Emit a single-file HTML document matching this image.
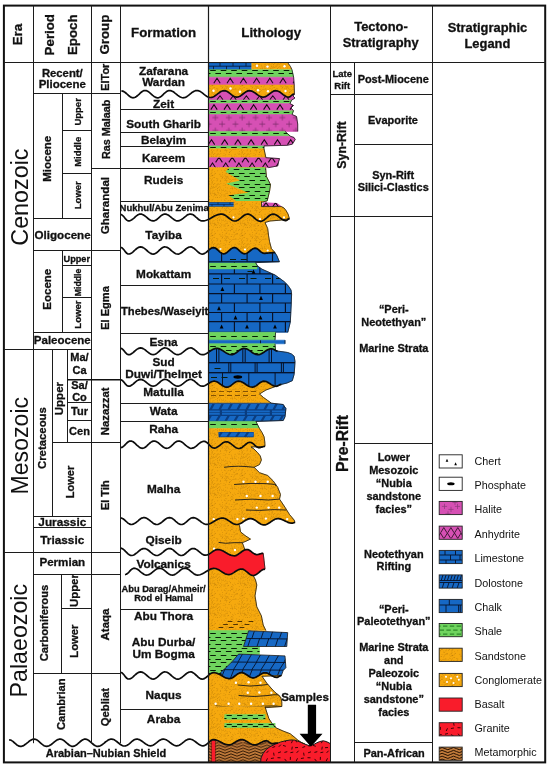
<!DOCTYPE html>
<html><head><meta charset="utf-8"><title>Stratigraphic column</title>
<style>html,body{margin:0;padding:0;background:#fff}svg{display:block;will-change:transform}text{font-family:"Liberation Sans",sans-serif;fill:#111}</style>
</head><body>
<svg width="550" height="769" viewBox="0 0 550 769">
<defs><pattern id="sand" width="30" height="30" patternUnits="userSpaceOnUse"><rect width="30" height="30" fill="#F6A90E"/><circle cx="9.7" cy="4.5" r="0.36" fill="#7a4600" fill-opacity="0.55"/><circle cx="19.5" cy="2.2" r="0.36" fill="#7a4600" fill-opacity="0.55"/><circle cx="16.1" cy="11.0" r="0.36" fill="#7a4600" fill-opacity="0.55"/><circle cx="1.7" cy="15.2" r="0.36" fill="#7a4600" fill-opacity="0.55"/><circle cx="1.1" cy="13.0" r="0.36" fill="#7a4600" fill-opacity="0.55"/><circle cx="2.1" cy="2.7" r="0.36" fill="#7a4600" fill-opacity="0.55"/><circle cx="12.7" cy="24.8" r="0.36" fill="#7a4600" fill-opacity="0.55"/><circle cx="3.7" cy="6.7" r="0.36" fill="#7a4600" fill-opacity="0.55"/><circle cx="18.8" cy="28.4" r="0.36" fill="#7a4600" fill-opacity="0.55"/><circle cx="17.3" cy="11.9" r="0.36" fill="#7a4600" fill-opacity="0.55"/><circle cx="29.3" cy="1.4" r="0.36" fill="#7a4600" fill-opacity="0.55"/><circle cx="25.8" cy="8.7" r="0.36" fill="#7a4600" fill-opacity="0.55"/><circle cx="4.3" cy="3.5" r="0.36" fill="#7a4600" fill-opacity="0.55"/><circle cx="9.3" cy="24.5" r="0.36" fill="#7a4600" fill-opacity="0.55"/><circle cx="5.4" cy="17.4" r="0.36" fill="#7a4600" fill-opacity="0.55"/><circle cx="19.2" cy="11.2" r="0.36" fill="#7a4600" fill-opacity="0.55"/><circle cx="16.4" cy="1.9" r="0.36" fill="#7a4600" fill-opacity="0.55"/><circle cx="1.8" cy="6.2" r="0.36" fill="#7a4600" fill-opacity="0.55"/><circle cx="20.4" cy="12.8" r="0.36" fill="#7a4600" fill-opacity="0.55"/><circle cx="9.4" cy="17.6" r="0.36" fill="#7a4600" fill-opacity="0.55"/><circle cx="13.6" cy="9.0" r="0.36" fill="#7a4600" fill-opacity="0.55"/><circle cx="23.8" cy="21.0" r="0.36" fill="#7a4600" fill-opacity="0.55"/><circle cx="7.3" cy="17.2" r="0.36" fill="#7a4600" fill-opacity="0.55"/><circle cx="15.8" cy="26.3" r="0.36" fill="#7a4600" fill-opacity="0.55"/><circle cx="21.9" cy="8.6" r="0.36" fill="#7a4600" fill-opacity="0.55"/><circle cx="29.4" cy="3.5" r="0.36" fill="#7a4600" fill-opacity="0.55"/><circle cx="12.5" cy="22.7" r="0.36" fill="#7a4600" fill-opacity="0.55"/><circle cx="4.6" cy="14.7" r="0.36" fill="#7a4600" fill-opacity="0.55"/><circle cx="1.2" cy="20.0" r="0.36" fill="#7a4600" fill-opacity="0.55"/><circle cx="22.9" cy="17.2" r="0.36" fill="#7a4600" fill-opacity="0.55"/><circle cx="26.3" cy="9.4" r="0.36" fill="#7a4600" fill-opacity="0.55"/><circle cx="20.9" cy="17.8" r="0.36" fill="#7a4600" fill-opacity="0.55"/><circle cx="17.4" cy="13.7" r="0.36" fill="#7a4600" fill-opacity="0.55"/><circle cx="25.2" cy="28.3" r="0.36" fill="#7a4600" fill-opacity="0.55"/><circle cx="14.2" cy="19.9" r="0.36" fill="#7a4600" fill-opacity="0.55"/><circle cx="1.8" cy="21.0" r="0.36" fill="#7a4600" fill-opacity="0.55"/><circle cx="19.4" cy="29.8" r="0.36" fill="#7a4600" fill-opacity="0.55"/><circle cx="24.7" cy="8.5" r="0.36" fill="#7a4600" fill-opacity="0.55"/><circle cx="11.6" cy="20.1" r="0.36" fill="#7a4600" fill-opacity="0.55"/><circle cx="0.7" cy="13.9" r="0.36" fill="#7a4600" fill-opacity="0.55"/><circle cx="5.0" cy="3.5" r="0.36" fill="#7a4600" fill-opacity="0.55"/><circle cx="1.8" cy="23.0" r="0.36" fill="#7a4600" fill-opacity="0.55"/><circle cx="3.9" cy="7.4" r="0.36" fill="#7a4600" fill-opacity="0.55"/><circle cx="11.7" cy="26.1" r="0.36" fill="#7a4600" fill-opacity="0.55"/><circle cx="2.4" cy="13.5" r="0.36" fill="#7a4600" fill-opacity="0.55"/><circle cx="16.5" cy="26.5" r="0.36" fill="#7a4600" fill-opacity="0.55"/><circle cx="24.6" cy="25.9" r="0.36" fill="#7a4600" fill-opacity="0.55"/><circle cx="8.4" cy="12.5" r="0.36" fill="#7a4600" fill-opacity="0.55"/><circle cx="10.8" cy="26.5" r="0.36" fill="#7a4600" fill-opacity="0.55"/><circle cx="28.7" cy="4.5" r="0.36" fill="#7a4600" fill-opacity="0.55"/><circle cx="5.3" cy="7.0" r="0.36" fill="#7a4600" fill-opacity="0.55"/><circle cx="7.0" cy="14.5" r="0.36" fill="#7a4600" fill-opacity="0.55"/><circle cx="17.7" cy="7.9" r="0.36" fill="#7a4600" fill-opacity="0.55"/><circle cx="0.1" cy="12.6" r="0.36" fill="#7a4600" fill-opacity="0.55"/><circle cx="11.1" cy="17.0" r="0.36" fill="#7a4600" fill-opacity="0.55"/><circle cx="28.6" cy="20.7" r="0.36" fill="#7a4600" fill-opacity="0.55"/><circle cx="15.5" cy="18.5" r="0.36" fill="#7a4600" fill-opacity="0.55"/><circle cx="20.3" cy="1.6" r="0.36" fill="#7a4600" fill-opacity="0.55"/><circle cx="27.0" cy="23.4" r="0.36" fill="#7a4600" fill-opacity="0.55"/><circle cx="26.2" cy="23.9" r="0.36" fill="#7a4600" fill-opacity="0.55"/><circle cx="11.8" cy="12.0" r="0.36" fill="#7a4600" fill-opacity="0.55"/><circle cx="3.1" cy="19.0" r="0.36" fill="#7a4600" fill-opacity="0.55"/><circle cx="1.9" cy="2.0" r="0.36" fill="#7a4600" fill-opacity="0.55"/><circle cx="6.3" cy="4.9" r="0.36" fill="#7a4600" fill-opacity="0.55"/><circle cx="10.2" cy="1.6" r="0.36" fill="#7a4600" fill-opacity="0.55"/><circle cx="0.0" cy="4.5" r="0.36" fill="#7a4600" fill-opacity="0.55"/><circle cx="3.0" cy="10.9" r="0.36" fill="#7a4600" fill-opacity="0.55"/><circle cx="0.8" cy="26.2" r="0.36" fill="#7a4600" fill-opacity="0.55"/><circle cx="18.4" cy="4.5" r="0.36" fill="#7a4600" fill-opacity="0.55"/><circle cx="7.6" cy="10.4" r="0.36" fill="#7a4600" fill-opacity="0.55"/><circle cx="10.9" cy="3.7" r="0.36" fill="#7a4600" fill-opacity="0.55"/><circle cx="25.5" cy="29.8" r="0.36" fill="#7a4600" fill-opacity="0.55"/><circle cx="14.0" cy="14.5" r="0.36" fill="#7a4600" fill-opacity="0.55"/><circle cx="2.6" cy="3.1" r="0.36" fill="#7a4600" fill-opacity="0.55"/><circle cx="10.3" cy="7.9" r="0.36" fill="#7a4600" fill-opacity="0.55"/><circle cx="24.9" cy="4.8" r="0.36" fill="#7a4600" fill-opacity="0.55"/><circle cx="0.7" cy="28.5" r="0.36" fill="#7a4600" fill-opacity="0.55"/><circle cx="15.8" cy="4.4" r="0.36" fill="#7a4600" fill-opacity="0.55"/><circle cx="16.3" cy="0.8" r="0.36" fill="#7a4600" fill-opacity="0.55"/><circle cx="15.8" cy="29.4" r="0.36" fill="#7a4600" fill-opacity="0.55"/><circle cx="25.9" cy="20.9" r="0.36" fill="#7a4600" fill-opacity="0.55"/><circle cx="7.8" cy="11.0" r="0.36" fill="#7a4600" fill-opacity="0.55"/><circle cx="5.0" cy="23.2" r="0.36" fill="#7a4600" fill-opacity="0.55"/><circle cx="16.0" cy="23.4" r="0.36" fill="#7a4600" fill-opacity="0.55"/><circle cx="9.9" cy="6.7" r="0.36" fill="#7a4600" fill-opacity="0.55"/><circle cx="24.3" cy="29.5" r="0.36" fill="#7a4600" fill-opacity="0.55"/><circle cx="25.6" cy="24.2" r="0.36" fill="#7a4600" fill-opacity="0.55"/><circle cx="24.5" cy="22.2" r="0.36" fill="#7a4600" fill-opacity="0.55"/><circle cx="6.8" cy="15.5" r="0.36" fill="#7a4600" fill-opacity="0.55"/><circle cx="10.7" cy="0.9" r="0.36" fill="#7a4600" fill-opacity="0.55"/><circle cx="0.8" cy="8.4" r="0.36" fill="#7a4600" fill-opacity="0.55"/><circle cx="7.8" cy="20.8" r="0.36" fill="#7a4600" fill-opacity="0.55"/><circle cx="28.7" cy="13.4" r="0.36" fill="#7a4600" fill-opacity="0.55"/><circle cx="28.1" cy="29.6" r="0.36" fill="#7a4600" fill-opacity="0.55"/><circle cx="28.7" cy="10.9" r="0.36" fill="#7a4600" fill-opacity="0.55"/><circle cx="6.6" cy="6.8" r="0.36" fill="#7a4600" fill-opacity="0.55"/><circle cx="5.9" cy="6.1" r="0.36" fill="#7a4600" fill-opacity="0.55"/><circle cx="18.7" cy="27.0" r="0.36" fill="#7a4600" fill-opacity="0.55"/><circle cx="25.2" cy="14.4" r="0.36" fill="#7a4600" fill-opacity="0.55"/><circle cx="19.6" cy="24.0" r="0.36" fill="#7a4600" fill-opacity="0.55"/><circle cx="2.5" cy="19.8" r="0.36" fill="#7a4600" fill-opacity="0.55"/><circle cx="27.3" cy="23.5" r="0.36" fill="#7a4600" fill-opacity="0.55"/><circle cx="22.5" cy="14.3" r="0.36" fill="#7a4600" fill-opacity="0.55"/><circle cx="5.4" cy="23.7" r="0.36" fill="#7a4600" fill-opacity="0.55"/><circle cx="10.0" cy="24.0" r="0.36" fill="#7a4600" fill-opacity="0.55"/><circle cx="29.1" cy="11.9" r="0.36" fill="#7a4600" fill-opacity="0.55"/><circle cx="12.0" cy="28.4" r="0.36" fill="#7a4600" fill-opacity="0.55"/><circle cx="21.7" cy="5.1" r="0.36" fill="#7a4600" fill-opacity="0.55"/><circle cx="3.8" cy="4.5" r="0.36" fill="#7a4600" fill-opacity="0.55"/><circle cx="27.1" cy="24.2" r="0.36" fill="#7a4600" fill-opacity="0.55"/><circle cx="4.4" cy="24.8" r="0.36" fill="#7a4600" fill-opacity="0.55"/><circle cx="29.4" cy="19.7" r="0.36" fill="#7a4600" fill-opacity="0.55"/><circle cx="10.5" cy="16.5" r="0.36" fill="#7a4600" fill-opacity="0.55"/><circle cx="3.9" cy="0.4" r="0.36" fill="#7a4600" fill-opacity="0.55"/><circle cx="29.1" cy="19.5" r="0.36" fill="#7a4600" fill-opacity="0.55"/><circle cx="15.8" cy="28.0" r="0.36" fill="#7a4600" fill-opacity="0.55"/><circle cx="13.0" cy="26.2" r="0.36" fill="#7a4600" fill-opacity="0.55"/><circle cx="24.8" cy="6.3" r="0.36" fill="#7a4600" fill-opacity="0.55"/><circle cx="7.6" cy="8.8" r="0.36" fill="#7a4600" fill-opacity="0.55"/><circle cx="7.2" cy="17.6" r="0.36" fill="#7a4600" fill-opacity="0.55"/><circle cx="7.8" cy="12.6" r="0.36" fill="#7a4600" fill-opacity="0.55"/><circle cx="3.9" cy="27.3" r="0.36" fill="#7a4600" fill-opacity="0.55"/><circle cx="10.6" cy="13.7" r="0.36" fill="#7a4600" fill-opacity="0.55"/><circle cx="17.5" cy="27.1" r="0.36" fill="#7a4600" fill-opacity="0.55"/><circle cx="12.6" cy="27.5" r="0.36" fill="#7a4600" fill-opacity="0.55"/><circle cx="15.0" cy="16.0" r="0.36" fill="#7a4600" fill-opacity="0.55"/><circle cx="15.7" cy="0.6" r="0.36" fill="#7a4600" fill-opacity="0.55"/><circle cx="13.2" cy="5.5" r="0.36" fill="#7a4600" fill-opacity="0.55"/><circle cx="0.1" cy="24.0" r="0.36" fill="#7a4600" fill-opacity="0.55"/><circle cx="5.2" cy="14.2" r="0.36" fill="#7a4600" fill-opacity="0.55"/><circle cx="21.8" cy="16.7" r="0.36" fill="#7a4600" fill-opacity="0.55"/><circle cx="9.8" cy="15.6" r="0.36" fill="#7a4600" fill-opacity="0.55"/><circle cx="16.7" cy="23.5" r="0.36" fill="#7a4600" fill-opacity="0.55"/><circle cx="3.2" cy="16.8" r="0.36" fill="#7a4600" fill-opacity="0.55"/><circle cx="7.5" cy="8.3" r="0.36" fill="#7a4600" fill-opacity="0.55"/><circle cx="23.2" cy="15.2" r="0.36" fill="#7a4600" fill-opacity="0.55"/><circle cx="16.9" cy="22.8" r="0.36" fill="#7a4600" fill-opacity="0.55"/><circle cx="27.4" cy="13.3" r="0.36" fill="#7a4600" fill-opacity="0.55"/><circle cx="18.4" cy="15.2" r="0.36" fill="#7a4600" fill-opacity="0.55"/><circle cx="15.4" cy="20.8" r="0.36" fill="#7a4600" fill-opacity="0.55"/><circle cx="13.6" cy="16.0" r="0.36" fill="#7a4600" fill-opacity="0.55"/><circle cx="14.3" cy="28.2" r="0.36" fill="#7a4600" fill-opacity="0.55"/><circle cx="21.0" cy="26.3" r="0.36" fill="#7a4600" fill-opacity="0.55"/><circle cx="28.3" cy="7.8" r="0.36" fill="#7a4600" fill-opacity="0.55"/><circle cx="16.8" cy="28.3" r="0.36" fill="#7a4600" fill-opacity="0.55"/><circle cx="25.2" cy="4.1" r="0.36" fill="#7a4600" fill-opacity="0.55"/><circle cx="3.6" cy="13.3" r="0.36" fill="#7a4600" fill-opacity="0.55"/><circle cx="2.2" cy="7.2" r="0.36" fill="#7a4600" fill-opacity="0.55"/><circle cx="2.2" cy="20.1" r="0.36" fill="#7a4600" fill-opacity="0.55"/><circle cx="23.5" cy="26.9" r="0.36" fill="#7a4600" fill-opacity="0.55"/><circle cx="4.6" cy="21.5" r="0.36" fill="#7a4600" fill-opacity="0.55"/><circle cx="19.8" cy="4.3" r="0.36" fill="#7a4600" fill-opacity="0.55"/><circle cx="26.5" cy="29.0" r="0.36" fill="#7a4600" fill-opacity="0.55"/><circle cx="6.6" cy="28.6" r="0.36" fill="#7a4600" fill-opacity="0.55"/><circle cx="11.9" cy="14.6" r="0.36" fill="#7a4600" fill-opacity="0.55"/><circle cx="29.7" cy="25.0" r="0.36" fill="#7a4600" fill-opacity="0.55"/><circle cx="4.8" cy="12.9" r="0.36" fill="#7a4600" fill-opacity="0.55"/><circle cx="15.5" cy="10.2" r="0.36" fill="#7a4600" fill-opacity="0.55"/><circle cx="5.9" cy="9.6" r="0.36" fill="#7a4600" fill-opacity="0.55"/><circle cx="21.7" cy="0.6" r="0.36" fill="#7a4600" fill-opacity="0.55"/><circle cx="16.6" cy="13.2" r="0.36" fill="#7a4600" fill-opacity="0.55"/><circle cx="0.5" cy="9.9" r="0.36" fill="#7a4600" fill-opacity="0.55"/><circle cx="18.7" cy="15.4" r="0.36" fill="#7a4600" fill-opacity="0.55"/><circle cx="1.9" cy="29.6" r="0.36" fill="#7a4600" fill-opacity="0.55"/><circle cx="23.7" cy="29.2" r="0.36" fill="#7a4600" fill-opacity="0.55"/><circle cx="3.1" cy="8.0" r="0.36" fill="#7a4600" fill-opacity="0.55"/><circle cx="1.2" cy="23.4" r="0.36" fill="#7a4600" fill-opacity="0.55"/><circle cx="8.1" cy="3.9" r="0.36" fill="#7a4600" fill-opacity="0.55"/><circle cx="12.7" cy="27.3" r="0.36" fill="#7a4600" fill-opacity="0.55"/><circle cx="24.6" cy="7.8" r="0.36" fill="#7a4600" fill-opacity="0.55"/><circle cx="4.5" cy="27.6" r="0.36" fill="#7a4600" fill-opacity="0.55"/><circle cx="17.1" cy="21.0" r="0.36" fill="#7a4600" fill-opacity="0.55"/><circle cx="2.7" cy="1.7" r="0.36" fill="#7a4600" fill-opacity="0.55"/><circle cx="20.6" cy="12.8" r="0.36" fill="#7a4600" fill-opacity="0.55"/><circle cx="2.2" cy="28.2" r="0.36" fill="#7a4600" fill-opacity="0.55"/><circle cx="19.0" cy="24.0" r="0.36" fill="#7a4600" fill-opacity="0.55"/><circle cx="2.5" cy="25.7" r="0.36" fill="#7a4600" fill-opacity="0.55"/><circle cx="2.0" cy="25.9" r="0.36" fill="#7a4600" fill-opacity="0.55"/><circle cx="13.6" cy="10.2" r="0.36" fill="#7a4600" fill-opacity="0.55"/><circle cx="16.6" cy="27.8" r="0.36" fill="#7a4600" fill-opacity="0.55"/><circle cx="8.0" cy="3.9" r="0.36" fill="#7a4600" fill-opacity="0.55"/><circle cx="15.8" cy="7.2" r="0.36" fill="#7a4600" fill-opacity="0.55"/><circle cx="3.3" cy="4.8" r="0.36" fill="#7a4600" fill-opacity="0.55"/><circle cx="1.5" cy="6.1" r="0.36" fill="#7a4600" fill-opacity="0.55"/><circle cx="9.4" cy="9.2" r="0.36" fill="#7a4600" fill-opacity="0.55"/><circle cx="22.8" cy="8.7" r="0.36" fill="#7a4600" fill-opacity="0.55"/><circle cx="15.0" cy="5.3" r="0.36" fill="#7a4600" fill-opacity="0.55"/><circle cx="10.4" cy="0.5" r="0.36" fill="#7a4600" fill-opacity="0.55"/><circle cx="7.5" cy="0.5" r="0.36" fill="#7a4600" fill-opacity="0.55"/><circle cx="22.0" cy="16.5" r="0.36" fill="#7a4600" fill-opacity="0.55"/><circle cx="5.7" cy="14.2" r="0.36" fill="#7a4600" fill-opacity="0.55"/><circle cx="28.0" cy="3.2" r="0.36" fill="#7a4600" fill-opacity="0.55"/><circle cx="24.6" cy="13.0" r="0.36" fill="#7a4600" fill-opacity="0.55"/><circle cx="14.9" cy="25.0" r="0.36" fill="#7a4600" fill-opacity="0.55"/><circle cx="11.8" cy="15.2" r="0.36" fill="#7a4600" fill-opacity="0.55"/><circle cx="20.6" cy="29.5" r="0.36" fill="#7a4600" fill-opacity="0.55"/><circle cx="10.3" cy="25.0" r="0.36" fill="#7a4600" fill-opacity="0.55"/><circle cx="21.2" cy="19.1" r="0.36" fill="#7a4600" fill-opacity="0.55"/><circle cx="12.1" cy="10.4" r="0.36" fill="#7a4600" fill-opacity="0.55"/><circle cx="1.6" cy="3.9" r="0.36" fill="#7a4600" fill-opacity="0.55"/><circle cx="2.1" cy="22.2" r="0.36" fill="#7a4600" fill-opacity="0.55"/><circle cx="7.7" cy="4.9" r="0.36" fill="#7a4600" fill-opacity="0.55"/><circle cx="2.5" cy="25.2" r="0.36" fill="#7a4600" fill-opacity="0.55"/><circle cx="26.1" cy="20.1" r="0.36" fill="#7a4600" fill-opacity="0.55"/><circle cx="8.5" cy="7.3" r="0.36" fill="#7a4600" fill-opacity="0.55"/><circle cx="8.8" cy="13.8" r="0.36" fill="#7a4600" fill-opacity="0.55"/><circle cx="4.7" cy="13.4" r="0.36" fill="#7a4600" fill-opacity="0.55"/><circle cx="7.9" cy="28.9" r="0.36" fill="#7a4600" fill-opacity="0.55"/><circle cx="29.2" cy="16.4" r="0.36" fill="#7a4600" fill-opacity="0.55"/><circle cx="7.3" cy="29.0" r="0.36" fill="#7a4600" fill-opacity="0.55"/><circle cx="9.3" cy="10.7" r="0.36" fill="#7a4600" fill-opacity="0.55"/><circle cx="0.0" cy="11.4" r="0.36" fill="#7a4600" fill-opacity="0.55"/><circle cx="14.2" cy="15.1" r="0.36" fill="#7a4600" fill-opacity="0.55"/><circle cx="6.0" cy="15.1" r="0.36" fill="#7a4600" fill-opacity="0.55"/><circle cx="0.1" cy="7.9" r="0.36" fill="#7a4600" fill-opacity="0.55"/><circle cx="2.7" cy="12.0" r="0.36" fill="#7a4600" fill-opacity="0.55"/><circle cx="1.3" cy="0.7" r="0.36" fill="#7a4600" fill-opacity="0.55"/><circle cx="9.1" cy="7.0" r="0.36" fill="#7a4600" fill-opacity="0.55"/><circle cx="17.6" cy="15.9" r="0.36" fill="#7a4600" fill-opacity="0.55"/><circle cx="22.5" cy="19.7" r="0.36" fill="#7a4600" fill-opacity="0.55"/><circle cx="21.5" cy="26.4" r="0.36" fill="#7a4600" fill-opacity="0.55"/><circle cx="11.7" cy="9.8" r="0.36" fill="#7a4600" fill-opacity="0.55"/><circle cx="29.5" cy="4.5" r="0.36" fill="#7a4600" fill-opacity="0.55"/><circle cx="21.7" cy="19.3" r="0.36" fill="#7a4600" fill-opacity="0.55"/><circle cx="1.3" cy="25.1" r="0.36" fill="#7a4600" fill-opacity="0.55"/><circle cx="26.8" cy="18.8" r="0.36" fill="#7a4600" fill-opacity="0.55"/><circle cx="22.0" cy="24.4" r="0.36" fill="#7a4600" fill-opacity="0.55"/><circle cx="4.2" cy="15.7" r="0.36" fill="#7a4600" fill-opacity="0.55"/><circle cx="15.1" cy="25.0" r="0.36" fill="#7a4600" fill-opacity="0.55"/><circle cx="24.1" cy="24.8" r="0.36" fill="#7a4600" fill-opacity="0.55"/><circle cx="17.5" cy="26.8" r="0.36" fill="#7a4600" fill-opacity="0.55"/><circle cx="20.5" cy="20.8" r="0.36" fill="#7a4600" fill-opacity="0.55"/><circle cx="6.9" cy="0.9" r="0.36" fill="#7a4600" fill-opacity="0.55"/><circle cx="4.0" cy="10.8" r="0.36" fill="#7a4600" fill-opacity="0.55"/><circle cx="3.1" cy="25.1" r="0.36" fill="#7a4600" fill-opacity="0.55"/><circle cx="16.8" cy="18.8" r="0.36" fill="#7a4600" fill-opacity="0.55"/><circle cx="18.8" cy="20.4" r="0.36" fill="#7a4600" fill-opacity="0.55"/><circle cx="14.7" cy="0.1" r="0.36" fill="#7a4600" fill-opacity="0.55"/><circle cx="23.9" cy="22.4" r="0.36" fill="#7a4600" fill-opacity="0.55"/><circle cx="15.1" cy="16.1" r="0.36" fill="#7a4600" fill-opacity="0.55"/><circle cx="19.8" cy="2.0" r="0.36" fill="#7a4600" fill-opacity="0.55"/><circle cx="22.1" cy="7.6" r="0.36" fill="#7a4600" fill-opacity="0.55"/><circle cx="2.2" cy="8.0" r="0.36" fill="#7a4600" fill-opacity="0.55"/><circle cx="21.9" cy="6.2" r="0.36" fill="#7a4600" fill-opacity="0.55"/><circle cx="22.2" cy="29.3" r="0.36" fill="#7a4600" fill-opacity="0.55"/><circle cx="14.8" cy="11.5" r="0.36" fill="#7a4600" fill-opacity="0.55"/><circle cx="14.4" cy="20.5" r="0.36" fill="#7a4600" fill-opacity="0.55"/><circle cx="23.0" cy="18.5" r="0.36" fill="#7a4600" fill-opacity="0.55"/><circle cx="19.3" cy="2.3" r="0.36" fill="#7a4600" fill-opacity="0.55"/><circle cx="4.4" cy="7.6" r="0.36" fill="#7a4600" fill-opacity="0.55"/><circle cx="22.3" cy="9.1" r="0.36" fill="#7a4600" fill-opacity="0.55"/><circle cx="17.0" cy="0.4" r="0.36" fill="#7a4600" fill-opacity="0.55"/><circle cx="1.8" cy="8.1" r="0.36" fill="#7a4600" fill-opacity="0.55"/><circle cx="20.2" cy="20.8" r="0.36" fill="#7a4600" fill-opacity="0.55"/><circle cx="20.3" cy="8.7" r="0.36" fill="#7a4600" fill-opacity="0.55"/><circle cx="15.5" cy="13.9" r="0.36" fill="#7a4600" fill-opacity="0.55"/><circle cx="14.0" cy="3.6" r="0.36" fill="#7a4600" fill-opacity="0.55"/><circle cx="26.8" cy="6.0" r="0.36" fill="#7a4600" fill-opacity="0.55"/><circle cx="29.3" cy="28.1" r="0.36" fill="#7a4600" fill-opacity="0.55"/><circle cx="0.5" cy="13.8" r="0.36" fill="#7a4600" fill-opacity="0.55"/></pattern><pattern id="shale" width="13" height="7.6" patternUnits="userSpaceOnUse"><rect width="13" height="7.6" fill="#6FD45E"/><path d="M1 1.9h6 M7.5 5.7h6 M-5.5 5.7h6" stroke="#0b2a08" stroke-width="1"/></pattern><pattern id="anh" width="13" height="20" patternUnits="userSpaceOnUse"><rect width="13" height="20" fill="#D650B4"/></pattern><pattern id="hal" width="13.4" height="13" patternUnits="userSpaceOnUse" patternTransform="translate(4.7 2.6)"><rect width="13.4" height="13" fill="#D650B4"/><path d="M3 1.5v6 M0 4.5h6 M9.7 8v6 M9.7 -5v6 M6.7 11h6 M6.7 -2h6" stroke="#7a2a68" stroke-width="0.7"/></pattern><pattern id="meta" width="24" height="23.2" patternUnits="userSpaceOnUse"><rect width="24" height="23.2" fill="#C07A3A"/><path d="M0 1.0 q3 -2.3 6 0 t6 0 t6 0 t6 0 M0 3.9 q3 -2.3 6 0 t6 0 t6 0 t6 0 M0 6.8 q3 -2.3 6 0 t6 0 t6 0 t6 0 M0 9.7 q3 -2.3 6 0 t6 0 t6 0 t6 0 M0 12.6 q3 -2.3 6 0 t6 0 t6 0 t6 0 M0 15.5 q3 -2.3 6 0 t6 0 t6 0 t6 0 M0 18.4 q3 -2.3 6 0 t6 0 t6 0 t6 0 M0 21.3 q3 -2.3 6 0 t6 0 t6 0 t6 0 " stroke="#241000" stroke-width="0.95" fill="none"/></pattern><pattern id="gran" width="30" height="30" patternUnits="userSpaceOnUse"><rect width="30" height="30" fill="#F91C2B"/><path d="M3.6 2.7L4.1 5.7M3.9 8.0L0.9 8.5M0.9 14.6L3.6 15.9M1.7 21.6L4.4 22.8M5.2 26.5L2.4 27.5M11.0 1.8L8.1 2.8M7.5 7.7L10.5 7.8M8.1 13.7L9.9 16.1M7.2 19.3L8.9 21.9M10.9 24.6L8.8 26.8M17.3 1.7L14.4 2.4M14.6 8.9L16.5 11.2M16.2 14.7L13.2 14.7M14.9 19.2L15.6 22.1M13.0 25.4L15.8 26.3M23.3 2.1L20.4 2.7M20.4 6.9L20.3 9.9M21.7 14.5L18.7 14.9M22.6 20.4L21.4 23.2M22.3 26.7L21.8 29.6M28.6 0.7L26.6 2.9M27.5 8.3L26.2 11.0M27.9 13.5L25.0 14.2M25.3 19.6L26.7 22.3M28.0 27.5L25.0 27.7" stroke="#200" stroke-width="0.9"/></pattern><clipPath id="c0"><path d="M209.0 62.6 L251.5 62.6 L251.5 62.6 L251.5 69.8 L251.5 69.8 L209.0 69.8 Z"/></clipPath><clipPath id="c1"><path d="M251.5 62.6 L287.7 62.6 L290.5 66.5 L292.0 69.8 L251.5 69.8 Z"/></clipPath><clipPath id="c2"><path d="M209.0 69.8 L292.0 69.8 L292.0 69.8 L293.6 77.2 L293.6 77.2 L209.0 77.2 Z"/></clipPath><clipPath id="c3"><path d="M209.0 77.2 L293.6 77.2 L293.6 77.2 L294.2 85.0 L294.2 85.0 L209.0 85.0 Z"/></clipPath><clipPath id="c4"><path d="M209.0 85.0 L294.2 85.0 L294.2 85.0 L294.4 93.0 L294.4 94.0 L293.1 94.3 L291.9 95.2 L290.6 96.3 L289.4 97.0 L288.1 97.1 L286.9 96.8 L285.6 96.3 L284.4 95.5 L283.1 94.6 L281.8 93.6 L280.6 92.6 L279.3 91.8 L278.1 91.2 L276.8 90.8 L275.6 90.7 L274.3 90.9 L273.0 91.5 L271.8 92.2 L270.5 93.1 L269.3 94.1 L268.0 95.1 L266.8 95.9 L265.5 96.6 L264.3 97.0 L263.0 97.1 L261.7 96.9 L260.5 96.5 L259.2 95.9 L258.0 95.1 L256.7 94.2 L255.5 93.3 L254.2 92.4 L253.0 91.7 L251.7 91.1 L250.4 90.8 L249.2 90.7 L247.9 90.9 L246.7 91.4 L245.4 92.2 L244.2 93.1 L242.9 94.1 L241.7 95.1 L240.4 95.9 L239.1 96.6 L237.9 97.0 L236.6 97.1 L235.4 96.9 L234.1 96.4 L232.9 95.7 L231.6 94.8 L230.3 93.8 L229.1 92.8 L227.8 92.0 L226.6 91.3 L225.3 90.8 L224.1 90.7 L222.8 90.8 L221.6 91.3 L220.3 91.9 L219.0 92.8 L217.8 93.7 L216.5 94.7 L215.3 95.6 L214.0 96.4 L212.8 97.0 L211.5 97.4 L210.3 97.5 L209.0 97.3 Z"/></clipPath><clipPath id="c5"><path d="M209.0 97.3 L210.3 97.5 L211.5 97.4 L212.8 97.0 L214.0 96.4 L215.3 95.6 L216.5 94.7 L217.8 93.7 L219.0 92.8 L220.3 91.9 L221.6 91.3 L222.8 90.8 L224.1 90.7 L225.3 90.8 L226.6 91.3 L227.8 92.0 L229.1 92.8 L230.3 93.8 L231.6 94.8 L232.9 95.7 L234.1 96.4 L235.4 96.9 L236.6 97.1 L237.9 97.0 L239.1 96.6 L240.4 95.9 L241.7 95.1 L242.9 94.1 L244.2 93.1 L245.4 92.2 L246.7 91.4 L247.9 90.9 L249.2 90.7 L250.4 90.8 L251.7 91.1 L253.0 91.7 L254.2 92.4 L255.5 93.3 L256.7 94.2 L258.0 95.1 L259.2 95.9 L260.5 96.5 L261.7 96.9 L263.0 97.1 L264.3 97.0 L265.5 96.6 L266.8 95.9 L268.0 95.1 L269.3 94.1 L270.5 93.1 L271.8 92.2 L273.0 91.5 L274.3 90.9 L275.6 90.7 L276.8 90.8 L278.1 91.2 L279.3 91.8 L280.6 92.6 L281.8 93.6 L283.1 94.6 L284.4 95.5 L285.6 96.3 L286.9 96.8 L288.1 97.1 L289.4 97.0 L290.6 96.3 L291.9 95.2 L293.1 94.3 L294.4 94.0 L294.4 94.0 L293.0 96.0 L295.0 98.0 L291.5 100.2 L291.5 100.2 L209.0 100.2 Z"/></clipPath><clipPath id="c6"><path d="M209.0 100.2 L291.5 100.2 L291.5 100.2 L290.0 103.6 L290.0 103.6 L209.0 103.6 Z"/></clipPath><clipPath id="c7"><path d="M209.0 103.6 L290.0 103.6 L290.0 103.6 L293.5 105.5 L291.0 108.0 L293.5 110.8 L293.5 110.8 L209.0 110.8 Z"/></clipPath><clipPath id="c8"><path d="M209.0 110.8 L293.5 110.8 L293.5 110.8 L292.0 114.5 L292.0 114.5 L209.0 114.5 Z"/></clipPath><clipPath id="c9"><path d="M209.0 114.5 L292.0 114.5 L292.0 114.5 L296.5 116.5 L297.7 124.0 L297.7 131.4 L297.7 131.4 L209.0 131.4 Z"/></clipPath><clipPath id="c10"><path d="M209.0 131.4 L285.0 131.4 L285.0 131.4 L290.5 136.3 L290.5 136.3 L209.0 136.3 Z"/></clipPath><clipPath id="c11"><path d="M209.0 136.3 L290.5 136.3 L290.5 136.3 L294.0 137.5 L295.2 139.5 L292.3 144.2 L287.0 145.3 L264.0 145.9 L264.0 145.9 L209.0 145.9 Z"/></clipPath><clipPath id="c12"><path d="M209.0 145.9 L264.0 145.9 L264.0 145.9 L264.0 148.8 L264.0 148.8 L209.0 148.8 Z"/></clipPath><clipPath id="c13"><path d="M209.0 148.8 L264.0 148.8 L264.0 148.8 L265.9 157.7 L265.9 157.7 L209.0 157.7 Z"/></clipPath><clipPath id="c14"><path d="M209.0 157.7 L265.9 157.7 L265.9 157.7 L279.5 158.6 L278.5 162.0 L277.7 165.9 L268.6 167.6 L268.6 167.6 L209.0 167.6 Z"/></clipPath><clipPath id="c15"><path d="M209.0 167.6 L265.6 167.6 L265.6 167.6 L266.4 176.4 L270.5 184.5 L269.6 191.1 L267.2 200.9 L261.5 202.3 L261.5 202.3 L209.0 202.3 Z"/></clipPath><clipPath id="c16"><path d="M229.5 167.6 L265.6 167.6 L266.4 176.4 L270.5 184.5 L269.6 191.1 L267.2 200.9 L236.1 200.9 L228.7 195.2 L248.4 192.7 L226.3 183.4 L240.2 180.5 L225.5 171.8 Z"/></clipPath><clipPath id="c17"><path d="M209.0 201.5 L261.5 201.5 L261.5 201.5 L261.5 206.6 L281.4 206.6 L284.0 208.0 L286.0 210.5 L288.0 214.0 L289.2 218.0 L289.2 218.6 L287.9 219.4 L286.7 220.4 L285.4 220.6 L284.2 220.3 L282.9 219.8 L281.7 219.0 L280.4 218.1 L279.2 217.0 L277.9 216.1 L276.7 215.2 L275.4 214.6 L274.2 214.2 L272.9 214.1 L271.7 214.4 L270.4 214.9 L269.1 215.8 L267.9 216.8 L266.6 217.9 L265.4 219.0 L264.1 219.9 L262.9 220.7 L261.6 221.2 L260.4 221.3 L259.1 221.1 L257.9 220.6 L256.6 219.8 L255.4 218.8 L254.1 217.7 L252.9 216.6 L251.6 215.6 L250.4 214.8 L249.1 214.3 L247.8 214.1 L246.6 214.2 L245.3 214.7 L244.1 215.4 L242.8 216.3 L241.6 217.4 L240.3 218.4 L239.1 219.4 L237.8 220.2 L236.6 220.7 L235.3 221.0 L234.1 220.9 L232.8 220.6 L231.6 220.0 L230.3 219.2 L229.1 218.2 L227.8 217.2 L226.5 216.3 L225.3 215.4 L224.0 214.7 L222.8 214.3 L221.5 214.1 L220.3 214.2 L219.0 214.4 L217.8 214.7 L216.5 215.1 L215.3 215.7 L214.0 216.3 L212.8 217.0 L211.5 217.7 L210.3 218.4 L209.0 219.1 Z"/></clipPath><clipPath id="c18"><path d="M209.0 202.2 L233.6 202.2 L233.6 206.6 L209.0 206.6 Z"/></clipPath><clipPath id="c19"><path d="M261.5 206.6 L263.1 202.2 L277.0 202.9 L281.9 206.6 Z"/></clipPath><clipPath id="c20"><path d="M209.0 219.1 L210.3 218.4 L211.5 217.7 L212.8 217.0 L214.0 216.3 L215.3 215.7 L216.5 215.1 L217.8 214.7 L219.0 214.4 L220.3 214.2 L221.5 214.1 L222.8 214.3 L224.0 214.7 L225.3 215.4 L226.5 216.3 L227.8 217.2 L229.1 218.2 L230.3 219.2 L231.6 220.0 L232.8 220.6 L234.1 220.9 L235.3 221.0 L236.6 220.7 L237.8 220.2 L239.1 219.4 L240.3 218.4 L241.6 217.4 L242.8 216.3 L244.1 215.4 L245.3 214.7 L246.6 214.2 L247.8 214.1 L249.1 214.3 L250.4 214.8 L251.6 215.6 L252.9 216.6 L254.1 217.7 L255.4 218.8 L256.6 219.8 L257.9 220.6 L259.1 221.1 L260.4 221.3 L261.6 221.2 L262.9 220.7 L264.1 219.9 L265.4 219.0 L266.6 217.9 L267.9 216.8 L269.1 215.8 L270.4 214.9 L271.7 214.4 L272.9 214.1 L274.2 214.2 L275.4 214.6 L276.7 215.2 L277.9 216.1 L279.2 217.0 L280.4 218.1 L281.7 219.0 L282.9 219.8 L284.2 220.3 L285.4 220.6 L286.7 220.4 L287.9 219.4 L289.2 218.6 L289.2 218.8 L280.0 220.2 L270.0 221.0 L265.0 222.5 L267.7 228.6 L268.6 235.9 L269.5 241.4 L271.4 248.6 L275.0 252.6 L275.0 252.6 L273.7 252.6 L272.5 252.7 L271.2 252.8 L269.9 252.9 L268.7 253.0 L267.4 253.1 L266.1 253.2 L264.8 253.3 L263.6 253.3 L262.3 252.8 L261.0 252.0 L259.8 250.9 L258.5 249.7 L257.2 248.8 L256.0 248.3 L254.7 248.2 L253.4 248.6 L252.2 249.3 L250.9 250.2 L249.6 251.2 L248.3 252.2 L247.1 253.0 L245.8 253.6 L244.5 253.8 L243.3 253.6 L242.0 252.9 L240.7 251.9 L239.5 250.8 L238.2 249.6 L236.9 248.6 L235.7 247.9 L234.4 247.6 L233.1 247.8 L231.8 248.4 L230.6 249.3 L229.3 250.4 L228.0 251.5 L226.8 252.6 L225.5 253.3 L224.2 253.7 L223.0 253.7 L221.7 253.3 L220.4 252.4 L219.2 251.3 L217.9 250.1 L216.6 248.9 L215.3 248.1 L214.1 247.6 L212.8 247.7 L211.5 248.1 L210.3 248.8 L209.0 249.9 Z"/></clipPath><clipPath id="c21"><path d="M209.0 249.9 L210.3 248.8 L211.5 248.1 L212.8 247.7 L214.1 247.6 L215.3 248.1 L216.6 248.9 L217.9 250.1 L219.2 251.3 L220.4 252.4 L221.7 253.3 L223.0 253.7 L224.2 253.7 L225.5 253.3 L226.8 252.6 L228.0 251.5 L229.3 250.4 L230.6 249.3 L231.8 248.4 L233.1 247.8 L234.4 247.6 L235.7 247.9 L236.9 248.6 L238.2 249.6 L239.5 250.8 L240.7 251.9 L242.0 252.9 L243.3 253.6 L244.5 253.8 L245.8 253.6 L247.1 253.0 L248.3 252.2 L249.6 251.2 L250.9 250.2 L252.2 249.3 L253.4 248.6 L254.7 248.2 L256.0 248.3 L257.2 248.8 L258.5 249.7 L259.8 250.9 L261.0 252.0 L262.3 252.8 L263.6 253.3 L264.8 253.3 L266.1 253.2 L267.4 253.1 L268.7 253.0 L269.9 252.9 L271.2 252.8 L272.5 252.7 L273.7 252.6 L275.0 252.6 L275.0 252.6 L277.0 256.0 L279.4 261.8 L255.5 262.6 L257.5 266.0 L262.0 269.2 L275.0 275.0 L284.0 281.5 L287.8 285.2 L291.0 290.0 L291.6 294.0 L291.2 305.0 L290.3 322.0 L287.8 332.3 L287.8 332.3 L209.0 332.3 Z"/></clipPath><clipPath id="c22"><path d="M209.0 332.3 L275.6 332.3 L275.6 332.3 L275.0 340.2 L275.0 340.2 L209.0 340.2 Z"/></clipPath><clipPath id="c23"><path d="M209.0 340.2 L285.0 340.2 L285.0 340.2 L285.0 343.8 L285.0 343.8 L209.0 343.8 Z"/></clipPath><clipPath id="c24"><path d="M209.0 343.8 L275.0 343.8 L275.0 343.8 L275.5 350.0 L275.5 350.5 L274.2 349.8 L273.0 349.1 L271.7 348.8 L270.5 348.9 L269.2 349.2 L268.0 349.7 L266.7 350.3 L265.5 351.1 L264.2 352.0 L263.0 352.8 L261.7 353.5 L260.4 354.1 L259.2 354.5 L257.9 354.7 L256.7 354.6 L255.4 354.3 L254.2 353.7 L252.9 353.0 L251.7 352.1 L250.4 351.2 L249.2 350.3 L247.9 349.5 L246.6 348.9 L245.4 348.5 L244.1 348.4 L242.9 348.5 L241.6 349.0 L240.4 349.6 L239.1 350.5 L237.9 351.5 L236.6 352.4 L235.3 353.3 L234.1 354.0 L232.8 354.5 L231.6 354.7 L230.3 354.6 L229.1 354.3 L227.8 353.8 L226.6 353.1 L225.3 352.4 L224.1 351.5 L222.8 350.7 L221.5 349.9 L220.3 349.2 L219.0 348.8 L217.8 348.5 L216.5 348.4 L215.3 348.6 L214.0 349.0 L212.8 349.5 L211.5 350.3 L210.3 351.1 L209.0 351.9 Z"/></clipPath><clipPath id="c25"><path d="M209.0 351.9 L210.3 351.1 L211.5 350.2 L212.8 349.5 L214.1 348.9 L215.4 348.6 L216.6 348.4 L217.9 348.5 L219.2 348.8 L220.4 349.3 L221.7 350.0 L223.0 350.8 L224.3 351.7 L225.5 352.5 L226.8 353.3 L228.1 353.9 L229.4 354.4 L230.6 354.7 L231.9 354.7 L233.2 354.4 L234.4 353.8 L235.7 353.1 L237.0 352.1 L238.3 351.2 L239.5 350.2 L240.8 349.4 L242.1 348.8 L243.3 348.5 L244.6 348.4 L245.9 348.7 L247.2 349.2 L248.4 349.9 L249.7 350.7 L251.0 351.6 L252.3 352.5 L253.5 353.3 L254.8 354.0 L256.1 354.5 L257.3 354.7 L258.6 354.6 L259.9 354.3 L261.2 353.8 L262.4 353.1 L263.7 352.3 L265.0 351.5 L266.2 350.6 L267.5 349.9 L268.8 349.3 L270.1 348.9 L271.3 348.8 L272.6 349.0 L273.9 349.6 L275.2 350.3 L276.4 350.9 L277.7 351.1 L277.7 351.1 L283.0 351.8 L287.7 352.5 L291.5 354.0 L294.1 356.2 L295.0 361.6 L294.6 368.0 L294.1 374.4 L292.3 380.7 L287.0 383.0 L281.4 384.4 L281.4 384.4 L280.1 384.6 L278.9 385.2 L277.6 385.9 L276.3 386.3 L275.0 386.2 L273.8 385.9 L272.5 385.3 L271.2 384.6 L270.0 383.7 L268.7 382.9 L267.4 382.1 L266.2 381.6 L264.9 381.3 L263.6 381.2 L262.3 381.5 L261.1 382.1 L259.8 382.9 L258.5 383.9 L257.3 384.9 L256.0 385.8 L254.7 386.5 L253.5 387.0 L252.2 387.1 L250.9 387.0 L249.6 386.6 L248.4 386.0 L247.1 385.2 L245.8 384.4 L244.6 383.6 L243.3 382.8 L242.0 382.1 L240.8 381.6 L239.5 381.3 L238.2 381.2 L236.9 381.5 L235.7 382.1 L234.4 382.9 L233.1 383.8 L231.9 384.8 L230.6 385.7 L229.3 386.5 L228.1 386.9 L226.8 387.1 L225.5 387.0 L224.2 386.5 L223.0 385.9 L221.7 385.0 L220.4 384.1 L219.2 383.2 L217.9 382.4 L216.6 381.8 L215.4 381.3 L214.1 381.2 L212.8 381.3 L211.5 381.8 L210.3 382.4 L209.0 383.2 Z"/></clipPath><clipPath id="c26"><path d="M209.0 383.2 L210.3 382.4 L211.5 381.8 L212.8 381.3 L214.1 381.2 L215.4 381.3 L216.6 381.8 L217.9 382.4 L219.2 383.2 L220.4 384.1 L221.7 385.0 L223.0 385.9 L224.2 386.5 L225.5 387.0 L226.8 387.1 L228.1 386.9 L229.3 386.5 L230.6 385.7 L231.9 384.8 L233.1 383.8 L234.4 382.9 L235.7 382.1 L236.9 381.5 L238.2 381.2 L239.5 381.3 L240.8 381.6 L242.0 382.1 L243.3 382.8 L244.6 383.6 L245.8 384.4 L247.1 385.2 L248.4 386.0 L249.6 386.6 L250.9 387.0 L252.2 387.1 L253.5 387.0 L254.7 386.5 L256.0 385.8 L257.3 384.9 L258.5 383.9 L259.8 382.9 L261.1 382.1 L262.3 381.5 L263.6 381.2 L264.9 381.3 L266.2 381.6 L267.4 382.1 L268.7 382.9 L270.0 383.7 L271.2 384.6 L272.5 385.3 L273.8 385.9 L275.0 386.2 L276.3 386.3 L277.6 385.9 L278.9 385.2 L280.1 384.6 L281.4 384.4 L281.4 384.4 L276.0 386.3 L266.0 390.0 L259.5 394.0 L263.5 397.5 L267.7 400.5 L271.4 403.2 L271.4 403.2 L209.0 403.2 Z"/></clipPath><clipPath id="c27"><path d="M209.0 403.2 L271.4 403.2 L271.4 403.2 L283.2 404.5 L285.9 408.6 L285.0 416.8 L283.2 420.5 L255.9 421.4 L255.9 421.4 L209.0 421.4 Z"/></clipPath><clipPath id="c28"><path d="M209.0 421.4 L255.9 421.4 L255.9 421.4 L259.5 428.6 L259.5 428.6 L209.0 428.6 Z"/></clipPath><clipPath id="c29"><path d="M209.0 428.6 L259.5 428.6 L259.5 428.6 L262.0 432.5 L264.1 436.8 L264.8 442.0 L265.0 446.4 L265.0 446.4 L263.7 446.5 L262.5 446.9 L261.2 447.3 L259.9 447.6 L258.6 447.7 L257.4 447.3 L256.1 446.4 L254.8 445.3 L253.5 444.1 L252.3 443.1 L251.0 442.5 L249.7 442.3 L248.5 442.6 L247.2 443.3 L245.9 444.2 L244.6 445.3 L243.4 446.4 L242.1 447.4 L240.8 448.1 L239.5 448.5 L238.3 448.4 L237.0 448.1 L235.7 447.5 L234.5 446.6 L233.2 445.6 L231.9 444.5 L230.6 443.5 L229.4 442.7 L228.1 442.1 L226.8 441.8 L225.5 441.9 L224.3 442.2 L223.0 442.9 L221.7 443.7 L220.5 444.7 L219.2 445.8 L217.9 446.7 L216.6 447.5 L215.4 447.9 L214.1 448.1 L212.8 447.8 L211.5 447.1 L210.3 445.9 L209.0 444.6 Z"/></clipPath><clipPath id="c30"><path d="M218.6 431.9 L253.7 431.9 L253.7 437.2 L218.6 437.2 Z"/></clipPath><clipPath id="c31"><path d="M209.0 444.6 L210.3 445.9 L211.5 447.1 L212.8 447.8 L214.1 448.1 L215.4 447.9 L216.6 447.5 L217.9 446.7 L219.2 445.8 L220.5 444.7 L221.7 443.7 L223.0 442.9 L224.3 442.2 L225.5 441.9 L226.8 441.8 L228.1 442.1 L229.4 442.7 L230.6 443.5 L231.9 444.5 L233.2 445.6 L234.5 446.6 L235.7 447.5 L237.0 448.1 L238.3 448.4 L239.5 448.5 L240.8 448.1 L242.1 447.4 L243.4 446.4 L244.6 445.3 L245.9 444.2 L247.2 443.3 L248.5 442.6 L249.7 442.3 L251.0 442.5 L252.3 443.1 L253.5 444.1 L254.8 445.3 L256.1 446.4 L257.4 447.3 L258.6 447.7 L259.9 447.6 L261.2 447.3 L262.5 446.9 L263.7 446.5 L265.0 446.4 L265.0 446.4 L251.0 447.0 L254.0 449.0 L257.7 452.7 L260.3 456.0 L261.4 460.0 L259.5 464.5 L254.1 467.3 L259.5 472.7 L267.7 475.5 L273.2 480.9 L277.7 487.3 L280.5 494.5 L279.5 499.1 L285.0 507.3 L289.5 514.5 L294.1 520.0 L295.0 522.4 L295.0 522.4 L293.7 522.8 L292.5 523.2 L291.2 523.1 L289.9 522.9 L288.7 522.5 L287.4 522.0 L286.1 521.5 L284.9 520.8 L283.6 520.2 L282.4 519.7 L281.1 519.2 L279.8 518.8 L278.6 518.6 L277.3 518.6 L276.0 518.8 L274.8 519.3 L273.5 520.0 L272.2 520.8 L271.0 521.7 L269.7 522.6 L268.4 523.4 L267.2 524.1 L265.9 524.6 L264.6 524.9 L263.4 524.9 L262.1 524.6 L260.9 524.1 L259.6 523.3 L258.3 522.5 L257.1 521.6 L255.8 520.7 L254.5 519.9 L253.3 519.2 L252.0 518.8 L250.7 518.6 L249.5 518.7 L248.2 519.0 L246.9 519.5 L245.7 520.2 L244.4 521.0 L243.1 521.9 L241.9 522.7 L240.6 523.4 L239.4 524.0 L238.1 524.4 L236.8 524.5 L235.6 524.4 L234.3 524.0 L233.0 523.5 L231.8 522.8 L230.5 522.0 L229.2 521.1 L228.0 520.2 L226.7 519.5 L225.4 518.8 L224.2 518.4 L222.9 518.1 L221.6 518.1 L220.4 518.3 L219.1 518.7 L217.9 519.2 L216.6 519.9 L215.3 520.6 L214.1 521.4 L212.8 522.2 L211.5 522.9 L210.3 523.5 L209.0 523.9 Z"/></clipPath><clipPath id="c32"><path d="M209.0 523.9 L210.3 523.5 L211.6 522.9 L212.8 522.1 L214.1 521.4 L215.4 520.6 L216.7 519.8 L218.0 519.2 L219.3 518.6 L220.5 518.3 L221.8 518.1 L223.1 518.1 L224.4 518.4 L225.7 518.9 L227.0 519.6 L228.2 520.4 L229.5 521.3 L230.8 522.2 L232.1 523.0 L233.4 523.7 L234.7 524.2 L235.9 524.4 L237.2 524.5 L238.5 524.3 L238.5 524.4 L239.5 525.5 L240.5 531.8 L245.0 535.5 L250.5 539.1 L246.0 541.2 L242.3 542.7 L244.1 547.5 L245.2 550.2 L245.2 549.7 L243.9 550.3 L242.6 551.0 L241.3 552.0 L240.0 553.0 L238.7 553.9 L237.4 554.8 L236.2 555.4 L234.9 555.7 L233.6 555.8 L232.3 555.6 L231.0 555.3 L229.7 554.7 L228.4 554.1 L227.1 553.4 L225.8 552.6 L224.5 551.8 L223.2 551.1 L221.9 550.5 L220.6 550.0 L219.3 549.7 L218.1 549.5 L216.8 549.6 L215.5 550.0 L214.2 550.6 L212.9 551.4 L211.6 552.4 L210.3 553.3 L209.0 554.1 Z"/></clipPath><clipPath id="c33"><path d="M209.0 554.1 L210.3 553.3 L211.5 552.4 L212.8 551.5 L214.0 550.7 L215.3 550.0 L216.6 549.6 L217.8 549.5 L219.1 549.6 L220.3 549.9 L221.6 550.3 L222.9 550.9 L224.1 551.6 L225.4 552.3 L226.6 553.1 L227.9 553.8 L229.2 554.5 L230.4 555.1 L231.7 555.5 L232.9 555.7 L234.2 555.8 L235.5 555.6 L236.7 555.2 L238.0 554.5 L239.3 553.6 L240.5 552.6 L241.8 551.6 L243.0 550.8 L244.3 550.1 L245.6 549.6 L246.8 549.5 L248.1 549.7 L249.3 550.3 L250.6 551.1 L251.9 552.1 L253.1 553.1 L254.4 553.9 L255.6 554.4 L256.9 554.6 L258.2 554.5 L259.4 554.1 L260.7 553.7 L261.9 553.4 L263.2 553.3 L263.2 553.3 L264.1 560.9 L265.0 569.1 L265.0 569.1 L263.7 569.3 L262.5 569.8 L261.2 570.6 L259.9 571.6 L258.6 572.7 L257.4 573.7 L256.1 574.6 L254.8 575.2 L253.5 575.5 L252.3 575.4 L251.0 575.0 L249.7 574.2 L248.5 573.2 L247.2 572.1 L245.9 571.1 L244.6 570.1 L243.4 569.4 L242.1 569.1 L240.8 569.0 L239.5 569.3 L238.3 569.8 L237.0 570.5 L235.7 571.3 L234.5 572.2 L233.2 573.0 L231.9 573.7 L230.6 574.3 L229.4 574.6 L228.1 574.6 L226.8 574.4 L225.5 573.9 L224.3 573.3 L223.0 572.6 L221.7 571.8 L220.5 570.9 L219.2 570.1 L217.9 569.4 L216.6 568.9 L215.4 568.5 L214.1 568.4 L212.8 568.5 L211.5 568.8 L210.3 569.2 L209.0 569.8 Z"/></clipPath><clipPath id="c34"><path d="M209.0 569.8 L210.3 569.2 L211.5 568.8 L212.8 568.5 L214.1 568.4 L215.3 568.5 L216.6 568.8 L217.8 569.4 L219.1 570.0 L220.4 570.8 L221.6 571.7 L222.9 572.5 L224.2 573.3 L225.4 573.9 L226.7 574.3 L227.9 574.6 L229.2 574.6 L230.5 574.3 L231.7 573.8 L233.0 573.1 L234.3 572.3 L235.5 571.4 L236.8 570.6 L238.0 569.9 L239.3 569.4 L240.6 569.1 L241.8 569.0 L243.1 569.3 L244.4 570.0 L245.6 570.8 L246.9 571.9 L248.1 573.0 L249.4 574.0 L250.7 574.8 L251.9 575.3 L253.2 575.5 L253.2 575.5 L255.5 580.0 L256.8 585.0 L255.0 595.9 L256.8 606.8 L261.4 615.9 L263.2 625.0 L265.9 630.6 L265.9 630.6 L209.0 630.6 Z"/></clipPath><clipPath id="c35"><path d="M209.0 630.6 L250.0 630.6 L250.0 630.6 L243.5 646.5 L259.5 646.5 L259.5 654.3 L240.0 654.3 L230.0 664.0 L222.0 672.0 L225.0 676.0 L225.0 677.5 L223.7 676.8 L222.3 676.1 L221.0 675.3 L219.7 674.5 L218.3 673.9 L217.0 673.3 L215.7 672.9 L214.3 672.6 L213.0 672.6 L211.7 673.0 L210.3 673.8 L209.0 674.9 Z"/></clipPath><clipPath id="c36"><path d="M248.6 630.8 L287.7 632.6 L286.8 646.5 L243.5 646.5 Z"/></clipPath><clipPath id="c37"><path d="M238.6 654.1 L285.0 655.9 L285.9 667.7 L283.2 670.5 L281.4 675.5 L281.4 675.5 L280.1 675.8 L278.9 676.6 L277.6 677.3 L276.3 677.4 L275.1 677.2 L273.8 676.7 L272.5 676.1 L271.2 675.3 L270.0 674.5 L268.7 673.8 L267.4 673.3 L266.2 672.9 L264.9 672.8 L263.6 673.0 L262.4 673.4 L261.1 674.0 L259.8 674.8 L258.5 675.7 L257.3 676.5 L256.0 677.1 L254.7 677.6 L253.5 677.8 L252.2 677.7 L250.9 677.3 L249.7 676.7 L248.4 675.9 L247.1 675.1 L245.9 674.2 L244.6 673.5 L243.3 672.9 L242.0 672.6 L240.8 672.6 L239.5 673.0 L238.2 673.6 L237.0 674.4 L235.7 675.4 L234.4 676.4 L233.2 677.3 L231.9 678.0 L230.6 678.5 L229.3 678.6 L228.1 678.5 L226.8 678.2 L225.5 677.7 L224.3 677.2 L223.0 676.5 L220.5 672.6 L225.0 668.6 L232.3 661.4 Z"/></clipPath><clipPath id="c38"><path d="M209.0 674.9 L210.3 673.8 L211.5 673.1 L212.8 672.7 L214.1 672.6 L215.4 672.8 L216.6 673.1 L217.9 673.6 L219.2 674.3 L220.4 675.0 L221.7 675.7 L223.0 676.5 L224.2 677.1 L225.5 677.7 L226.8 678.2 L228.1 678.5 L229.3 678.6 L230.6 678.5 L231.9 678.0 L233.1 677.3 L234.4 676.4 L235.7 675.4 L236.9 674.4 L238.2 673.6 L239.5 673.0 L240.8 672.6 L242.0 672.6 L243.3 672.9 L244.6 673.5 L245.8 674.2 L247.1 675.1 L248.4 675.9 L249.6 676.7 L250.9 677.3 L252.2 677.7 L253.5 677.8 L254.7 677.6 L256.0 677.1 L257.3 676.5 L258.5 675.7 L259.8 674.8 L261.1 674.0 L262.3 673.4 L263.6 673.0 L264.9 672.8 L266.2 672.9 L267.4 673.3 L268.7 673.8 L270.0 674.5 L271.2 675.3 L272.5 676.1 L273.8 676.7 L275.0 677.2 L276.3 677.4 L277.6 677.3 L278.9 676.6 L280.1 675.8 L281.4 675.5 L281.4 675.5 L262.0 676.3 L266.8 683.2 L271.0 688.0 L275.0 692.3 L278.5 695.0 L280.6 697.0 L281.8 702.0 L281.8 706.5 L265.3 707.7 L265.3 706.8 L209.0 706.8 Z"/></clipPath><clipPath id="c39"><path d="M209.0 706.8 L265.3 706.8 L265.3 707.7 L267.0 713.0 L268.8 718.4 L272.0 723.5 L275.9 727.8 L283.0 731.0 L290.1 733.7 L294.0 736.8 L297.2 739.6 L301.0 742.2 L304.3 743.9 L304.3 743.0 L303.0 743.0 L301.8 743.0 L300.5 743.0 L299.3 743.0 L298.0 743.0 L296.8 743.0 L295.5 743.0 L294.3 743.0 L293.0 743.0 L291.8 743.0 L290.5 743.0 L289.3 743.0 L288.0 743.0 L286.7 743.0 L285.5 743.0 L284.2 743.0 L283.0 743.0 L281.7 743.0 L280.5 743.0 L279.2 743.0 L278.0 743.0 L276.7 743.1 L275.5 743.2 L274.2 743.4 L273.0 743.5 L271.7 743.5 L270.4 743.0 L269.2 742.1 L267.9 741.1 L266.7 740.7 L265.4 740.8 L264.2 741.1 L262.9 741.6 L261.7 742.2 L260.4 742.9 L259.2 743.6 L257.9 744.2 L256.6 744.6 L255.4 744.9 L254.1 744.9 L252.9 744.7 L251.6 744.2 L250.4 743.6 L249.1 742.9 L247.9 742.1 L246.6 741.3 L245.4 740.6 L244.1 740.1 L242.9 739.7 L241.6 739.6 L240.3 739.7 L239.1 740.1 L237.8 740.6 L236.6 741.3 L235.3 742.1 L234.1 742.9 L232.8 743.6 L231.6 744.2 L230.3 744.7 L229.1 744.9 L227.8 744.9 L226.6 744.7 L225.3 744.3 L224.0 743.8 L222.8 743.2 L221.5 742.5 L220.3 741.8 L219.0 741.2 L217.8 740.6 L216.5 740.1 L215.3 739.8 L214.0 739.6 L212.8 739.7 L211.5 740.2 L210.3 741.0 L209.0 742.1 Z"/></clipPath><clipPath id="arb"><rect x="224.4" y="714.3" width="40.9" height="5.3"/><rect x="224.4" y="723.1" width="51" height="4.7"/></clipPath><clipPath id="c40"><path d="M209.0 742.1 L210.3 741.0 L211.5 740.2 L212.8 739.7 L214.0 739.6 L215.3 739.8 L216.5 740.1 L217.8 740.6 L219.0 741.2 L220.3 741.8 L221.5 742.5 L222.8 743.2 L224.1 743.8 L225.3 744.3 L226.6 744.7 L227.8 744.9 L229.1 744.9 L230.3 744.7 L231.6 744.2 L232.8 743.6 L234.1 742.9 L235.3 742.1 L236.6 741.3 L237.9 740.6 L239.1 740.1 L240.4 739.7 L241.6 739.6 L242.9 739.7 L244.1 740.1 L245.4 740.6 L246.6 741.3 L247.9 742.1 L249.1 742.9 L250.4 743.6 L251.7 744.3 L252.9 744.7 L254.2 744.9 L255.4 744.9 L256.7 744.6 L257.9 744.1 L259.2 743.5 L260.4 742.9 L261.7 742.2 L262.9 741.6 L264.2 741.1 L265.5 740.8 L266.7 740.7 L268.0 741.2 L269.2 742.1 L270.5 743.0 L271.7 743.5 L273.0 743.5 L274.2 743.3 L275.5 743.2 L276.7 743.1 L278.0 743.0 L278.0 763.0 L209.0 763.0 Z"/></clipPath><clipPath id="c41"><path d="M260.6 763.0 L261.0 758.0 L262.9 753.8 L266.0 749.5 L270.0 746.7 L275.9 743.9 L280.5 742.0 L285.4 740.8 L290.0 740.0 L294.8 740.1 L300.0 742.0 L304.3 743.9 L309.0 745.6 L313.0 744.8 L316.1 743.2 L319.5 741.6 L323.2 740.8 L326.5 741.6 L330.3 743.6 L330.3 763.0 Z"/></clipPath><clipPath id="lg0"><rect x="439.2" y="454.8" width="23" height="13.2"/></clipPath><clipPath id="lg1"><rect x="439.2" y="477.2" width="23" height="13.2"/></clipPath><clipPath id="lg2"><rect x="439.2" y="501.4" width="23" height="13.2"/></clipPath><clipPath id="lg3"><rect x="439.2" y="526.1" width="23" height="13.2"/></clipPath><clipPath id="lg4"><rect x="439.2" y="550.4" width="23" height="13.2"/></clipPath><clipPath id="lg5"><rect x="439.2" y="574.9" width="23" height="13.2"/></clipPath><clipPath id="lg6"><rect x="439.2" y="599.4" width="23" height="13.2"/></clipPath><clipPath id="lg7"><rect x="439.2" y="623.5" width="23" height="13.2"/></clipPath><clipPath id="lg8"><rect x="439.2" y="648.2" width="23" height="13.2"/></clipPath><clipPath id="lg9"><rect x="439.2" y="673.4" width="23" height="13.2"/></clipPath><clipPath id="lg10"><rect x="439.2" y="698.0" width="23" height="13.2"/></clipPath><clipPath id="lg11"><rect x="439.2" y="722.7" width="23" height="13.2"/></clipPath><clipPath id="lg12"><rect x="439.2" y="747.1" width="23" height="13.2"/></clipPath></defs>
<rect width="550" height="769" fill="#fff"/>
<path d="M209.0 62.6 L251.5 62.6 L251.5 62.6 L251.5 69.8 L251.5 69.8 L209.0 69.8 Z" fill="#1668C4" stroke="#1668C4" stroke-width="0.6"/>
<g clip-path="url(#c0)"><path d="M209 62.6H252M209 66.2H252M209 69.8H252M220.0 62.6L220.0 66.2M233.0 62.6L233.0 66.2M246.0 62.6L246.0 66.2M213.5 66.2L213.5 69.8M226.5 66.2L226.5 69.8M239.5 66.2L239.5 69.8" stroke="#06122a" stroke-width="0.8" fill="none"/></g>
<path d="M251.5 62.6 L287.7 62.6 L290.5 66.5 L292.0 69.8 L251.5 69.8 Z" fill="url(#sand)"/>
<circle cx="257" cy="65.8" r="1.2" fill="#fff"/><circle cx="267.5" cy="66.6" r="1.2" fill="#fff"/><circle cx="284.5" cy="66.3" r="1.2" fill="#fff"/>
<path d="M209.0 69.8 L292.0 69.8 L292.0 69.8 L293.6 77.2 L293.6 77.2 L209.0 77.2 Z" fill="#6FD45E" stroke="#6FD45E" stroke-width="0.6"/>
<g clip-path="url(#c2)"><path d="M199.7 70.5h5.6M210.2 70.5h5.6M220.7 70.5h5.6M231.2 70.5h5.6M241.7 70.5h5.6M252.2 70.5h5.6M262.7 70.5h5.6M273.2 70.5h5.6M283.7 70.5h5.6M294.2 70.5h5.6M204.9 73.5h5.6M215.4 73.5h5.6M225.9 73.5h5.6M236.4 73.5h5.6M246.9 73.5h5.6M257.4 73.5h5.6M267.9 73.5h5.6M278.4 73.5h5.6M288.9 73.5h5.6" stroke="#071a05" stroke-width="1.05"/></g>
<path d="M209.0 77.2 L293.6 77.2 L293.6 77.2 L294.2 85.0 L294.2 85.0 L209.0 85.0 Z" fill="#D650B4" stroke="#D650B4" stroke-width="0.6"/>
<g clip-path="url(#c3)"><path d="M213.8 83.2L217.0 78.2L220.2 83.2M227.0 83.2L230.2 78.2L233.4 83.2M240.2 83.2L243.4 78.2L246.6 83.2M253.4 83.2L256.6 78.2L259.8 83.2M266.6 83.2L269.8 78.2L273.0 83.2M279.8 83.2L283.0 78.2L286.2 83.2M293.0 83.2L296.2 78.2L299.4 83.2" stroke="#1a0a16" stroke-width="1.05" fill="none"/></g>
<path d="M209.0 85.0 L294.2 85.0 L294.2 85.0 L294.4 93.0 L294.4 94.0 L293.1 94.3 L291.9 95.2 L290.6 96.3 L289.4 97.0 L288.1 97.1 L286.9 96.8 L285.6 96.3 L284.4 95.5 L283.1 94.6 L281.8 93.6 L280.6 92.6 L279.3 91.8 L278.1 91.2 L276.8 90.8 L275.6 90.7 L274.3 90.9 L273.0 91.5 L271.8 92.2 L270.5 93.1 L269.3 94.1 L268.0 95.1 L266.8 95.9 L265.5 96.6 L264.3 97.0 L263.0 97.1 L261.7 96.9 L260.5 96.5 L259.2 95.9 L258.0 95.1 L256.7 94.2 L255.5 93.3 L254.2 92.4 L253.0 91.7 L251.7 91.1 L250.4 90.8 L249.2 90.7 L247.9 90.9 L246.7 91.4 L245.4 92.2 L244.2 93.1 L242.9 94.1 L241.7 95.1 L240.4 95.9 L239.1 96.6 L237.9 97.0 L236.6 97.1 L235.4 96.9 L234.1 96.4 L232.9 95.7 L231.6 94.8 L230.3 93.8 L229.1 92.8 L227.8 92.0 L226.6 91.3 L225.3 90.8 L224.1 90.7 L222.8 90.8 L221.6 91.3 L220.3 91.9 L219.0 92.8 L217.8 93.7 L216.5 94.7 L215.3 95.6 L214.0 96.4 L212.8 97.0 L211.5 97.4 L210.3 97.5 L209.0 97.3 Z" fill="url(#sand)" stroke="url(#sand)" stroke-width="0.6"/>
<circle cx="213.5" cy="90.8" r="1.2" fill="#fff"/><circle cx="230.5" cy="88.5" r="1.2" fill="#fff"/><circle cx="240" cy="91.8" r="1.2" fill="#fff"/><circle cx="258" cy="90.2" r="1.2" fill="#fff"/><circle cx="268" cy="91.2" r="1.2" fill="#fff"/><circle cx="285.5" cy="91" r="1.2" fill="#fff"/>
<path d="M209.0 97.3 L210.3 97.5 L211.5 97.4 L212.8 97.0 L214.0 96.4 L215.3 95.6 L216.5 94.7 L217.8 93.7 L219.0 92.8 L220.3 91.9 L221.6 91.3 L222.8 90.8 L224.1 90.7 L225.3 90.8 L226.6 91.3 L227.8 92.0 L229.1 92.8 L230.3 93.8 L231.6 94.8 L232.9 95.7 L234.1 96.4 L235.4 96.9 L236.6 97.1 L237.9 97.0 L239.1 96.6 L240.4 95.9 L241.7 95.1 L242.9 94.1 L244.2 93.1 L245.4 92.2 L246.7 91.4 L247.9 90.9 L249.2 90.7 L250.4 90.8 L251.7 91.1 L253.0 91.7 L254.2 92.4 L255.5 93.3 L256.7 94.2 L258.0 95.1 L259.2 95.9 L260.5 96.5 L261.7 96.9 L263.0 97.1 L264.3 97.0 L265.5 96.6 L266.8 95.9 L268.0 95.1 L269.3 94.1 L270.5 93.1 L271.8 92.2 L273.0 91.5 L274.3 90.9 L275.6 90.7 L276.8 90.8 L278.1 91.2 L279.3 91.8 L280.6 92.6 L281.8 93.6 L283.1 94.6 L284.4 95.5 L285.6 96.3 L286.9 96.8 L288.1 97.1 L289.4 97.0 L290.6 96.3 L291.9 95.2 L293.1 94.3 L294.4 94.0 L294.4 94.0 L293.0 96.0 L295.0 98.0 L291.5 100.2 L291.5 100.2 L209.0 100.2 Z" fill="#D650B4" stroke="#D650B4" stroke-width="0.6"/>
<g clip-path="url(#c5)"><path d="M217.0 99.8L220.0 95.8L223.0 99.8M230.2 99.8L233.2 95.8L236.2 99.8M243.4 99.8L246.4 95.8L249.4 99.8M256.6 99.8L259.6 95.8L262.6 99.8M269.8 99.8L272.8 95.8L275.8 99.8M283.0 99.8L286.0 95.8L289.0 99.8M296.2 99.8L299.2 95.8L302.2 99.8" stroke="#1a0a16" stroke-width="1.05" fill="none"/></g>
<path d="M209.0 100.2 L291.5 100.2 L291.5 100.2 L290.0 103.6 L290.0 103.6 L209.0 103.6 Z" fill="#6FD45E" stroke="#6FD45E" stroke-width="0.6"/>
<g clip-path="url(#c6)"><path d="M199.7 101.5h5.6M210.2 101.5h5.6M220.7 101.5h5.6M231.2 101.5h5.6M241.7 101.5h5.6M252.2 101.5h5.6M262.7 101.5h5.6M273.2 101.5h5.6M283.7 101.5h5.6M294.2 101.5h5.6" stroke="#071a05" stroke-width="1.05"/></g>
<path d="M209.0 103.6 L290.0 103.6 L290.0 103.6 L293.5 105.5 L291.0 108.0 L293.5 110.8 L293.5 110.8 L209.0 110.8 Z" fill="#D650B4" stroke="#D650B4" stroke-width="0.6"/>
<g clip-path="url(#c7)"><path d="M210.8 109.6L214.0 104.6L217.2 109.6M224.0 109.6L227.2 104.6L230.4 109.6M237.2 109.6L240.4 104.6L243.6 109.6M250.4 109.6L253.6 104.6L256.8 109.6M263.6 109.6L266.8 104.6L270.0 109.6M276.8 109.6L280.0 104.6L283.2 109.6M290.0 109.6L293.2 104.6L296.4 109.6" stroke="#1a0a16" stroke-width="1.05" fill="none"/></g>
<path d="M209.0 110.8 L293.5 110.8 L293.5 110.8 L292.0 114.5 L292.0 114.5 L209.0 114.5 Z" fill="#6FD45E" stroke="#6FD45E" stroke-width="0.6"/>
<g clip-path="url(#c8)"><path d="M199.7 112.5h5.6M210.2 112.5h5.6M220.7 112.5h5.6M231.2 112.5h5.6M241.7 112.5h5.6M252.2 112.5h5.6M262.7 112.5h5.6M273.2 112.5h5.6M283.7 112.5h5.6M294.2 112.5h5.6" stroke="#071a05" stroke-width="1.05"/></g>
<path d="M209.0 114.5 L292.0 114.5 L292.0 114.5 L296.5 116.5 L297.7 124.0 L297.7 131.4 L297.7 131.4 L209.0 131.4 Z" fill="url(#hal)" stroke="url(#hal)" stroke-width="0.6"/>
<path d="M209.0 131.4 L285.0 131.4 L285.0 131.4 L290.5 136.3 L290.5 136.3 L209.0 136.3 Z" fill="#6FD45E" stroke="#6FD45E" stroke-width="0.6"/>
<g clip-path="url(#c10)"><path d="M199.7 133.5h5.6M210.2 133.5h5.6M220.7 133.5h5.6M231.2 133.5h5.6M241.7 133.5h5.6M252.2 133.5h5.6M262.7 133.5h5.6M273.2 133.5h5.6M283.7 133.5h5.6M294.2 133.5h5.6" stroke="#071a05" stroke-width="1.05"/></g>
<path d="M209.0 136.3 L290.5 136.3 L290.5 136.3 L294.0 137.5 L295.2 139.5 L292.3 144.2 L287.0 145.3 L264.0 145.9 L264.0 145.9 L209.0 145.9 Z" fill="#D650B4" stroke="#D650B4" stroke-width="0.6"/>
<g clip-path="url(#c11)"><path d="M208.3 144.6L211.5 139.6L214.7 144.6M221.5 144.6L224.7 139.6L227.9 144.6M234.7 144.6L237.9 139.6L241.1 144.6M247.9 144.6L251.1 139.6L254.3 144.6M261.1 144.6L264.3 139.6L267.5 144.6M274.3 144.6L277.5 139.6L280.7 144.6M287.5 144.6L290.7 139.6L293.9 144.6" stroke="#1a0a16" stroke-width="1.05" fill="none"/></g>
<path d="M209.0 145.9 L264.0 145.9 L264.0 145.9 L264.0 148.8 L264.0 148.8 L209.0 148.8 Z" fill="#6FD45E" stroke="#6FD45E" stroke-width="0.6"/>
<g clip-path="url(#c12)"><path d="M199.7 147.5h5.6M210.2 147.5h5.6M220.7 147.5h5.6M231.2 147.5h5.6M241.7 147.5h5.6M252.2 147.5h5.6M262.7 147.5h5.6" stroke="#071a05" stroke-width="1.05"/></g>
<path d="M209.0 148.8 L264.0 148.8 L264.0 148.8 L265.9 157.7 L265.9 157.7 L209.0 157.7 Z" fill="url(#sand)" stroke="url(#sand)" stroke-width="0.6"/>
<path d="M209.0 157.7 L265.9 157.7 L265.9 157.7 L279.5 158.6 L278.5 162.0 L277.7 165.9 L268.6 167.6 L268.6 167.6 L209.0 167.6 Z" fill="#D650B4" stroke="#D650B4" stroke-width="0.6"/>
<g clip-path="url(#c14)"><path d="M215.6 162.4L219.0 157.2L222.4 162.4M228.8 162.4L232.2 157.2L235.6 162.4M242.0 162.4L245.4 157.2L248.8 162.4M255.2 162.4L258.6 157.2L262.0 162.4M268.4 162.4L271.8 157.2L275.2 162.4" stroke="#1a0a16" stroke-width="1.05" fill="none"/><path d="M209.1 168.2L212.5 163.0L215.9 168.2M222.3 168.2L225.7 163.0L229.1 168.2M235.5 168.2L238.9 163.0L242.3 168.2M248.7 168.2L252.1 163.0L255.5 168.2M261.9 168.2L265.3 163.0L268.7 168.2M275.1 168.2L278.5 163.0L281.9 168.2" stroke="#1a0a16" stroke-width="1.05" fill="none"/></g>
<path d="M209.0 167.6 L265.6 167.6 L265.6 167.6 L266.4 176.4 L270.5 184.5 L269.6 191.1 L267.2 200.9 L261.5 202.3 L261.5 202.3 L209.0 202.3 Z" fill="url(#sand)" stroke="url(#sand)" stroke-width="0.6"/>
<path d="M229.5 167.6 L265.6 167.6 L266.4 176.4 L270.5 184.5 L269.6 191.1 L267.2 200.9 L236.1 200.9 L228.7 195.2 L248.4 192.7 L226.3 183.4 L240.2 180.5 L225.5 171.8 Z" fill="#6FD45E"/>
<g clip-path="url(#c16)"><path d="M212.7 169.5h5.6M223.2 169.5h5.6M233.7 169.5h5.6M244.2 169.5h5.6M254.7 169.5h5.6M265.2 169.5h5.6M217.9 173.5h5.6M228.4 173.5h5.6M238.9 173.5h5.6M249.4 173.5h5.6M259.9 173.5h5.6M270.4 173.5h5.6M212.7 176.5h5.6M223.2 176.5h5.6M233.7 176.5h5.6M244.2 176.5h5.6M254.7 176.5h5.6M265.2 176.5h5.6M217.9 180.5h5.6M228.4 180.5h5.6M238.9 180.5h5.6M249.4 180.5h5.6M259.9 180.5h5.6M270.4 180.5h5.6M212.7 184.5h5.6M223.2 184.5h5.6M233.7 184.5h5.6M244.2 184.5h5.6M254.7 184.5h5.6M265.2 184.5h5.6M217.9 187.5h5.6M228.4 187.5h5.6M238.9 187.5h5.6M249.4 187.5h5.6M259.9 187.5h5.6M270.4 187.5h5.6M212.7 191.5h5.6M223.2 191.5h5.6M233.7 191.5h5.6M244.2 191.5h5.6M254.7 191.5h5.6M265.2 191.5h5.6M217.9 195.5h5.6M228.4 195.5h5.6M238.9 195.5h5.6M249.4 195.5h5.6M259.9 195.5h5.6M270.4 195.5h5.6M212.7 198.5h5.6M223.2 198.5h5.6M233.7 198.5h5.6M244.2 198.5h5.6M254.7 198.5h5.6M265.2 198.5h5.6" stroke="#071a05" stroke-width="1.05"/></g>
<path d="M209.0 201.5 L261.5 201.5 L261.5 201.5 L261.5 206.6 L281.4 206.6 L284.0 208.0 L286.0 210.5 L288.0 214.0 L289.2 218.0 L289.2 218.6 L287.9 219.4 L286.7 220.4 L285.4 220.6 L284.2 220.3 L282.9 219.8 L281.7 219.0 L280.4 218.1 L279.2 217.0 L277.9 216.1 L276.7 215.2 L275.4 214.6 L274.2 214.2 L272.9 214.1 L271.7 214.4 L270.4 214.9 L269.1 215.8 L267.9 216.8 L266.6 217.9 L265.4 219.0 L264.1 219.9 L262.9 220.7 L261.6 221.2 L260.4 221.3 L259.1 221.1 L257.9 220.6 L256.6 219.8 L255.4 218.8 L254.1 217.7 L252.9 216.6 L251.6 215.6 L250.4 214.8 L249.1 214.3 L247.8 214.1 L246.6 214.2 L245.3 214.7 L244.1 215.4 L242.8 216.3 L241.6 217.4 L240.3 218.4 L239.1 219.4 L237.8 220.2 L236.6 220.7 L235.3 221.0 L234.1 220.9 L232.8 220.6 L231.6 220.0 L230.3 219.2 L229.1 218.2 L227.8 217.2 L226.5 216.3 L225.3 215.4 L224.0 214.7 L222.8 214.3 L221.5 214.1 L220.3 214.2 L219.0 214.4 L217.8 214.7 L216.5 215.1 L215.3 215.7 L214.0 216.3 L212.8 217.0 L211.5 217.7 L210.3 218.4 L209.0 219.1 Z" fill="url(#sand)" stroke="url(#sand)" stroke-width="0.6"/>
<path d="M209.0 202.2 L233.6 202.2 L233.6 206.6 L209.0 206.6 Z" fill="#1668C4"/>
<g clip-path="url(#c18)"><path d="M209 202.2H234M209 204.4H234M209 206.6H234M218.0 202.2L218.0 204.4M230.0 202.2L230.0 204.4M212.0 204.4L212.0 206.6M224.0 204.4L224.0 206.6" stroke="#06122a" stroke-width="0.6" fill="none"/></g>
<path d="M261.5 206.6 L263.1 202.2 L277.0 202.9 L281.9 206.6 Z" fill="#D650B4"/>
<g clip-path="url(#c19)"><path d="M263.0 207.1L266.0 202.6L269.0 207.1M272.5 207.1L275.5 202.6L278.5 207.1" stroke="#1a0a16" stroke-width="1.05" fill="none"/></g>
<circle cx="211.4" cy="218.1" r="1.1" fill="#fff"/><circle cx="233.5" cy="217.4" r="1.1" fill="#fff"/><circle cx="260" cy="219.2" r="1.1" fill="#fff"/><circle cx="284" cy="217.4" r="1.1" fill="#fff"/>
<path d="M209.0 219.1 L210.3 218.4 L211.5 217.7 L212.8 217.0 L214.0 216.3 L215.3 215.7 L216.5 215.1 L217.8 214.7 L219.0 214.4 L220.3 214.2 L221.5 214.1 L222.8 214.3 L224.0 214.7 L225.3 215.4 L226.5 216.3 L227.8 217.2 L229.1 218.2 L230.3 219.2 L231.6 220.0 L232.8 220.6 L234.1 220.9 L235.3 221.0 L236.6 220.7 L237.8 220.2 L239.1 219.4 L240.3 218.4 L241.6 217.4 L242.8 216.3 L244.1 215.4 L245.3 214.7 L246.6 214.2 L247.8 214.1 L249.1 214.3 L250.4 214.8 L251.6 215.6 L252.9 216.6 L254.1 217.7 L255.4 218.8 L256.6 219.8 L257.9 220.6 L259.1 221.1 L260.4 221.3 L261.6 221.2 L262.9 220.7 L264.1 219.9 L265.4 219.0 L266.6 217.9 L267.9 216.8 L269.1 215.8 L270.4 214.9 L271.7 214.4 L272.9 214.1 L274.2 214.2 L275.4 214.6 L276.7 215.2 L277.9 216.1 L279.2 217.0 L280.4 218.1 L281.7 219.0 L282.9 219.8 L284.2 220.3 L285.4 220.6 L286.7 220.4 L287.9 219.4 L289.2 218.6 L289.2 218.8 L280.0 220.2 L270.0 221.0 L265.0 222.5 L267.7 228.6 L268.6 235.9 L269.5 241.4 L271.4 248.6 L275.0 252.6 L275.0 252.6 L273.7 252.6 L272.5 252.7 L271.2 252.8 L269.9 252.9 L268.7 253.0 L267.4 253.1 L266.1 253.2 L264.8 253.3 L263.6 253.3 L262.3 252.8 L261.0 252.0 L259.8 250.9 L258.5 249.7 L257.2 248.8 L256.0 248.3 L254.7 248.2 L253.4 248.6 L252.2 249.3 L250.9 250.2 L249.6 251.2 L248.3 252.2 L247.1 253.0 L245.8 253.6 L244.5 253.8 L243.3 253.6 L242.0 252.9 L240.7 251.9 L239.5 250.8 L238.2 249.6 L236.9 248.6 L235.7 247.9 L234.4 247.6 L233.1 247.8 L231.8 248.4 L230.6 249.3 L229.3 250.4 L228.0 251.5 L226.8 252.6 L225.5 253.3 L224.2 253.7 L223.0 253.7 L221.7 253.3 L220.4 252.4 L219.2 251.3 L217.9 250.1 L216.6 248.9 L215.3 248.1 L214.1 247.6 L212.8 247.7 L211.5 248.1 L210.3 248.8 L209.0 249.9 Z" fill="url(#sand)" stroke="url(#sand)" stroke-width="0.6"/>
<circle cx="220.5" cy="249" r="1.1" fill="#fff"/><circle cx="245" cy="249.5" r="1.1" fill="#fff"/><circle cx="267.7" cy="250.5" r="1.1" fill="#fff"/>
<path d="M209.0 249.9 L210.3 248.8 L211.5 248.1 L212.8 247.7 L214.1 247.6 L215.3 248.1 L216.6 248.9 L217.9 250.1 L219.2 251.3 L220.4 252.4 L221.7 253.3 L223.0 253.7 L224.2 253.7 L225.5 253.3 L226.8 252.6 L228.0 251.5 L229.3 250.4 L230.6 249.3 L231.8 248.4 L233.1 247.8 L234.4 247.6 L235.7 247.9 L236.9 248.6 L238.2 249.6 L239.5 250.8 L240.7 251.9 L242.0 252.9 L243.3 253.6 L244.5 253.8 L245.8 253.6 L247.1 253.0 L248.3 252.2 L249.6 251.2 L250.9 250.2 L252.2 249.3 L253.4 248.6 L254.7 248.2 L256.0 248.3 L257.2 248.8 L258.5 249.7 L259.8 250.9 L261.0 252.0 L262.3 252.8 L263.6 253.3 L264.8 253.3 L266.1 253.2 L267.4 253.1 L268.7 253.0 L269.9 252.9 L271.2 252.8 L272.5 252.7 L273.7 252.6 L275.0 252.6 L275.0 252.6 L277.0 256.0 L279.4 261.8 L255.5 262.6 L257.5 266.0 L262.0 269.2 L275.0 275.0 L284.0 281.5 L287.8 285.2 L291.0 290.0 L291.6 294.0 L291.2 305.0 L290.3 322.0 L287.8 332.3 L287.8 332.3 L209.0 332.3 Z" fill="#1668C4" stroke="#1668C4" stroke-width="0.6"/>
<g clip-path="url(#c21)"><path d="M209 261.8H295M209 273.8H295M209 284.0H295M209 293.6H295M209 303.0H295M209 312.5H295M209 321.6H295M209 332.3H295M234.4 261.8L234.4 273.8M259.9 261.8L259.9 273.8M285.4 261.8L285.4 273.8M221.6 273.8L221.6 284.0M247.1 273.8L247.1 284.0M272.6 273.8L272.6 284.0M234.4 284.0L234.4 293.6M259.9 284.0L259.9 293.6M285.4 284.0L285.4 293.6M221.6 293.6L221.6 303.0M247.1 293.6L247.1 303.0M272.6 293.6L272.6 303.0M234.4 303.0L234.4 312.5M259.9 303.0L259.9 312.5M285.4 303.0L285.4 312.5M221.6 312.5L221.6 321.6M247.1 312.5L247.1 321.6M272.6 312.5L272.6 321.6M234.4 321.6L234.4 332.3M259.9 321.6L259.9 332.3M285.4 321.6L285.4 332.3" stroke="#06122a" stroke-width="1.15" fill="none"/><path d="M221.6 246V261.8M247.1 246V261.8M272.5 246V261.8" stroke="#06122a" stroke-width="1.15"/><rect x="209" y="262.8" width="48.3" height="6.4" fill="#6FD45E"/><path d="M199.7 266.5h5.6M210.2 266.5h5.6M220.7 266.5h5.6M231.2 266.5h5.6M241.7 266.5h5.6M252.2 266.5h5.6" stroke="#071a05" stroke-width="1.05"/><path d="M230.0 259.5h6M240.8 259.5h6" stroke="#0b1a08" stroke-width="1"/><path d="M247.5 271.5h5" stroke="#0b1a08" stroke-width="1"/><path d="M213.0 278.5h6M224.0 278.5h6M239.0 278.5h6M250.5 278.5h6M265.0 278.5h6M276.0 278.5h6" stroke="#0b1a08" stroke-width="1"/><path d="M251.6 273.7L253.5 269.6L255.4 273.7Z" fill="#000"/><path d="M220.5 290.9L222.4 286.8L224.3 290.9Z" fill="#000"/><path d="M259.1 299.9L261 295.8L262.9 299.9Z" fill="#000"/><path d="M217.1 310.2L219 306.1L220.9 310.2Z" fill="#000"/><path d="M233.6 319.4L235.5 315.3L237.4 319.4Z" fill="#000"/><path d="M258.6 319.4L260.5 315.3L262.4 319.4Z" fill="#000"/><path d="M219.7 328.5L221.6 324.40000000000003L223.5 328.5Z" fill="#000"/><path d="M245.1 328.5L247 324.40000000000003L248.9 328.5Z" fill="#000"/><path d="M273.1 328.5L275 324.40000000000003L276.9 328.5Z" fill="#000"/></g>
<path d="M209.0 332.3 L275.6 332.3 L275.6 332.3 L275.0 340.2 L275.0 340.2 L209.0 340.2 Z" fill="#6FD45E" stroke="#6FD45E" stroke-width="0.6"/>
<g clip-path="url(#c22)"><path d="M199.7 336.5h5.6M210.2 336.5h5.6M220.7 336.5h5.6M231.2 336.5h5.6M241.7 336.5h5.6M252.2 336.5h5.6M262.7 336.5h5.6M273.2 336.5h5.6" stroke="#071a05" stroke-width="1.05"/></g>
<path d="M209.0 340.2 L285.0 340.2 L285.0 340.2 L285.0 343.8 L285.0 343.8 L209.0 343.8 Z" fill="#1668C4" stroke="#1668C4" stroke-width="0.6"/>
<g clip-path="url(#c23)"><path d="M260.5 340.2V343.8" stroke="#06122a" stroke-width="0.9"/></g>
<path d="M209.0 343.8 L275.0 343.8 L275.0 343.8 L275.5 350.0 L275.5 350.5 L274.2 349.8 L273.0 349.1 L271.7 348.8 L270.5 348.9 L269.2 349.2 L268.0 349.7 L266.7 350.3 L265.5 351.1 L264.2 352.0 L263.0 352.8 L261.7 353.5 L260.4 354.1 L259.2 354.5 L257.9 354.7 L256.7 354.6 L255.4 354.3 L254.2 353.7 L252.9 353.0 L251.7 352.1 L250.4 351.2 L249.2 350.3 L247.9 349.5 L246.6 348.9 L245.4 348.5 L244.1 348.4 L242.9 348.5 L241.6 349.0 L240.4 349.6 L239.1 350.5 L237.9 351.5 L236.6 352.4 L235.3 353.3 L234.1 354.0 L232.8 354.5 L231.6 354.7 L230.3 354.6 L229.1 354.3 L227.8 353.8 L226.6 353.1 L225.3 352.4 L224.1 351.5 L222.8 350.7 L221.5 349.9 L220.3 349.2 L219.0 348.8 L217.8 348.5 L216.5 348.4 L215.3 348.6 L214.0 349.0 L212.8 349.5 L211.5 350.3 L210.3 351.1 L209.0 351.9 Z" fill="#6FD45E" stroke="#6FD45E" stroke-width="0.6"/>
<g clip-path="url(#c24)"><path d="M199.7 346.5h5.6M210.2 346.5h5.6M220.7 346.5h5.6M231.2 346.5h5.6M241.7 346.5h5.6M252.2 346.5h5.6M262.7 346.5h5.6M273.2 346.5h5.6M204.9 350.5h5.6M215.4 350.5h5.6M225.9 350.5h5.6M236.4 350.5h5.6M246.9 350.5h5.6M257.4 350.5h5.6M267.9 350.5h5.6M199.7 353.5h5.6M210.2 353.5h5.6M220.7 353.5h5.6M231.2 353.5h5.6M241.7 353.5h5.6M252.2 353.5h5.6M262.7 353.5h5.6M273.2 353.5h5.6" stroke="#071a05" stroke-width="1.05"/></g>
<path d="M209.0 351.9 L210.3 351.1 L211.5 350.2 L212.8 349.5 L214.1 348.9 L215.4 348.6 L216.6 348.4 L217.9 348.5 L219.2 348.8 L220.4 349.3 L221.7 350.0 L223.0 350.8 L224.3 351.7 L225.5 352.5 L226.8 353.3 L228.1 353.9 L229.4 354.4 L230.6 354.7 L231.9 354.7 L233.2 354.4 L234.4 353.8 L235.7 353.1 L237.0 352.1 L238.3 351.2 L239.5 350.2 L240.8 349.4 L242.1 348.8 L243.3 348.5 L244.6 348.4 L245.9 348.7 L247.2 349.2 L248.4 349.9 L249.7 350.7 L251.0 351.6 L252.3 352.5 L253.5 353.3 L254.8 354.0 L256.1 354.5 L257.3 354.7 L258.6 354.6 L259.9 354.3 L261.2 353.8 L262.4 353.1 L263.7 352.3 L265.0 351.5 L266.2 350.6 L267.5 349.9 L268.8 349.3 L270.1 348.9 L271.3 348.8 L272.6 349.0 L273.9 349.6 L275.2 350.3 L276.4 350.9 L277.7 351.1 L277.7 351.1 L283.0 351.8 L287.7 352.5 L291.5 354.0 L294.1 356.2 L295.0 361.6 L294.6 368.0 L294.1 374.4 L292.3 380.7 L287.0 383.0 L281.4 384.4 L281.4 384.4 L280.1 384.6 L278.9 385.2 L277.6 385.9 L276.3 386.3 L275.0 386.2 L273.8 385.9 L272.5 385.3 L271.2 384.6 L270.0 383.7 L268.7 382.9 L267.4 382.1 L266.2 381.6 L264.9 381.3 L263.6 381.2 L262.3 381.5 L261.1 382.1 L259.8 382.9 L258.5 383.9 L257.3 384.9 L256.0 385.8 L254.7 386.5 L253.5 387.0 L252.2 387.1 L250.9 387.0 L249.6 386.6 L248.4 386.0 L247.1 385.2 L245.8 384.4 L244.6 383.6 L243.3 382.8 L242.0 382.1 L240.8 381.6 L239.5 381.3 L238.2 381.2 L236.9 381.5 L235.7 382.1 L234.4 382.9 L233.1 383.8 L231.9 384.8 L230.6 385.7 L229.3 386.5 L228.1 386.9 L226.8 387.1 L225.5 387.0 L224.2 386.5 L223.0 385.9 L221.7 385.0 L220.4 384.1 L219.2 383.2 L217.9 382.4 L216.6 381.8 L215.4 381.3 L214.1 381.2 L212.8 381.3 L211.5 381.8 L210.3 382.4 L209.0 383.2 Z" fill="#1668C4" stroke="#1668C4" stroke-width="0.6"/>
<g clip-path="url(#c25)"><path d="M209 345.0H297M209 362.7H297M216.5 345.0L216.5 362.7M218.9 345.0L218.9 362.7M242.8 345.0L242.8 362.7M245.2 345.0L245.2 362.7M269.1 345.0L269.1 362.7M271.5 345.0L271.5 362.7M295.4 345.0L295.4 362.7M297.8 345.0L297.8 362.7" stroke="#06122a" stroke-width="1.0" fill="none"/><path d="M209 362.7H297M209 372.7H297M228.8 362.7L228.8 372.7M230.8 362.7L230.8 372.7M255.1 362.7L255.1 372.7M257.1 362.7L257.1 372.7M281.4 362.7L281.4 372.7M283.4 362.7L283.4 372.7" stroke="#06122a" stroke-width="1.0" fill="none"/><path d="M209 372.7H297M209 392.0H297M222.5 372.7L222.5 392.0M248.8 372.7L248.8 392.0M275.1 372.7L275.1 392.0" stroke="#06122a" stroke-width="1.0" fill="none"/><path d="M214.5 368.5h6" stroke="#0b1a08" stroke-width="1"/><path d="M211.0 377.5h6M221.5 377.5h6" stroke="#0b1a08" stroke-width="1"/><ellipse cx="237.8" cy="377" rx="4.4" ry="1.7" fill="#000"/></g>
<path d="M209.0 383.2 L210.3 382.4 L211.5 381.8 L212.8 381.3 L214.1 381.2 L215.4 381.3 L216.6 381.8 L217.9 382.4 L219.2 383.2 L220.4 384.1 L221.7 385.0 L223.0 385.9 L224.2 386.5 L225.5 387.0 L226.8 387.1 L228.1 386.9 L229.3 386.5 L230.6 385.7 L231.9 384.8 L233.1 383.8 L234.4 382.9 L235.7 382.1 L236.9 381.5 L238.2 381.2 L239.5 381.3 L240.8 381.6 L242.0 382.1 L243.3 382.8 L244.6 383.6 L245.8 384.4 L247.1 385.2 L248.4 386.0 L249.6 386.6 L250.9 387.0 L252.2 387.1 L253.5 387.0 L254.7 386.5 L256.0 385.8 L257.3 384.9 L258.5 383.9 L259.8 382.9 L261.1 382.1 L262.3 381.5 L263.6 381.2 L264.9 381.3 L266.2 381.6 L267.4 382.1 L268.7 382.9 L270.0 383.7 L271.2 384.6 L272.5 385.3 L273.8 385.9 L275.0 386.2 L276.3 386.3 L277.6 385.9 L278.9 385.2 L280.1 384.6 L281.4 384.4 L281.4 384.4 L276.0 386.3 L266.0 390.0 L259.5 394.0 L263.5 397.5 L267.7 400.5 L271.4 403.2 L271.4 403.2 L209.0 403.2 Z" fill="url(#sand)" stroke="url(#sand)" stroke-width="0.6"/>
<g clip-path="url(#c26)"><path d="M211.0 391.5h5M219.0 391.5h5M227.0 391.5h5M235.0 391.5h5M243.0 391.5h5M251.0 391.5h5" stroke="#7a4a00" stroke-width="0.9"/><path d="M211.0 395.5h5M219.0 395.5h5M227.0 395.5h5M235.0 395.5h5M243.0 395.5h5M251.0 395.5h5" stroke="#7a4a00" stroke-width="0.9"/></g>
<path d="M209.0 403.2 L271.4 403.2 L271.4 403.2 L283.2 404.5 L285.9 408.6 L285.0 416.8 L283.2 420.5 L255.9 421.4 L255.9 421.4 L209.0 421.4 Z" fill="#0a3d80" stroke="#0a3d80" stroke-width="0.6"/>
<g clip-path="url(#c27)"><path d="M205.8 404L212.3 404L209.5 409.2L203.0 409.2ZM214.8 404L221.3 404L218.5 409.2L212.0 409.2ZM223.8 404L230.3 404L227.5 409.2L221.0 409.2ZM232.8 404L239.3 404L236.5 409.2L230.0 409.2ZM241.8 404L248.3 404L245.5 409.2L239.0 409.2ZM250.8 404L257.3 404L254.5 409.2L248.0 409.2ZM259.8 404L266.3 404L263.5 409.2L257.0 409.2ZM268.8 404L275.3 404L272.5 409.2L266.0 409.2ZM277.8 404L284.3 404L281.5 409.2L275.0 409.2ZM286.8 404L293.3 404L290.5 409.2L284.0 409.2Z" fill="#1668C4"/><path d="M197.0 410.4L219.8 410.4L219.8 414.7L197.0 414.7ZM222.0 410.4L244.8 410.4L244.8 414.7L222.0 414.7ZM247.0 410.4L269.8 410.4L269.8 414.7L247.0 414.7ZM272.0 410.4L294.8 410.4L294.8 414.7L272.0 414.7Z" fill="#1668C4"/><path d="M209 412.5H288" stroke="#0a3d80" stroke-width="0.7"/><path d="M202.8 415.9L209.3 415.9L206.5 420.8L200.0 420.8ZM211.8 415.9L218.3 415.9L215.5 420.8L209.0 420.8ZM220.8 415.9L227.3 415.9L224.5 420.8L218.0 420.8ZM229.8 415.9L236.3 415.9L233.5 420.8L227.0 420.8ZM238.8 415.9L245.3 415.9L242.5 420.8L236.0 420.8ZM247.8 415.9L254.3 415.9L251.5 420.8L245.0 420.8ZM256.8 415.9L263.3 415.9L260.5 420.8L254.0 420.8ZM265.8 415.9L272.3 415.9L269.5 420.8L263.0 420.8ZM274.8 415.9L281.3 415.9L278.5 420.8L272.0 420.8ZM283.8 415.9L290.3 415.9L287.5 420.8L281.0 420.8Z" fill="#1668C4"/></g>
<path d="M209.0 421.4 L255.9 421.4 L255.9 421.4 L259.5 428.6 L259.5 428.6 L209.0 428.6 Z" fill="#6FD45E" stroke="#6FD45E" stroke-width="0.6"/>
<g clip-path="url(#c28)"><path d="M199.7 424.5h5.6M210.2 424.5h5.6M220.7 424.5h5.6M231.2 424.5h5.6M241.7 424.5h5.6M252.2 424.5h5.6" stroke="#071a05" stroke-width="1.05"/></g>
<path d="M209.0 428.6 L259.5 428.6 L259.5 428.6 L262.0 432.5 L264.1 436.8 L264.8 442.0 L265.0 446.4 L265.0 446.4 L263.7 446.5 L262.5 446.9 L261.2 447.3 L259.9 447.6 L258.6 447.7 L257.4 447.3 L256.1 446.4 L254.8 445.3 L253.5 444.1 L252.3 443.1 L251.0 442.5 L249.7 442.3 L248.5 442.6 L247.2 443.3 L245.9 444.2 L244.6 445.3 L243.4 446.4 L242.1 447.4 L240.8 448.1 L239.5 448.5 L238.3 448.4 L237.0 448.1 L235.7 447.5 L234.5 446.6 L233.2 445.6 L231.9 444.5 L230.6 443.5 L229.4 442.7 L228.1 442.1 L226.8 441.8 L225.5 441.9 L224.3 442.2 L223.0 442.9 L221.7 443.7 L220.5 444.7 L219.2 445.8 L217.9 446.7 L216.6 447.5 L215.4 447.9 L214.1 448.1 L212.8 447.8 L211.5 447.1 L210.3 445.9 L209.0 444.6 Z" fill="url(#sand)" stroke="url(#sand)" stroke-width="0.6"/>
<path d="M218.6 431.9 L253.7 431.9 L253.7 437.2 L218.6 437.2 Z" fill="#0a3d80"/>
<g clip-path="url(#c30)"><path d="M214.0 432.6L220.3 432.6L217.5 436.5L211.2 436.5ZM222.8 432.6L229.1 432.6L226.3 436.5L220.0 436.5ZM231.6 432.6L237.9 432.6L235.1 436.5L228.8 436.5ZM240.4 432.6L246.7 432.6L243.9 436.5L237.6 436.5ZM249.2 432.6L255.5 432.6L252.7 436.5L246.4 436.5ZM258.0 432.6L264.3 432.6L261.5 436.5L255.2 436.5Z" fill="#1668C4"/></g>
<path d="M209.0 444.6 L210.3 445.9 L211.5 447.1 L212.8 447.8 L214.1 448.1 L215.4 447.9 L216.6 447.5 L217.9 446.7 L219.2 445.8 L220.5 444.7 L221.7 443.7 L223.0 442.9 L224.3 442.2 L225.5 441.9 L226.8 441.8 L228.1 442.1 L229.4 442.7 L230.6 443.5 L231.9 444.5 L233.2 445.6 L234.5 446.6 L235.7 447.5 L237.0 448.1 L238.3 448.4 L239.5 448.5 L240.8 448.1 L242.1 447.4 L243.4 446.4 L244.6 445.3 L245.9 444.2 L247.2 443.3 L248.5 442.6 L249.7 442.3 L251.0 442.5 L252.3 443.1 L253.5 444.1 L254.8 445.3 L256.1 446.4 L257.4 447.3 L258.6 447.7 L259.9 447.6 L261.2 447.3 L262.5 446.9 L263.7 446.5 L265.0 446.4 L265.0 446.4 L251.0 447.0 L254.0 449.0 L257.7 452.7 L260.3 456.0 L261.4 460.0 L259.5 464.5 L254.1 467.3 L259.5 472.7 L267.7 475.5 L273.2 480.9 L277.7 487.3 L280.5 494.5 L279.5 499.1 L285.0 507.3 L289.5 514.5 L294.1 520.0 L295.0 522.4 L295.0 522.4 L293.7 522.8 L292.5 523.2 L291.2 523.1 L289.9 522.9 L288.7 522.5 L287.4 522.0 L286.1 521.5 L284.9 520.8 L283.6 520.2 L282.4 519.7 L281.1 519.2 L279.8 518.8 L278.6 518.6 L277.3 518.6 L276.0 518.8 L274.8 519.3 L273.5 520.0 L272.2 520.8 L271.0 521.7 L269.7 522.6 L268.4 523.4 L267.2 524.1 L265.9 524.6 L264.6 524.9 L263.4 524.9 L262.1 524.6 L260.9 524.1 L259.6 523.3 L258.3 522.5 L257.1 521.6 L255.8 520.7 L254.5 519.9 L253.3 519.2 L252.0 518.8 L250.7 518.6 L249.5 518.7 L248.2 519.0 L246.9 519.5 L245.7 520.2 L244.4 521.0 L243.1 521.9 L241.9 522.7 L240.6 523.4 L239.4 524.0 L238.1 524.4 L236.8 524.5 L235.6 524.4 L234.3 524.0 L233.0 523.5 L231.8 522.8 L230.5 522.0 L229.2 521.1 L228.0 520.2 L226.7 519.5 L225.4 518.8 L224.2 518.4 L222.9 518.1 L221.6 518.1 L220.4 518.3 L219.1 518.7 L217.9 519.2 L216.6 519.9 L215.3 520.6 L214.1 521.4 L212.8 522.2 L211.5 522.9 L210.3 523.5 L209.0 523.9 Z" fill="url(#sand)" stroke="url(#sand)" stroke-width="0.6"/>
<path d="M224.1 467.3Q237.7 465.2 254.1 467.3 M234.1 484.5Q250.5 482.8 265 483.6T275 485.5 M235 500Q252.3 498.3 268.6 500L279.5 499.1 M245.9 510Q259.5 511 274.1 509.6L285.9 510" stroke="#1a1a1a" stroke-width="0.9" fill="none"/>
<circle cx="243.5" cy="481.8" r="1.2" fill="#fff"/><circle cx="255.5" cy="481.8" r="1.2" fill="#fff"/><circle cx="267.7" cy="481.8" r="1.2" fill="#fff"/><circle cx="246.8" cy="496" r="1.2" fill="#fff"/><circle cx="260.5" cy="496" r="1.2" fill="#fff"/><circle cx="272.6" cy="496" r="1.2" fill="#fff"/><circle cx="256.8" cy="507.6" r="1.2" fill="#fff"/><circle cx="268.6" cy="507.6" r="1.2" fill="#fff"/><circle cx="279.2" cy="507.6" r="1.2" fill="#fff"/><circle cx="213.7" cy="519.1" r="1.2" fill="#fff"/><circle cx="237.4" cy="519.1" r="1.2" fill="#fff"/><circle cx="243.5" cy="518.6" r="1.2" fill="#fff"/><circle cx="265.9" cy="518.6" r="1.2" fill="#fff"/><circle cx="287.2" cy="519.1" r="1.2" fill="#fff"/>
<path d="M209.0 523.9 L210.3 523.5 L211.6 522.9 L212.8 522.1 L214.1 521.4 L215.4 520.6 L216.7 519.8 L218.0 519.2 L219.3 518.6 L220.5 518.3 L221.8 518.1 L223.1 518.1 L224.4 518.4 L225.7 518.9 L227.0 519.6 L228.2 520.4 L229.5 521.3 L230.8 522.2 L232.1 523.0 L233.4 523.7 L234.7 524.2 L235.9 524.4 L237.2 524.5 L238.5 524.3 L238.5 524.4 L239.5 525.5 L240.5 531.8 L245.0 535.5 L250.5 539.1 L246.0 541.2 L242.3 542.7 L244.1 547.5 L245.2 550.2 L245.2 549.7 L243.9 550.3 L242.6 551.0 L241.3 552.0 L240.0 553.0 L238.7 553.9 L237.4 554.8 L236.2 555.4 L234.9 555.7 L233.6 555.8 L232.3 555.6 L231.0 555.3 L229.7 554.7 L228.4 554.1 L227.1 553.4 L225.8 552.6 L224.5 551.8 L223.2 551.1 L221.9 550.5 L220.6 550.0 L219.3 549.7 L218.1 549.5 L216.8 549.6 L215.5 550.0 L214.2 550.6 L212.9 551.4 L211.6 552.4 L210.3 553.3 L209.0 554.1 Z" fill="url(#sand)" stroke="url(#sand)" stroke-width="0.6"/>
<path d="M218.6 542.4Q225 544 234.1 542.7L242.3 542.7" stroke="#1a1a1a" stroke-width="0.9" fill="none"/>
<circle cx="214.1" cy="548.7" r="1.2" fill="#fff"/><circle cx="235" cy="550" r="1.2" fill="#fff"/>
<path d="M209.0 554.1 L210.3 553.3 L211.5 552.4 L212.8 551.5 L214.0 550.7 L215.3 550.0 L216.6 549.6 L217.8 549.5 L219.1 549.6 L220.3 549.9 L221.6 550.3 L222.9 550.9 L224.1 551.6 L225.4 552.3 L226.6 553.1 L227.9 553.8 L229.2 554.5 L230.4 555.1 L231.7 555.5 L232.9 555.7 L234.2 555.8 L235.5 555.6 L236.7 555.2 L238.0 554.5 L239.3 553.6 L240.5 552.6 L241.8 551.6 L243.0 550.8 L244.3 550.1 L245.6 549.6 L246.8 549.5 L248.1 549.7 L249.3 550.3 L250.6 551.1 L251.9 552.1 L253.1 553.1 L254.4 553.9 L255.6 554.4 L256.9 554.6 L258.2 554.5 L259.4 554.1 L260.7 553.7 L261.9 553.4 L263.2 553.3 L263.2 553.3 L264.1 560.9 L265.0 569.1 L265.0 569.1 L263.7 569.3 L262.5 569.8 L261.2 570.6 L259.9 571.6 L258.6 572.7 L257.4 573.7 L256.1 574.6 L254.8 575.2 L253.5 575.5 L252.3 575.4 L251.0 575.0 L249.7 574.2 L248.5 573.2 L247.2 572.1 L245.9 571.1 L244.6 570.1 L243.4 569.4 L242.1 569.1 L240.8 569.0 L239.5 569.3 L238.3 569.8 L237.0 570.5 L235.7 571.3 L234.5 572.2 L233.2 573.0 L231.9 573.7 L230.6 574.3 L229.4 574.6 L228.1 574.6 L226.8 574.4 L225.5 573.9 L224.3 573.3 L223.0 572.6 L221.7 571.8 L220.5 570.9 L219.2 570.1 L217.9 569.4 L216.6 568.9 L215.4 568.5 L214.1 568.4 L212.8 568.5 L211.5 568.8 L210.3 569.2 L209.0 569.8 Z" fill="#F91C2B" stroke="#F91C2B" stroke-width="0.6"/>
<path d="M209.0 569.8 L210.3 569.2 L211.5 568.8 L212.8 568.5 L214.1 568.4 L215.3 568.5 L216.6 568.8 L217.8 569.4 L219.1 570.0 L220.4 570.8 L221.6 571.7 L222.9 572.5 L224.2 573.3 L225.4 573.9 L226.7 574.3 L227.9 574.6 L229.2 574.6 L230.5 574.3 L231.7 573.8 L233.0 573.1 L234.3 572.3 L235.5 571.4 L236.8 570.6 L238.0 569.9 L239.3 569.4 L240.6 569.1 L241.8 569.0 L243.1 569.3 L244.4 570.0 L245.6 570.8 L246.9 571.9 L248.1 573.0 L249.4 574.0 L250.7 574.8 L251.9 575.3 L253.2 575.5 L253.2 575.5 L255.5 580.0 L256.8 585.0 L255.0 595.9 L256.8 606.8 L261.4 615.9 L263.2 625.0 L265.9 630.6 L265.9 630.6 L209.0 630.6 Z" fill="url(#sand)" stroke="url(#sand)" stroke-width="0.6"/>
<g clip-path="url(#c34)"><path d="M227.7 621.5h4.7M237.4 621.5h4.7M248.6 621.5h4.7" stroke="#2a1800" stroke-width="0.8"/><path d="M223.2 624.5h4.7M233.2 624.5h4.7M244.6 624.5h4.7" stroke="#2a1800" stroke-width="0.8"/><path d="M218.6 627.5h4.7M228.8 627.5h4.7M239.5 627.5h4.7" stroke="#2a1800" stroke-width="0.8"/></g>
<path d="M209.0 630.6 L250.0 630.6 L250.0 630.6 L243.5 646.5 L259.5 646.5 L259.5 654.3 L240.0 654.3 L230.0 664.0 L222.0 672.0 L225.0 676.0 L225.0 677.5 L223.7 676.8 L222.3 676.1 L221.0 675.3 L219.7 674.5 L218.3 673.9 L217.0 673.3 L215.7 672.9 L214.3 672.6 L213.0 672.6 L211.7 673.0 L210.3 673.8 L209.0 674.9 Z" fill="#6FD45E" stroke="#6FD45E" stroke-width="0.6"/>
<g clip-path="url(#c35)"><path d="M199.7 633.5h5.6M210.2 633.5h5.6M220.7 633.5h5.6M231.2 633.5h5.6M241.7 633.5h5.6M252.2 633.5h5.6M204.9 637.5h5.6M215.4 637.5h5.6M225.9 637.5h5.6M236.4 637.5h5.6M246.9 637.5h5.6M257.4 637.5h5.6M199.7 640.5h5.6M210.2 640.5h5.6M220.7 640.5h5.6M231.2 640.5h5.6M241.7 640.5h5.6M252.2 640.5h5.6M204.9 644.5h5.6M215.4 644.5h5.6M225.9 644.5h5.6M236.4 644.5h5.6M246.9 644.5h5.6M257.4 644.5h5.6M199.7 648.5h5.6M210.2 648.5h5.6M220.7 648.5h5.6M231.2 648.5h5.6M241.7 648.5h5.6M252.2 648.5h5.6M204.9 651.5h5.6M215.4 651.5h5.6M225.9 651.5h5.6M236.4 651.5h5.6M246.9 651.5h5.6M257.4 651.5h5.6M199.7 655.5h5.6M210.2 655.5h5.6M220.7 655.5h5.6M231.2 655.5h5.6M241.7 655.5h5.6M252.2 655.5h5.6M204.9 659.5h5.6M215.4 659.5h5.6M225.9 659.5h5.6M236.4 659.5h5.6M246.9 659.5h5.6M257.4 659.5h5.6M199.7 662.5h5.6M210.2 662.5h5.6M220.7 662.5h5.6M231.2 662.5h5.6M241.7 662.5h5.6M252.2 662.5h5.6M204.9 666.5h5.6M215.4 666.5h5.6M225.9 666.5h5.6M236.4 666.5h5.6M246.9 666.5h5.6M257.4 666.5h5.6M199.7 670.5h5.6M210.2 670.5h5.6M220.7 670.5h5.6M231.2 670.5h5.6M241.7 670.5h5.6M252.2 670.5h5.6M204.9 673.5h5.6M215.4 673.5h5.6M225.9 673.5h5.6M236.4 673.5h5.6M246.9 673.5h5.6M257.4 673.5h5.6M199.7 677.5h5.6M210.2 677.5h5.6M220.7 677.5h5.6M231.2 677.5h5.6M241.7 677.5h5.6M252.2 677.5h5.6" stroke="#071a05" stroke-width="1.05"/></g>
<path d="M248.6 630.8 L287.7 632.6 L286.8 646.5 L243.5 646.5 Z" fill="#1668C4"/>
<g clip-path="url(#c36)"><path d="M233.5 629.0L297.7 629.8M233.5 638.3L297.7 639.1M233.5 648.0L297.7 648.8M236.7 629.0L233.5 638.3M245.9 629.0L242.7 638.3M255.1 629.0L251.9 638.3M264.3 629.0L261.1 638.3M273.5 629.0L270.3 638.3M282.7 629.0L279.5 638.3M291.9 629.0L288.7 638.3M241.3 638.3L238.1 648.0M250.5 638.3L247.3 648.0M259.7 638.3L256.5 648.0M268.9 638.3L265.7 648.0M278.1 638.3L274.9 648.0M287.3 638.3L284.1 648.0M296.5 638.3L293.3 648.0" stroke="#06122a" stroke-width="0.9" fill="none"/></g>
<path d="M238.6 654.1 L285.0 655.9 L285.9 667.7 L283.2 670.5 L281.4 675.5 L281.4 675.5 L280.1 675.8 L278.9 676.6 L277.6 677.3 L276.3 677.4 L275.1 677.2 L273.8 676.7 L272.5 676.1 L271.2 675.3 L270.0 674.5 L268.7 673.8 L267.4 673.3 L266.2 672.9 L264.9 672.8 L263.6 673.0 L262.4 673.4 L261.1 674.0 L259.8 674.8 L258.5 675.7 L257.3 676.5 L256.0 677.1 L254.7 677.6 L253.5 677.8 L252.2 677.7 L250.9 677.3 L249.7 676.7 L248.4 675.9 L247.1 675.1 L245.9 674.2 L244.6 673.5 L243.3 672.9 L242.0 672.6 L240.8 672.6 L239.5 673.0 L238.2 673.6 L237.0 674.4 L235.7 675.4 L234.4 676.4 L233.2 677.3 L231.9 678.0 L230.6 678.5 L229.3 678.6 L228.1 678.5 L226.8 678.2 L225.5 677.7 L224.3 677.2 L223.0 676.5 L220.5 672.6 L225.0 668.6 L232.3 661.4 Z" fill="#1668C4"/>
<g clip-path="url(#c37)"><path d="M210.5 653.0L295.9 653.8M210.5 661.8L295.9 662.6M210.5 669.5L295.9 670.3M210.5 682.0L295.9 682.8M215.5 653.0L210.5 661.8M224.7 653.0L219.7 661.8M233.9 653.0L228.9 661.8M243.1 653.0L238.1 661.8M252.3 653.0L247.3 661.8M261.5 653.0L256.5 661.8M270.7 653.0L265.7 661.8M279.9 653.0L274.9 661.8M289.1 653.0L284.1 661.8M298.3 653.0L293.3 661.8M220.1 661.8L215.1 669.5M229.3 661.8L224.3 669.5M238.5 661.8L233.5 669.5M247.7 661.8L242.7 669.5M256.9 661.8L251.9 669.5M266.1 661.8L261.1 669.5M275.3 661.8L270.3 669.5M284.5 661.8L279.5 669.5M293.7 661.8L288.7 669.5M215.5 669.5L210.5 682.0M224.7 669.5L219.7 682.0M233.9 669.5L228.9 682.0M243.1 669.5L238.1 682.0M252.3 669.5L247.3 682.0M261.5 669.5L256.5 682.0M270.7 669.5L265.7 682.0M279.9 669.5L274.9 682.0M289.1 669.5L284.1 682.0M298.3 669.5L293.3 682.0" stroke="#06122a" stroke-width="0.9" fill="none"/></g>
<path d="M209.0 674.9 L210.3 673.8 L211.5 673.1 L212.8 672.7 L214.1 672.6 L215.4 672.8 L216.6 673.1 L217.9 673.6 L219.2 674.3 L220.4 675.0 L221.7 675.7 L223.0 676.5 L224.2 677.1 L225.5 677.7 L226.8 678.2 L228.1 678.5 L229.3 678.6 L230.6 678.5 L231.9 678.0 L233.1 677.3 L234.4 676.4 L235.7 675.4 L236.9 674.4 L238.2 673.6 L239.5 673.0 L240.8 672.6 L242.0 672.6 L243.3 672.9 L244.6 673.5 L245.8 674.2 L247.1 675.1 L248.4 675.9 L249.6 676.7 L250.9 677.3 L252.2 677.7 L253.5 677.8 L254.7 677.6 L256.0 677.1 L257.3 676.5 L258.5 675.7 L259.8 674.8 L261.1 674.0 L262.3 673.4 L263.6 673.0 L264.9 672.8 L266.2 672.9 L267.4 673.3 L268.7 673.8 L270.0 674.5 L271.2 675.3 L272.5 676.1 L273.8 676.7 L275.0 677.2 L276.3 677.4 L277.6 677.3 L278.9 676.6 L280.1 675.8 L281.4 675.5 L281.4 675.5 L262.0 676.3 L266.8 683.2 L271.0 688.0 L275.0 692.3 L278.5 695.0 L280.6 697.0 L281.8 702.0 L281.8 706.5 L265.3 707.7 L265.3 706.8 L209.0 706.8 Z" fill="url(#sand)" stroke="url(#sand)" stroke-width="0.6"/>
<g clip-path="url(#c38)"><path d="M237.7 685Q250 687 262 685.2T272.3 685.5 M238.6 695.5Q255 697.5 268 695.5T279.5 696.5 M215.6 706Q235 708.5 255 706.8T281.8 706.8" stroke="#1a1a1a" stroke-width="0.9" fill="none"/></g>
<circle cx="235.9" cy="682.8" r="1.2" fill="#fff"/><circle cx="248.6" cy="682.3" r="1.2" fill="#fff"/><circle cx="260.5" cy="682.8" r="1.2" fill="#fff"/><circle cx="247.8" cy="692.7" r="1.2" fill="#fff"/><circle cx="259.4" cy="692.5" r="1.2" fill="#fff"/><circle cx="271.4" cy="692.7" r="1.2" fill="#fff"/><circle cx="215.6" cy="703.7" r="1.2" fill="#fff"/><circle cx="228.6" cy="703.7" r="1.2" fill="#fff"/><circle cx="239.3" cy="703.7" r="1.2" fill="#fff"/><circle cx="251.1" cy="703.7" r="1.2" fill="#fff"/><circle cx="262.9" cy="703.7" r="1.2" fill="#fff"/><circle cx="273.6" cy="703.7" r="1.2" fill="#fff"/>
<path d="M209.0 706.8 L265.3 706.8 L265.3 707.7 L267.0 713.0 L268.8 718.4 L272.0 723.5 L275.9 727.8 L283.0 731.0 L290.1 733.7 L294.0 736.8 L297.2 739.6 L301.0 742.2 L304.3 743.9 L304.3 743.0 L303.0 743.0 L301.8 743.0 L300.5 743.0 L299.3 743.0 L298.0 743.0 L296.8 743.0 L295.5 743.0 L294.3 743.0 L293.0 743.0 L291.8 743.0 L290.5 743.0 L289.3 743.0 L288.0 743.0 L286.7 743.0 L285.5 743.0 L284.2 743.0 L283.0 743.0 L281.7 743.0 L280.5 743.0 L279.2 743.0 L278.0 743.0 L276.7 743.1 L275.5 743.2 L274.2 743.4 L273.0 743.5 L271.7 743.5 L270.4 743.0 L269.2 742.1 L267.9 741.1 L266.7 740.7 L265.4 740.8 L264.2 741.1 L262.9 741.6 L261.7 742.2 L260.4 742.9 L259.2 743.6 L257.9 744.2 L256.6 744.6 L255.4 744.9 L254.1 744.9 L252.9 744.7 L251.6 744.2 L250.4 743.6 L249.1 742.9 L247.9 742.1 L246.6 741.3 L245.4 740.6 L244.1 740.1 L242.9 739.7 L241.6 739.6 L240.3 739.7 L239.1 740.1 L237.8 740.6 L236.6 741.3 L235.3 742.1 L234.1 742.9 L232.8 743.6 L231.6 744.2 L230.3 744.7 L229.1 744.9 L227.8 744.9 L226.6 744.7 L225.3 744.3 L224.0 743.8 L222.8 743.2 L221.5 742.5 L220.3 741.8 L219.0 741.2 L217.8 740.6 L216.5 740.1 L215.3 739.8 L214.0 739.6 L212.8 739.7 L211.5 740.2 L210.3 741.0 L209.0 742.1 Z" fill="url(#sand)" stroke="url(#sand)" stroke-width="0.6"/>
<rect x="224.4" y="714.3" width="40.9" height="5.3" fill="#6FD45E"/><rect x="224.4" y="723.1" width="51" height="4.7" fill="#6FD45E"/>
<g clip-path="url(#arb)"><path d="M216.1 715.5h5.2M226.6 715.5h5.2M237.1 715.5h5.2M247.6 715.5h5.2M258.1 715.5h5.2M221.3 718.5h5.2M231.8 718.5h5.2M242.3 718.5h5.2M252.8 718.5h5.2M263.4 718.5h5.2" stroke="#071a05" stroke-width="1.05"/><path d="M216.1 724.5h5.2M226.6 724.5h5.2M237.1 724.5h5.2M247.6 724.5h5.2M258.1 724.5h5.2M268.6 724.5h5.2M221.3 726.5h5.2M231.8 726.5h5.2M242.3 726.5h5.2M252.8 726.5h5.2M263.4 726.5h5.2M273.9 726.5h5.2" stroke="#071a05" stroke-width="1.05"/></g>
<path d="M209.0 742.1 L210.3 741.0 L211.5 740.2 L212.8 739.7 L214.0 739.6 L215.3 739.8 L216.5 740.1 L217.8 740.6 L219.0 741.2 L220.3 741.8 L221.5 742.5 L222.8 743.2 L224.1 743.8 L225.3 744.3 L226.6 744.7 L227.8 744.9 L229.1 744.9 L230.3 744.7 L231.6 744.2 L232.8 743.6 L234.1 742.9 L235.3 742.1 L236.6 741.3 L237.9 740.6 L239.1 740.1 L240.4 739.7 L241.6 739.6 L242.9 739.7 L244.1 740.1 L245.4 740.6 L246.6 741.3 L247.9 742.1 L249.1 742.9 L250.4 743.6 L251.7 744.3 L252.9 744.7 L254.2 744.9 L255.4 744.9 L256.7 744.6 L257.9 744.1 L259.2 743.5 L260.4 742.9 L261.7 742.2 L262.9 741.6 L264.2 741.1 L265.5 740.8 L266.7 740.7 L268.0 741.2 L269.2 742.1 L270.5 743.0 L271.7 743.5 L273.0 743.5 L274.2 743.3 L275.5 743.2 L276.7 743.1 L278.0 743.0 L278.0 763.0 L209.0 763.0 Z" fill="url(#meta)"/>
<rect x="211.6" y="740.6" width="3.6" height="22" fill="#F91C2B" stroke="#400" stroke-width="0.4"/>
<path d="M260.6 763.0 L261.0 758.0 L262.9 753.8 L266.0 749.5 L270.0 746.7 L275.9 743.9 L280.5 742.0 L285.4 740.8 L290.0 740.0 L294.8 740.1 L300.0 742.0 L304.3 743.9 L309.0 745.6 L313.0 744.8 L316.1 743.2 L319.5 741.6 L323.2 740.8 L326.5 741.6 L330.3 743.6 L330.3 763.0 Z" fill="url(#gran)"/>
<path d="M260.6 763.0 L261.0 758.0 L262.9 753.8 L266.0 749.5 L270.0 746.7 L275.9 743.9 L280.5 742.0 L285.4 740.8 L290.0 740.0 L294.8 740.1 L300.0 742.0 L304.3 743.9 L309.0 745.6 L313.0 744.8 L316.1 743.2 L319.5 741.6 L323.2 740.8 L326.5 741.6 L330.3 743.6" stroke="#1a1a1a" stroke-width="1" fill="none"/>
<path d="M287.7 62.6 L290.5 66.5 L292.0 69.8 M292.0 69.8 L292.0 69.8 L293.6 77.2 L293.6 77.2 M293.6 77.2 L293.6 77.2 L294.2 85.0 L294.2 85.0 M294.2 85.0 L294.2 85.0 L294.4 93.0 L294.4 94.0 M294.4 94.0 L294.4 94.0 L293.0 96.0 L295.0 98.0 L291.5 100.2 L291.5 100.2 M291.5 100.2 L291.5 100.2 L290.0 103.6 L290.0 103.6 M290.0 103.6 L290.0 103.6 L293.5 105.5 L291.0 108.0 L293.5 110.8 L293.5 110.8 M293.5 110.8 L293.5 110.8 L292.0 114.5 L292.0 114.5 M292.0 114.5 L292.0 114.5 L296.5 116.5 L297.7 124.0 L297.7 131.4 L297.7 131.4 M285.0 131.4 L285.0 131.4 L290.5 136.3 L290.5 136.3 M290.5 136.3 L290.5 136.3 L294.0 137.5 L295.2 139.5 L292.3 144.2 L287.0 145.3 L264.0 145.9 L264.0 145.9 M264.0 145.9 L264.0 145.9 L264.0 148.8 L264.0 148.8 M264.0 148.8 L264.0 148.8 L265.9 157.7 L265.9 157.7 M265.9 157.7 L265.9 157.7 L279.5 158.6 L278.5 162.0 L277.7 165.9 L268.6 167.6 L268.6 167.6 M265.6 167.6 L265.6 167.6 L266.4 176.4 L270.5 184.5 L269.6 191.1 L267.2 200.9 L261.5 202.3 L261.5 202.3 M261.5 201.5 L261.5 201.5 L261.5 206.6 L281.4 206.6 L284.0 208.0 L286.0 210.5 L288.0 214.0 L289.2 218.0 L289.2 218.6 M289.2 218.6 L289.2 218.8 L280.0 220.2 L270.0 221.0 L265.0 222.5 L267.7 228.6 L268.6 235.9 L269.5 241.4 L271.4 248.6 L275.0 252.6 L275.0 252.6 M275.0 252.6 L275.0 252.6 L277.0 256.0 L279.4 261.8 L255.5 262.6 L257.5 266.0 L262.0 269.2 L275.0 275.0 L284.0 281.5 L287.8 285.2 L291.0 290.0 L291.6 294.0 L291.2 305.0 L290.3 322.0 L287.8 332.3 L287.8 332.3 M275.6 332.3 L275.6 332.3 L275.0 340.2 L275.0 340.2 M285.0 340.2 L285.0 340.2 L285.0 343.8 L285.0 343.8 M275.0 343.8 L275.0 343.8 L275.5 350.0 L275.5 350.5 M277.7 351.1 L277.7 351.1 L283.0 351.8 L287.7 352.5 L291.5 354.0 L294.1 356.2 L295.0 361.6 L294.6 368.0 L294.1 374.4 L292.3 380.7 L287.0 383.0 L281.4 384.4 L281.4 384.4 M281.4 384.4 L281.4 384.4 L276.0 386.3 L266.0 390.0 L259.5 394.0 L263.5 397.5 L267.7 400.5 L271.4 403.2 L271.4 403.2 M271.4 403.2 L271.4 403.2 L283.2 404.5 L285.9 408.6 L285.0 416.8 L283.2 420.5 L255.9 421.4 L255.9 421.4 M255.9 421.4 L255.9 421.4 L259.5 428.6 L259.5 428.6 M259.5 428.6 L259.5 428.6 L262.0 432.5 L264.1 436.8 L264.8 442.0 L265.0 446.4 L265.0 446.4 M265.0 446.4 L265.0 446.4 L251.0 447.0 L254.0 449.0 L257.7 452.7 L260.3 456.0 L261.4 460.0 L259.5 464.5 L254.1 467.3 L259.5 472.7 L267.7 475.5 L273.2 480.9 L277.7 487.3 L280.5 494.5 L279.5 499.1 L285.0 507.3 L289.5 514.5 L294.1 520.0 L295.0 522.4 L295.0 522.4 M238.5 524.3 L238.5 524.4 L239.5 525.5 L240.5 531.8 L245.0 535.5 L250.5 539.1 L246.0 541.2 L242.3 542.7 L244.1 547.5 L245.2 550.2 L245.2 549.7 M263.2 553.3 L263.2 553.3 L264.1 560.9 L265.0 569.1 L265.0 569.1 M253.2 575.5 L253.2 575.5 L255.5 580.0 L256.8 585.0 L255.0 595.9 L256.8 606.8 L261.4 615.9 L263.2 625.0 L265.9 630.6 L265.9 630.6 M248.6 630.8 L287.7 632.6 L286.8 646.5 L243.5 646.5 Z M238.6 654.1 L285.0 655.9 L285.9 667.7 L283.2 670.5 L281.4 675.5 L281.4 675.5 L280.1 675.8 L278.9 676.6 L277.6 677.3 L276.3 677.4 L275.1 677.2 L273.8 676.7 L272.5 676.1 L271.2 675.3 L270.0 674.5 L268.7 673.8 L267.4 673.3 L266.2 672.9 L264.9 672.8 L263.6 673.0 L262.4 673.4 L261.1 674.0 L259.8 674.8 L258.5 675.7 L257.3 676.5 L256.0 677.1 L254.7 677.6 L253.5 677.8 L252.2 677.7 L250.9 677.3 L249.7 676.7 L248.4 675.9 L247.1 675.1 L245.9 674.2 L244.6 673.5 L243.3 672.9 L242.0 672.6 L240.8 672.6 L239.5 673.0 L238.2 673.6 L237.0 674.4 L235.7 675.4 L234.4 676.4 L233.2 677.3 L231.9 678.0 L230.6 678.5 L229.3 678.6 L228.1 678.5 L226.8 678.2 L225.5 677.7 L224.3 677.2 L223.0 676.5 L220.5 672.6 L225.0 668.6 L232.3 661.4 Z M281.4 675.5 L281.4 675.5 L262.0 676.3 L266.8 683.2 L271.0 688.0 L275.0 692.3 L278.5 695.0 L280.6 697.0 L281.8 702.0 L281.8 706.5 L265.3 707.7 L265.3 706.8 M265.3 706.8 L265.3 707.7 L267.0 713.0 L268.8 718.4 L272.0 723.5 L275.9 727.8 L283.0 731.0 L290.1 733.7 L294.0 736.8 L297.2 739.6 L301.0 742.2 L304.3 743.9 L304.3 743.0" stroke="#1a1a1a" stroke-width="0.8" fill="none" stroke-linejoin="round"/>
<path d="M121.4 90.9 L122.7 91.1 L123.9 91.6 L125.2 92.5 L126.4 93.5 L127.7 94.7 L128.9 95.8 L130.2 96.7 L131.4 97.4 L132.7 97.8 L133.9 97.7 L135.2 97.3 L136.4 96.5 L137.7 95.5 L139.0 94.3 L140.2 93.1 L141.5 92.0 L142.7 91.2 L144.0 90.6 L145.2 90.5 L146.5 90.7 L147.7 91.3 L149.0 92.1 L150.2 93.2 L151.5 94.3 L152.7 95.4 L154.0 96.4 L155.2 97.1 L156.5 97.6 L157.8 97.8 L159.0 97.6 L160.3 97.0 L161.5 96.1 L162.8 95.0 L164.0 93.7 L165.3 92.6 L166.5 91.6 L167.8 90.9 L169.0 90.5 L170.3 90.6 L171.5 90.9 L172.8 91.5 L174.1 92.3 L175.3 93.3 L176.6 94.3 L177.8 95.4 L179.1 96.3 L180.3 97.0 L181.6 97.5 L182.8 97.8 L184.1 97.7 L185.3 97.4 L186.6 96.7 L187.8 95.9 L189.1 94.9 L190.3 93.9 L191.6 92.8 L192.9 91.9 L194.1 91.2 L195.4 90.7 L196.6 90.5 L197.9 90.6 L199.1 91.0 L200.4 91.6 L201.6 92.4 L202.9 93.4 L204.1 94.4 L205.4 95.4 L206.6 96.2 L207.9 96.9 L209.2 97.3 L210.4 97.5 L211.7 97.4 L212.9 97.0 L214.2 96.4 L215.4 95.5 L216.7 94.6 L217.9 93.6 L219.2 92.7 L220.4 91.8 L221.7 91.2 L222.9 90.8 L224.2 90.7 L225.5 90.9 L226.7 91.3 L228.0 92.0 L229.2 92.9 L230.5 93.9 L231.7 94.9 L233.0 95.8 L234.2 96.5 L235.5 96.9 L236.7 97.1 L238.0 97.0 L239.2 96.5 L240.5 95.9 L241.7 95.0 L243.0 94.0 L244.3 93.0 L245.5 92.1 L246.8 91.4 L248.0 90.9 L249.3 90.7 L250.5 90.8 L251.8 91.1 L253.0 91.7 L254.3 92.4 L255.5 93.3 L256.8 94.2 L258.0 95.1 L259.3 95.9 L260.6 96.5 L261.8 96.9 L263.1 97.1 L264.3 97.0 L265.6 96.6 L266.8 95.9 L268.1 95.0 L269.3 94.1 L270.6 93.1 L271.8 92.2 L273.1 91.4 L274.3 90.9 L275.6 90.7 L276.8 90.8 L278.1 91.2 L279.4 91.8 L280.6 92.6 L281.9 93.6 L283.1 94.6 L284.4 95.5 L285.6 96.3 L286.9 96.8 L288.1 97.1 L289.4 97.0 L290.6 96.2 L291.9 95.2 L293.1 94.3 L294.4 94.0" stroke="#0c0c0c" stroke-width="1.7" fill="none" stroke-linejoin="round"/>
<path d="M120.5 214.4 L121.8 214.8 L123.0 215.8 L124.3 217.3 L125.5 218.9 L126.8 220.1 L128.0 220.9 L129.3 220.9 L130.5 220.5 L131.8 219.8 L133.0 218.9 L134.3 217.8 L135.5 216.6 L136.8 215.6 L138.0 214.8 L139.3 214.2 L140.5 214.1 L141.8 214.2 L143.0 214.7 L144.3 215.5 L145.5 216.4 L146.8 217.4 L148.0 218.5 L149.3 219.5 L150.5 220.2 L151.8 220.7 L153.0 220.9 L154.3 220.8 L155.6 220.3 L156.8 219.5 L158.1 218.4 L159.3 217.3 L160.6 216.2 L161.8 215.2 L163.1 214.5 L164.3 214.1 L165.6 214.1 L166.8 214.4 L168.1 215.0 L169.3 215.8 L170.6 216.8 L171.8 217.9 L173.1 218.9 L174.3 219.8 L175.6 220.5 L176.8 220.9 L178.1 220.9 L179.3 220.7 L180.6 220.1 L181.8 219.3 L183.1 218.3 L184.3 217.3 L185.6 216.3 L186.8 215.3 L188.1 214.6 L189.4 214.2 L190.6 214.1 L191.9 214.3 L193.1 214.8 L194.4 215.7 L195.6 216.8 L196.9 217.9 L198.1 219.0 L199.4 220.0 L200.6 220.6 L201.9 220.9 L203.1 220.9 L204.4 220.8 L205.6 220.5 L206.9 220.0 L208.1 219.5 L209.4 218.9 L210.6 218.2 L211.9 217.5 L213.1 216.8 L214.4 216.1 L215.6 215.5 L216.9 215.0 L218.1 214.6 L219.4 214.3 L220.6 214.1 L221.9 214.1 L223.2 214.4 L224.4 214.9 L225.7 215.6 L226.9 216.5 L228.2 217.5 L229.4 218.5 L230.7 219.4 L231.9 220.2 L233.2 220.7 L234.4 221.0 L235.7 221.0 L236.9 220.6 L238.2 220.0 L239.4 219.1 L240.7 218.1 L241.9 217.1 L243.2 216.0 L244.4 215.2 L245.7 214.5 L246.9 214.2 L248.2 214.1 L249.4 214.4 L250.7 215.0 L251.9 215.9 L253.2 216.9 L254.4 218.0 L255.7 219.1 L257.0 220.0 L258.2 220.7 L259.5 221.2 L260.7 221.3 L262.0 221.1 L263.2 220.5 L264.5 219.7 L265.7 218.7 L267.0 217.6 L268.2 216.5 L269.5 215.5 L270.7 214.8 L272.0 214.3 L273.2 214.1 L274.5 214.3 L275.7 214.7 L277.0 215.4 L278.2 216.3 L279.5 217.3 L280.7 218.3 L282.0 219.2 L283.2 219.9 L284.5 220.4 L285.7 220.6 L287.0 220.2 L288.2 219.1 L289.5 218.6" stroke="#0c0c0c" stroke-width="1.7" fill="none" stroke-linejoin="round"/>
<path d="M120.5 247.3 L121.8 247.7 L123.0 248.8 L124.3 250.3 L125.5 251.9 L126.8 253.3 L128.0 254.0 L129.3 254.0 L130.5 253.6 L131.8 252.9 L133.1 251.9 L134.3 250.7 L135.6 249.5 L136.8 248.5 L138.1 247.6 L139.3 247.1 L140.6 246.9 L141.9 247.1 L143.1 247.6 L144.4 248.4 L145.6 249.4 L146.9 250.5 L148.1 251.6 L149.4 252.6 L150.6 253.4 L151.9 253.9 L153.2 254.1 L154.4 253.9 L155.7 253.3 L156.9 252.5 L158.2 251.4 L159.4 250.2 L160.7 249.0 L162.0 248.0 L163.2 247.3 L164.5 246.9 L165.7 247.0 L167.0 247.3 L168.2 248.0 L169.5 248.9 L170.7 250.0 L172.0 251.1 L173.3 252.1 L174.5 253.0 L175.8 253.7 L177.0 254.0 L178.3 254.1 L179.5 253.7 L180.8 253.1 L182.0 252.2 L183.3 251.2 L184.6 250.1 L185.8 249.0 L187.1 248.1 L188.3 247.4 L189.6 247.0 L190.8 246.9 L192.1 247.2 L193.4 247.9 L194.6 248.8 L195.9 250.0 L197.1 251.2 L198.4 252.3 L199.6 253.2 L200.9 253.8 L202.1 254.1 L203.4 253.9 L204.7 253.4 L205.9 252.6 L207.2 251.5 L208.4 250.4 L209.7 249.3 L210.9 248.4 L212.2 247.8 L213.5 247.6 L214.7 247.8 L216.0 248.5 L217.2 249.5 L218.5 250.6 L219.7 251.8 L221.0 252.8 L222.2 253.5 L223.5 253.8 L224.8 253.6 L226.0 253.1 L227.3 252.2 L228.5 251.1 L229.8 250.0 L231.0 248.9 L232.3 248.1 L233.5 247.7 L234.8 247.6 L236.1 248.0 L237.3 248.8 L238.6 249.9 L239.8 251.1 L241.1 252.2 L242.3 253.1 L243.6 253.7 L244.9 253.8 L246.1 253.5 L247.4 252.9 L248.6 252.0 L249.9 251.0 L251.1 250.0 L252.4 249.1 L253.6 248.5 L254.9 248.2 L256.2 248.3 L257.4 248.9 L258.7 249.9 L259.9 251.0 L261.2 252.1 L262.4 252.9 L263.7 253.3 L265.0 253.3 L266.2 253.2 L267.5 253.1 L268.7 253.0 L270.0 252.9 L271.2 252.8 L272.5 252.7 L273.7 252.6 L275.0 252.6" stroke="#0c0c0c" stroke-width="1.7" fill="none" stroke-linejoin="round"/>
<path d="M120.5 348.2 L121.8 348.6 L123.0 349.7 L124.3 351.1 L125.5 352.7 L126.8 353.9 L128.0 354.6 L129.3 354.6 L130.6 354.3 L131.8 353.5 L133.1 352.6 L134.3 351.5 L135.6 350.4 L136.8 349.4 L138.1 348.6 L139.4 348.1 L140.6 347.9 L141.9 348.1 L143.1 348.6 L144.4 349.4 L145.7 350.3 L146.9 351.4 L148.2 352.4 L149.4 353.3 L150.7 354.1 L151.9 354.5 L153.2 354.7 L154.5 354.5 L155.7 354.0 L157.0 353.1 L158.2 352.1 L159.5 351.0 L160.7 349.9 L162.0 348.9 L163.3 348.3 L164.5 347.9 L165.8 348.0 L167.0 348.3 L168.3 349.0 L169.5 349.8 L170.8 350.8 L172.1 351.9 L173.3 352.9 L174.6 353.7 L175.8 354.3 L177.1 354.7 L178.3 354.7 L179.6 354.3 L180.9 353.7 L182.1 352.9 L183.4 351.9 L184.6 350.9 L185.9 349.8 L187.2 349.0 L188.4 348.3 L189.7 348.0 L190.9 347.9 L192.2 348.2 L193.4 348.9 L194.7 349.8 L196.0 350.9 L197.2 352.0 L198.5 353.1 L199.7 353.9 L201.0 354.5 L202.2 354.7 L203.5 354.6 L204.8 354.3 L206.0 353.7 L207.3 353.0 L208.5 352.2 L209.8 351.4 L211.0 350.5 L212.3 349.8 L213.6 349.1 L214.8 348.7 L216.1 348.4 L217.3 348.4 L218.6 348.6 L219.9 349.1 L221.1 349.7 L222.4 350.4 L223.6 351.2 L224.9 352.1 L226.1 352.9 L227.4 353.6 L228.7 354.2 L229.9 354.5 L231.2 354.7 L232.4 354.6 L233.7 354.2 L234.9 353.6 L236.2 352.7 L237.5 351.8 L238.7 350.8 L240.0 349.9 L241.2 349.2 L242.5 348.6 L243.7 348.4 L245.0 348.5 L246.3 348.8 L247.5 349.3 L248.8 350.1 L250.0 350.9 L251.3 351.8 L252.5 352.7 L253.8 353.5 L255.1 354.1 L256.3 354.5 L257.6 354.7 L258.8 354.6 L260.1 354.3 L261.4 353.7 L262.6 353.0 L263.9 352.2 L265.1 351.4 L266.4 350.5 L267.6 349.8 L268.9 349.3 L270.2 348.9 L271.4 348.8 L272.7 349.0 L273.9 349.6 L275.2 350.3 L276.4 350.9 L277.7 351.1" stroke="#0c0c0c" stroke-width="1.7" fill="none" stroke-linejoin="round"/>
<path d="M120.5 379.7 L121.8 380.1 L123.0 381.2 L124.3 382.6 L125.5 384.2 L126.8 385.4 L128.0 386.1 L129.3 386.1 L130.6 385.8 L131.8 385.0 L133.1 384.1 L134.3 383.0 L135.6 381.9 L136.8 380.9 L138.1 380.1 L139.4 379.6 L140.6 379.4 L141.9 379.6 L143.1 380.1 L144.4 380.9 L145.6 381.8 L146.9 382.8 L148.2 383.9 L149.4 384.8 L150.7 385.6 L151.9 386.0 L153.2 386.2 L154.4 386.0 L155.7 385.5 L157.0 384.6 L158.2 383.6 L159.5 382.5 L160.7 381.4 L162.0 380.4 L163.2 379.8 L164.5 379.4 L165.8 379.5 L167.0 379.8 L168.3 380.5 L169.5 381.3 L170.8 382.3 L172.0 383.4 L173.3 384.4 L174.6 385.2 L175.8 385.8 L177.1 386.2 L178.3 386.2 L179.6 385.8 L180.8 385.2 L182.1 384.4 L183.4 383.4 L184.6 382.4 L185.9 381.4 L187.1 380.5 L188.4 379.9 L189.6 379.5 L190.9 379.4 L192.2 379.7 L193.4 380.4 L194.7 381.3 L195.9 382.4 L197.2 383.5 L198.4 384.6 L199.7 385.4 L200.9 386.0 L202.2 386.2 L203.5 386.1 L204.7 385.7 L206.0 385.1 L207.2 384.3 L208.5 383.5 L209.7 382.7 L211.0 382.0 L212.3 381.5 L213.5 381.2 L214.8 381.2 L216.0 381.5 L217.3 382.1 L218.5 382.8 L219.8 383.7 L221.1 384.6 L222.3 385.5 L223.6 386.2 L224.8 386.8 L226.1 387.1 L227.3 387.1 L228.6 386.8 L229.9 386.2 L231.1 385.4 L232.4 384.4 L233.6 383.4 L234.9 382.5 L236.1 381.8 L237.4 381.3 L238.7 381.2 L239.9 381.3 L241.2 381.7 L242.4 382.3 L243.7 383.0 L244.9 383.8 L246.2 384.7 L247.5 385.5 L248.7 386.2 L250.0 386.7 L251.2 387.0 L252.5 387.1 L253.7 386.9 L255.0 386.4 L256.3 385.6 L257.5 384.7 L258.8 383.7 L260.0 382.8 L261.3 382.0 L262.5 381.4 L263.8 381.2 L265.1 381.3 L266.3 381.6 L267.6 382.2 L268.8 383.0 L270.1 383.8 L271.3 384.6 L272.6 385.4 L273.9 385.9 L275.1 386.2 L276.4 386.3 L277.6 385.9 L278.9 385.2 L280.1 384.6 L281.4 384.4" stroke="#0c0c0c" stroke-width="1.7" fill="none" stroke-linejoin="round"/>
<path d="M120.5 447.7 L121.8 447.4 L123.0 446.7 L124.3 445.6 L125.5 444.3 L126.8 443.0 L128.0 442.0 L129.3 441.2 L130.6 441.0 L131.8 441.2 L133.1 441.8 L134.3 442.7 L135.6 443.9 L136.8 445.1 L138.1 446.2 L139.3 447.2 L140.6 447.9 L141.9 448.3 L143.1 448.2 L144.4 447.8 L145.6 447.0 L146.9 445.9 L148.1 444.7 L149.4 443.5 L150.7 442.4 L151.9 441.6 L153.2 441.1 L154.4 441.0 L155.7 441.3 L156.9 441.9 L158.2 442.7 L159.5 443.8 L160.7 444.9 L162.0 446.0 L163.2 447.0 L164.5 447.7 L165.7 448.2 L167.0 448.3 L168.2 448.0 L169.5 447.4 L170.8 446.5 L172.0 445.3 L173.3 444.1 L174.5 442.9 L175.8 442.0 L177.0 441.3 L178.3 441.0 L179.6 441.1 L180.8 441.5 L182.1 442.2 L183.3 443.2 L184.6 444.3 L185.8 445.4 L187.1 446.4 L188.4 447.3 L189.6 448.0 L190.9 448.3 L192.1 448.2 L193.4 447.9 L194.6 447.2 L195.9 446.4 L197.1 445.3 L198.4 444.2 L199.7 443.2 L200.9 442.3 L202.2 441.7 L203.4 441.3 L204.7 441.4 L205.9 441.9 L207.2 442.8 L208.5 444.0 L209.7 445.4 L211.0 446.6 L212.2 447.5 L213.5 448.0 L214.7 448.1 L216.0 447.7 L217.3 447.1 L218.5 446.3 L219.8 445.3 L221.0 444.3 L222.3 443.3 L223.5 442.6 L224.8 442.0 L226.0 441.8 L227.3 441.9 L228.6 442.3 L229.8 443.0 L231.1 443.9 L232.3 444.9 L233.6 445.9 L234.8 446.9 L236.1 447.7 L237.4 448.2 L238.6 448.5 L239.9 448.4 L241.1 447.9 L242.4 447.2 L243.6 446.2 L244.9 445.1 L246.2 444.0 L247.4 443.1 L248.7 442.5 L249.9 442.3 L251.2 442.5 L252.4 443.2 L253.7 444.2 L254.9 445.4 L256.2 446.5 L257.5 447.3 L258.7 447.7 L260.0 447.6 L261.2 447.3 L262.5 446.9 L263.7 446.5 L265.0 446.4" stroke="#0c0c0c" stroke-width="1.7" fill="none" stroke-linejoin="round"/>
<path d="M120.5 518.0 L121.8 518.2 L123.0 518.8 L124.3 519.7 L125.5 520.8 L126.8 522.0 L128.0 523.1 L129.3 523.9 L130.5 524.4 L131.8 524.5 L133.1 524.2 L134.3 523.6 L135.6 522.8 L136.8 521.8 L138.1 520.8 L139.3 519.7 L140.6 518.8 L141.8 518.1 L143.1 517.7 L144.4 517.6 L145.6 517.8 L146.9 518.4 L148.1 519.2 L149.4 520.1 L150.6 521.2 L151.9 522.2 L153.1 523.2 L154.4 523.9 L155.7 524.4 L156.9 524.5 L158.2 524.3 L159.4 523.8 L160.7 523.0 L161.9 522.1 L163.2 521.0 L164.4 520.0 L165.7 519.0 L166.9 518.3 L168.2 517.8 L169.5 517.6 L170.7 517.8 L172.0 518.3 L173.2 519.1 L174.5 520.2 L175.7 521.3 L177.0 522.4 L178.2 523.4 L179.5 524.1 L180.8 524.5 L182.0 524.5 L183.3 524.1 L184.5 523.4 L185.8 522.4 L187.0 521.3 L188.3 520.1 L189.5 519.1 L190.8 518.3 L192.1 517.8 L193.3 517.6 L194.6 517.8 L195.8 518.2 L197.1 518.9 L198.3 519.8 L199.6 520.7 L200.8 521.7 L202.1 522.6 L203.4 523.4 L204.6 524.0 L205.9 524.3 L207.1 524.3 L208.4 524.1 L209.6 523.7 L210.9 523.2 L212.1 522.5 L213.4 521.8 L214.7 521.0 L215.9 520.3 L217.2 519.6 L218.4 519.0 L219.7 518.5 L220.9 518.2 L222.2 518.1 L223.4 518.2 L224.7 518.5 L226.0 519.1 L227.2 519.7 L228.5 520.6 L229.7 521.4 L231.0 522.3 L232.2 523.1 L233.5 523.7 L234.7 524.2 L236.0 524.5 L237.3 524.5 L238.5 524.3 L239.8 523.8 L241.0 523.2 L242.3 522.5 L243.5 521.6 L244.8 520.8 L246.0 520.0 L247.3 519.4 L248.6 518.9 L249.8 518.6 L251.1 518.6 L252.3 518.9 L253.6 519.4 L254.8 520.0 L256.1 520.9 L257.3 521.8 L258.6 522.7 L259.8 523.5 L261.1 524.2 L262.4 524.6 L263.6 524.9 L264.9 524.9 L266.1 524.6 L267.4 524.0 L268.6 523.3 L269.9 522.5 L271.1 521.6 L272.4 520.7 L273.7 519.9 L274.9 519.2 L276.2 518.8 L277.4 518.6 L278.7 518.7 L279.9 518.9 L281.2 519.2 L282.4 519.7 L283.7 520.3 L285.0 520.9 L286.2 521.5 L287.5 522.1 L288.7 522.6 L290.0 522.9 L291.2 523.1 L292.5 523.2 L293.7 522.8 L295.0 522.4" stroke="#0c0c0c" stroke-width="1.7" fill="none" stroke-linejoin="round"/>
<path d="M120.5 548.2 L121.8 548.4 L123.0 549.1 L124.3 550.1 L125.5 551.4 L126.8 552.7 L128.0 553.9 L129.3 554.8 L130.5 555.4 L131.8 555.5 L133.0 555.2 L134.3 554.7 L135.5 553.8 L136.8 552.8 L138.0 551.8 L139.3 550.7 L140.5 549.8 L141.8 549.1 L143.0 548.6 L144.3 548.5 L145.5 548.7 L146.8 549.2 L148.0 550.0 L149.3 551.0 L150.5 552.1 L151.8 553.1 L153.0 554.1 L154.3 554.9 L155.5 555.3 L156.8 555.5 L158.1 555.3 L159.3 554.8 L160.6 554.1 L161.8 553.1 L163.1 552.1 L164.3 551.0 L165.6 550.0 L166.8 549.2 L168.1 548.7 L169.3 548.5 L170.6 548.6 L171.8 549.1 L173.1 549.9 L174.3 551.0 L175.6 552.1 L176.8 553.2 L178.1 554.2 L179.3 555.0 L180.6 555.4 L181.8 555.5 L183.1 555.2 L184.3 554.5 L185.6 553.5 L186.8 552.4 L188.1 551.3 L189.3 550.2 L190.6 549.3 L191.8 548.7 L193.1 548.5 L194.4 548.6 L195.6 549.1 L196.9 549.9 L198.1 550.8 L199.4 551.9 L200.6 552.9 L201.9 553.9 L203.1 554.6 L204.4 555.1 L205.6 555.2 L206.9 555.0 L208.1 554.6 L209.4 553.9 L210.6 553.1 L211.9 552.1 L213.1 551.3 L214.4 550.5 L215.6 549.9 L216.9 549.6 L218.1 549.5 L219.4 549.7 L220.6 550.0 L221.9 550.5 L223.1 551.1 L224.4 551.8 L225.6 552.5 L226.9 553.2 L228.2 554.0 L229.4 554.6 L230.7 555.1 L231.9 555.5 L233.2 555.7 L234.4 555.8 L235.7 555.6 L236.9 555.1 L238.2 554.3 L239.4 553.4 L240.7 552.5 L241.9 551.5 L243.2 550.7 L244.4 550.0 L245.7 549.6 L246.9 549.5 L248.2 549.7 L249.4 550.3 L250.7 551.2 L251.9 552.2 L253.2 553.1 L254.4 553.9 L255.7 554.4 L256.9 554.6 L258.2 554.5 L259.4 554.1 L260.7 553.7 L261.9 553.4 L263.2 553.3" stroke="#0c0c0c" stroke-width="1.7" fill="none" stroke-linejoin="round"/>
<path d="M125.0 574.6 L126.2 574.3 L127.5 573.5 L128.8 572.3 L130.0 570.9 L131.2 569.6 L132.5 568.7 L133.8 568.2 L135.0 568.3 L136.2 568.7 L137.5 569.3 L138.8 570.2 L140.0 571.3 L141.2 572.3 L142.5 573.3 L143.8 574.2 L145.0 574.8 L146.2 575.1 L147.5 575.0 L148.8 574.7 L150.0 574.1 L151.2 573.2 L152.5 572.2 L153.8 571.1 L155.0 570.1 L156.2 569.3 L157.5 568.6 L158.8 568.3 L160.0 568.2 L161.2 568.5 L162.5 569.1 L163.8 569.9 L165.0 570.9 L166.2 571.9 L167.5 573.0 L168.8 573.9 L170.0 574.6 L171.2 575.0 L172.5 575.1 L173.8 574.9 L175.0 574.4 L176.2 573.6 L177.5 572.6 L178.8 571.6 L180.0 570.5 L181.2 569.6 L182.5 568.8 L183.8 568.4 L185.0 568.2 L186.2 568.4 L187.5 568.9 L188.8 569.6 L190.0 570.6 L191.2 571.6 L192.5 572.7 L193.8 573.7 L195.0 574.4 L196.2 574.9 L197.5 575.1 L198.8 575.0 L200.0 574.7 L201.2 574.3 L202.5 573.7 L203.8 573.0 L205.0 572.3 L206.2 571.5 L207.5 570.7 L208.8 570.0 L210.0 569.4 L211.2 568.9 L212.5 568.6 L213.8 568.4 L215.0 568.5 L216.2 568.7 L217.5 569.2 L218.8 569.8 L220.0 570.6 L221.2 571.4 L222.5 572.3 L223.8 573.0 L225.0 573.7 L226.2 574.2 L227.5 574.5 L228.8 574.6 L230.0 574.4 L231.2 574.0 L232.5 573.4 L233.8 572.6 L235.0 571.8 L236.2 571.0 L237.5 570.2 L238.8 569.6 L240.0 569.2 L241.2 569.0 L242.5 569.1 L243.8 569.6 L245.0 570.4 L246.2 571.4 L247.5 572.4 L248.8 573.5 L250.0 574.4 L251.2 575.1 L252.5 575.4 L253.8 575.5 L255.0 575.1 L256.2 574.5 L257.5 573.6 L258.8 572.6 L260.0 571.5 L261.2 570.6 L262.5 569.8 L263.8 569.3 L265.0 569.1" stroke="#0c0c0c" stroke-width="1.7" fill="none" stroke-linejoin="round"/>
<path d="M120.5 672.3 L121.8 672.7 L123.0 673.8 L124.3 675.3 L125.5 676.9 L126.8 678.3 L128.0 679.0 L129.3 679.0 L130.6 678.6 L131.8 677.9 L133.1 676.9 L134.3 675.7 L135.6 674.5 L136.8 673.5 L138.1 672.6 L139.4 672.1 L140.6 671.9 L141.9 672.1 L143.1 672.6 L144.4 673.4 L145.6 674.4 L146.9 675.5 L148.2 676.6 L149.4 677.6 L150.7 678.4 L151.9 678.9 L153.2 679.1 L154.4 678.9 L155.7 678.3 L157.0 677.4 L158.2 676.3 L159.5 675.1 L160.7 674.0 L162.0 673.0 L163.2 672.3 L164.5 671.9 L165.8 672.0 L167.0 672.3 L168.3 673.0 L169.5 673.9 L170.8 675.0 L172.0 676.1 L173.3 677.2 L174.6 678.1 L175.8 678.7 L177.1 679.1 L178.3 679.1 L179.6 678.7 L180.8 678.1 L182.1 677.2 L183.4 676.2 L184.6 675.1 L185.9 674.0 L187.1 673.1 L188.4 672.4 L189.6 672.0 L190.9 671.9 L192.2 672.2 L193.4 672.9 L194.7 673.9 L195.9 675.0 L197.2 676.2 L198.4 677.4 L199.7 678.3 L200.9 678.9 L202.2 679.1 L203.5 678.9 L204.7 678.4 L206.0 677.5 L207.2 676.5 L208.5 675.3 L209.7 674.2 L211.0 673.4 L212.3 672.8 L213.5 672.6 L214.8 672.7 L216.0 673.0 L217.3 673.4 L218.5 674.0 L219.8 674.6 L221.1 675.3 L222.3 676.1 L223.6 676.8 L224.8 677.4 L226.1 678.0 L227.3 678.3 L228.6 678.6 L229.9 678.6 L231.1 678.3 L232.4 677.8 L233.6 677.0 L234.9 676.0 L236.1 675.1 L237.4 674.1 L238.7 673.4 L239.9 672.8 L241.2 672.6 L242.4 672.7 L243.7 673.1 L244.9 673.7 L246.2 674.5 L247.5 675.3 L248.7 676.2 L250.0 676.9 L251.2 677.5 L252.5 677.8 L253.7 677.8 L255.0 677.5 L256.3 677.0 L257.5 676.3 L258.8 675.5 L260.0 674.7 L261.3 673.9 L262.5 673.3 L263.8 672.9 L265.1 672.8 L266.3 672.9 L267.6 673.3 L268.8 673.9 L270.1 674.6 L271.3 675.4 L272.6 676.1 L273.9 676.7 L275.1 677.2 L276.4 677.4 L277.6 677.3 L278.9 676.6 L280.1 675.8 L281.4 675.5" stroke="#0c0c0c" stroke-width="1.7" fill="none" stroke-linejoin="round"/>
<path d="M9.1 739.8 L10.4 740.0 L11.6 740.6 L12.9 741.4 L14.1 742.5 L15.4 743.6 L16.6 744.7 L17.9 745.6 L19.1 746.2 L20.4 746.4 L21.6 746.3 L22.9 745.9 L24.1 745.2 L25.4 744.3 L26.6 743.3 L27.9 742.3 L29.1 741.3 L30.4 740.4 L31.6 739.7 L32.9 739.2 L34.1 739.1 L35.4 739.3 L36.6 739.8 L37.9 740.6 L39.1 741.6 L40.4 742.8 L41.6 743.9 L42.9 744.9 L44.1 745.7 L45.4 746.2 L46.6 746.4 L47.9 746.2 L49.1 745.8 L50.4 745.1 L51.6 744.2 L52.9 743.2 L54.1 742.1 L55.4 741.1 L56.6 740.3 L57.9 739.6 L59.1 739.2 L60.4 739.1 L61.6 739.3 L62.9 739.9 L64.1 740.7 L65.4 741.8 L66.6 742.9 L67.9 744.0 L69.1 745.0 L70.4 745.8 L71.6 746.3 L72.9 746.4 L74.1 746.2 L75.4 745.6 L76.6 744.8 L77.9 743.7 L79.1 742.6 L80.4 741.5 L81.6 740.5 L82.9 739.7 L84.1 739.2 L85.4 739.1 L86.6 739.3 L87.9 739.9 L89.1 740.8 L90.4 741.8 L91.6 742.9 L92.9 744.0 L94.1 745.0 L95.4 745.8 L96.6 746.3 L97.9 746.4 L99.2 746.2 L100.4 745.7 L101.7 745.0 L102.9 744.1 L104.2 743.1 L105.4 742.0 L106.7 741.1 L107.9 740.2 L109.2 739.6 L110.4 739.2 L111.7 739.1 L112.9 739.3 L114.2 739.8 L115.4 740.6 L116.7 741.5 L117.9 742.5 L119.2 743.5 L120.4 744.5 L121.7 745.2 L122.9 745.8 L124.2 746.0 L125.4 745.9 L126.7 745.5 L127.9 744.8 L129.2 743.8 L130.4 742.8 L131.7 741.7 L132.9 740.7 L134.2 739.8 L135.4 739.3 L136.7 739.1 L137.9 739.2 L139.2 739.6 L140.4 740.2 L141.7 741.0 L142.9 741.9 L144.2 742.9 L145.4 743.8 L146.7 744.6 L147.9 745.2 L149.2 745.6 L150.4 745.8 L151.7 745.7 L152.9 745.2 L154.2 744.5 L155.4 743.6 L156.7 742.6 L157.9 741.6 L159.2 740.6 L160.4 739.9 L161.7 739.3 L162.9 739.1 L164.2 739.2 L165.4 739.5 L166.7 740.1 L167.9 740.9 L169.2 741.8 L170.4 742.8 L171.7 743.7 L172.9 744.6 L174.2 745.2 L175.4 745.6 L176.7 745.8 L177.9 745.7 L179.2 745.2 L180.4 744.5 L181.7 743.6 L182.9 742.6 L184.2 741.6 L185.4 740.6 L186.7 739.9 L187.9 739.3 L189.2 739.1 L190.5 739.2 L191.7 739.5 L193.0 740.1 L194.2 740.9 L195.5 741.8 L196.7 742.7 L198.0 743.7 L199.2 744.5 L200.5 745.2 L201.7 745.6 L203.0 745.8 L204.2 745.7 L205.5 745.1 L206.7 744.2 L208.0 743.1 L209.2 741.9 L210.5 740.8 L211.7 740.0 L213.0 739.6 L214.2 739.6 L215.5 739.8 L216.7 740.2 L218.0 740.7 L219.2 741.3 L220.5 741.9 L221.7 742.6 L223.0 743.3 L224.2 743.9 L225.5 744.4 L226.7 744.7 L228.0 744.9 L229.2 744.9 L230.5 744.6 L231.7 744.2 L233.0 743.6 L234.2 742.8 L235.5 742.0 L236.7 741.2 L238.0 740.6 L239.2 740.0 L240.5 739.7 L241.7 739.6 L243.0 739.7 L244.2 740.1 L245.5 740.7 L246.7 741.4 L248.0 742.2 L249.2 743.0 L250.5 743.7 L251.7 744.3 L253.0 744.7 L254.2 744.9 L255.5 744.8 L256.7 744.6 L258.0 744.1 L259.2 743.5 L260.5 742.8 L261.7 742.2 L263.0 741.5 L264.2 741.1 L265.5 740.8 L266.7 740.7 L268.0 741.2 L269.2 742.1 L270.5 743.0 L271.7 743.5 L273.0 743.5 L274.2 743.3 L275.5 743.2 L276.7 743.1 L278.0 743.0" stroke="#0c0c0c" stroke-width="1.7" fill="none" stroke-linejoin="round"/>
<path d="M307.8 704.7H316.1V733.7H322.5L310.9 746.7L299.6 733.7H307.8Z" fill="#000"/>
<text x="305" y="700.8" text-anchor="middle" font-size="11.6" font-weight="bold" stroke="#111" stroke-width="0.3">Samples</text>
<rect x="3.9" y="5.6" width="541.3" height="756.8" fill="none" stroke="#111" stroke-width="2"/>
<path d="M4 62.5L546 62.5" stroke="#1c1c1c" stroke-width="1" fill="none"/>
<path d="M33.5 5.5L33.5 743.2" stroke="#1c1c1c" stroke-width="1" fill="none"/>
<path d="M91.5 5.5L91.5 743.2" stroke="#1c1c1c" stroke-width="1" fill="none"/>
<path d="M120.5 5.5L120.5 743.2" stroke="#1c1c1c" stroke-width="1" fill="none"/>
<path d="M208.5 5.5L208.5 762.4" stroke="#1a1a1a" stroke-width="1.2" fill="none"/>
<path d="M330.5 5.5L330.5 762.4" stroke="#1c1c1c" stroke-width="1" fill="none"/>
<path d="M432.5 5.5L432.5 762.4" stroke="#1c1c1c" stroke-width="1" fill="none"/>
<path d="M354.5 62.6L354.5 762.4" stroke="#1c1c1c" stroke-width="1" fill="none"/>
<path d="M4 349.5L33.2 349.5" stroke="#1c1c1c" stroke-width="1" fill="none"/>
<path d="M4 552.5L33.2 552.5" stroke="#1c1c1c" stroke-width="1" fill="none"/>
<path d="M33.2 93.5L91.3 93.5" stroke="#1c1c1c" stroke-width="1" fill="none"/>
<path d="M33.2 218.5L91.3 218.5" stroke="#1c1c1c" stroke-width="1" fill="none"/>
<path d="M33.2 250.5L91.3 250.5" stroke="#1c1c1c" stroke-width="1" fill="none"/>
<path d="M33.2 332.5L91.3 332.5" stroke="#1c1c1c" stroke-width="1" fill="none"/>
<path d="M33.2 349.5L91.3 349.5" stroke="#1c1c1c" stroke-width="1" fill="none"/>
<path d="M33.2 516.5L91.3 516.5" stroke="#1c1c1c" stroke-width="1" fill="none"/>
<path d="M33.2 527.5L91.3 527.5" stroke="#1c1c1c" stroke-width="1" fill="none"/>
<path d="M33.2 552.5L91.3 552.5" stroke="#1c1c1c" stroke-width="1" fill="none"/>
<path d="M33.2 574.5L91.3 574.5" stroke="#1c1c1c" stroke-width="1" fill="none"/>
<path d="M33.2 673.5L91.3 673.5" stroke="#1c1c1c" stroke-width="1" fill="none"/>
<path d="M62.5 93.3L62.5 218.4" stroke="#1c1c1c" stroke-width="1" fill="none"/>
<path d="M62 130.5L91.3 130.5" stroke="#1c1c1c" stroke-width="1" fill="none"/>
<path d="M62 173.5L91.3 173.5" stroke="#1c1c1c" stroke-width="1" fill="none"/>
<path d="M62.5 250.8L62.5 332.9" stroke="#1c1c1c" stroke-width="1" fill="none"/>
<path d="M62 265.5L91.3 265.5" stroke="#1c1c1c" stroke-width="1" fill="none"/>
<path d="M62 297.5L91.3 297.5" stroke="#1c1c1c" stroke-width="1" fill="none"/>
<path d="M52.5 349.5L52.5 516.2" stroke="#1c1c1c" stroke-width="1" fill="none"/>
<path d="M67.5 349.5L67.5 442.8" stroke="#1c1c1c" stroke-width="1" fill="none"/>
<path d="M67.4 379.5L91.3 379.5" stroke="#1c1c1c" stroke-width="1" fill="none"/>
<path d="M67.4 402.5L91.3 402.5" stroke="#1c1c1c" stroke-width="1" fill="none"/>
<path d="M67.4 420.5L91.3 420.5" stroke="#1c1c1c" stroke-width="1" fill="none"/>
<path d="M52 442.5L91.3 442.5" stroke="#1c1c1c" stroke-width="1" fill="none"/>
<path d="M61.5 574.1L61.5 673.2" stroke="#1c1c1c" stroke-width="1" fill="none"/>
<path d="M61.5 608.5L91.3 608.5" stroke="#1c1c1c" stroke-width="1" fill="none"/>
<path d="M91.3 93.5L120.5 93.5" stroke="#1c1c1c" stroke-width="1" fill="none"/>
<path d="M91.3 168.5L120.5 168.5" stroke="#1c1c1c" stroke-width="1" fill="none"/>
<path d="M91.3 250.5L120.5 250.5" stroke="#1c1c1c" stroke-width="1" fill="none"/>
<path d="M91.3 442.5L120.5 442.5" stroke="#1c1c1c" stroke-width="1" fill="none"/>
<path d="M91.3 552.5L120.5 552.5" stroke="#1c1c1c" stroke-width="1" fill="none"/>
<path d="M91.3 574.5L120.5 574.5" stroke="#1c1c1c" stroke-width="1" fill="none"/>
<path d="M91.3 673.5L120.5 673.5" stroke="#1c1c1c" stroke-width="1" fill="none"/>
<path d="M67.4 379.7L120.5 379.7" stroke="#111" stroke-width="1.6" fill="none"/>
<path d="M120.5 109.5L208.5 109.5" stroke="#1c1c1c" stroke-width="1" fill="none"/>
<path d="M120.5 132.5L208.5 132.5" stroke="#1c1c1c" stroke-width="1" fill="none"/>
<path d="M120.5 146.5L208.5 146.5" stroke="#1c1c1c" stroke-width="1" fill="none"/>
<path d="M120.5 168.5L208.5 168.5" stroke="#1c1c1c" stroke-width="1" fill="none"/>
<path d="M120.5 201.5L208.5 201.5" stroke="#1c1c1c" stroke-width="1" fill="none"/>
<path d="M120.5 285.5L208.5 285.5" stroke="#1c1c1c" stroke-width="1" fill="none"/>
<path d="M120.5 333.5L208.5 333.5" stroke="#1c1c1c" stroke-width="1" fill="none"/>
<path d="M120.5 403.5L208.5 403.5" stroke="#1c1c1c" stroke-width="1" fill="none"/>
<path d="M120.5 421.5L208.5 421.5" stroke="#1c1c1c" stroke-width="1" fill="none"/>
<path d="M120.5 609.5L208.5 609.5" stroke="#1c1c1c" stroke-width="1" fill="none"/>
<path d="M120.5 709.5L208.5 709.5" stroke="#1c1c1c" stroke-width="1" fill="none"/>
<path d="M330.3 94.5L432 94.5" stroke="#1c1c1c" stroke-width="1" fill="none"/>
<path d="M354 144.5L432 144.5" stroke="#1c1c1c" stroke-width="1" fill="none"/>
<path d="M330.3 216.5L432 216.5" stroke="#1c1c1c" stroke-width="1" fill="none"/>
<path d="M354 443.5L432 443.5" stroke="#1c1c1c" stroke-width="1" fill="none"/>
<path d="M354 742.5L432 742.5" stroke="#1c1c1c" stroke-width="1" fill="none"/>
<text transform="translate(21.8 34.6) rotate(-90)" text-anchor="middle" font-size="13.3" font-weight="bold" stroke="#111" stroke-width="0.3">Era</text>
<text transform="translate(54.2 34.7) rotate(-90)" text-anchor="middle" font-size="13.3" font-weight="bold" stroke="#111" stroke-width="0.3">Period</text>
<text transform="translate(77 34.7) rotate(-90)" text-anchor="middle" font-size="13.3" font-weight="bold" stroke="#111" stroke-width="0.3">Epoch</text>
<text transform="translate(109.4 34.6) rotate(-90)" text-anchor="middle" font-size="13.3" font-weight="bold" stroke="#111" stroke-width="0.3">Group</text>
<text x="163.6" y="36.9" text-anchor="middle" font-size="13.3" font-weight="bold" stroke="#111" stroke-width="0.3">Formation</text>
<text x="271.2" y="36.9" text-anchor="middle" font-size="13.3" font-weight="bold" stroke="#111" stroke-width="0.3">Lithology</text>
<text x="381" y="31" text-anchor="middle" font-size="12.9" font-weight="bold" stroke="#111" stroke-width="0.3">Tectono-</text>
<text x="380.6" y="47.1" text-anchor="middle" font-size="12.9" font-weight="bold" stroke="#111" stroke-width="0.3">Stratigraphy</text>
<text x="487.4" y="32.4" text-anchor="middle" font-size="12.9" font-weight="bold" stroke="#111" stroke-width="0.3">Stratigraphic</text>
<text x="487.4" y="47.5" text-anchor="middle" font-size="12.9" font-weight="bold" stroke="#111" stroke-width="0.3">Legand</text>
<text transform="translate(27.5 197.1) rotate(-90)" text-anchor="middle" font-size="23.3" font-weight="normal">Cenozoic</text>
<text transform="translate(27.5 445.7) rotate(-90)" text-anchor="middle" font-size="23.1" font-weight="normal">Mesozoic</text>
<text transform="translate(27.3 640.7) rotate(-90)" text-anchor="middle" font-size="23.2" font-weight="normal">Palaeozoic</text>
<text x="62.3" y="76.7" text-anchor="middle" font-size="11.3" font-weight="bold" stroke="#111" stroke-width="0.3">Recent/</text>
<text x="62.3" y="88.4" text-anchor="middle" font-size="11.5" font-weight="bold" stroke="#111" stroke-width="0.3">Pliocene</text>
<text transform="translate(51 158.8) rotate(-90)" text-anchor="middle" font-size="11.5" font-weight="bold" stroke="#111" stroke-width="0.3">Miocene</text>
<text transform="translate(81 111.9) rotate(-90)" text-anchor="middle" font-size="9.5" font-weight="bold" stroke="#111" stroke-width="0.3">Upper</text>
<text transform="translate(81 151.8) rotate(-90)" text-anchor="middle" font-size="9.5" font-weight="bold" stroke="#111" stroke-width="0.3">Middle</text>
<text transform="translate(81 195.2) rotate(-90)" text-anchor="middle" font-size="9.5" font-weight="bold" stroke="#111" stroke-width="0.3">Lower</text>
<text x="62.6" y="239.2" text-anchor="middle" font-size="11.6" font-weight="bold" stroke="#111" stroke-width="0.3">Oligocene</text>
<text transform="translate(51 289.2) rotate(-90)" text-anchor="middle" font-size="11.5" font-weight="bold" stroke="#111" stroke-width="0.3">Eocene</text>
<text x="76.8" y="262" text-anchor="middle" font-size="9.2" font-weight="bold" stroke="#111" stroke-width="0.3">Upper</text>
<text transform="translate(81 282.4) rotate(-90)" text-anchor="middle" font-size="8.7" font-weight="bold" stroke="#111" stroke-width="0.3">Middle</text>
<text transform="translate(81 314.6) rotate(-90)" text-anchor="middle" font-size="9.6" font-weight="bold" stroke="#111" stroke-width="0.3">Lower</text>
<text x="62.3" y="344.3" text-anchor="middle" font-size="11.5" font-weight="bold" stroke="#111" stroke-width="0.3">Paleocene</text>
<text transform="translate(45.5 438.1) rotate(-90)" text-anchor="middle" font-size="11.35" font-weight="bold" stroke="#111" stroke-width="0.3">Cretaceous</text>
<text transform="translate(63 398.6) rotate(-90)" text-anchor="middle" font-size="11.5" font-weight="bold" stroke="#111" stroke-width="0.3">Upper</text>
<text transform="translate(74 482) rotate(-90)" text-anchor="middle" font-size="11.1" font-weight="bold" stroke="#111" stroke-width="0.3">Lower</text>
<text x="79.5" y="361.4" text-anchor="middle" font-size="11" font-weight="bold" stroke="#111" stroke-width="0.3">Ma/</text>
<text x="79.5" y="373.8" text-anchor="middle" font-size="11" font-weight="bold" stroke="#111" stroke-width="0.3">Ca</text>
<text x="79.5" y="389.2" text-anchor="middle" font-size="11" font-weight="bold" stroke="#111" stroke-width="0.3">Sa/</text>
<text x="79.5" y="401.2" text-anchor="middle" font-size="11" font-weight="bold" stroke="#111" stroke-width="0.3">Co</text>
<text x="79.5" y="415.4" text-anchor="middle" font-size="11" font-weight="bold" stroke="#111" stroke-width="0.3">Tur</text>
<text x="79.5" y="434.8" text-anchor="middle" font-size="11" font-weight="bold" stroke="#111" stroke-width="0.3">Cen</text>
<text x="62.3" y="525.8" text-anchor="middle" font-size="11.8" font-weight="bold" stroke="#111" stroke-width="0.3">Jurassic</text>
<text x="62.3" y="544.2" text-anchor="middle" font-size="11.8" font-weight="bold" stroke="#111" stroke-width="0.3">Triassic</text>
<text x="62.3" y="566" text-anchor="middle" font-size="11.6" font-weight="bold" stroke="#111" stroke-width="0.3">Permian</text>
<text transform="translate(48.4 623) rotate(-90)" text-anchor="middle" font-size="11.2" font-weight="bold" stroke="#111" stroke-width="0.3">Carboniferous</text>
<text transform="translate(77.6 590.6) rotate(-90)" text-anchor="middle" font-size="11.4" font-weight="bold" stroke="#111" stroke-width="0.3">Upper</text>
<text transform="translate(77.8 641.2) rotate(-90)" text-anchor="middle" font-size="11.2" font-weight="bold" stroke="#111" stroke-width="0.3">Lower</text>
<text transform="translate(64.8 704.2) rotate(-90)" text-anchor="middle" font-size="11.2" font-weight="bold" stroke="#111" stroke-width="0.3">Cambrian</text>
<text transform="translate(109.3 77.2) rotate(-90)" text-anchor="middle" font-size="10.9" font-weight="bold" stroke="#111" stroke-width="0.3">ElTor</text>
<text transform="translate(109.5 129.4) rotate(-90)" text-anchor="middle" font-size="10.8" font-weight="bold" stroke="#111" stroke-width="0.3">Ras Malaab</text>
<text transform="translate(108.7 205.6) rotate(-90)" text-anchor="middle" font-size="11.6" font-weight="bold" stroke="#111" stroke-width="0.3">Gharandal</text>
<text transform="translate(108.7 308) rotate(-90)" text-anchor="middle" font-size="11.05" font-weight="bold" stroke="#111" stroke-width="0.3">El Egma</text>
<text transform="translate(108.7 411.3) rotate(-90)" text-anchor="middle" font-size="11.3" font-weight="bold" stroke="#111" stroke-width="0.3">Nazazzat</text>
<text transform="translate(108.7 495.2) rotate(-90)" text-anchor="middle" font-size="11" font-weight="bold" stroke="#111" stroke-width="0.3">El Tih</text>
<text transform="translate(108.7 624.5) rotate(-90)" text-anchor="middle" font-size="11.5" font-weight="bold" stroke="#111" stroke-width="0.3">Ataqa</text>
<text transform="translate(108.7 707.2) rotate(-90)" text-anchor="middle" font-size="11.3" font-weight="bold" stroke="#111" stroke-width="0.3">Qebliat</text>
<text x="163.6" y="74.5" text-anchor="middle" font-size="11.8" font-weight="bold" stroke="#111" stroke-width="0.3">Zafarana</text>
<text x="163.6" y="85.8" text-anchor="middle" font-size="11.8" font-weight="bold" stroke="#111" stroke-width="0.3">Wardan</text>
<text x="163.6" y="107.6" text-anchor="middle" font-size="11.8" font-weight="bold" stroke="#111" stroke-width="0.3">Zeit</text>
<text x="163.6" y="128.3" text-anchor="middle" font-size="11.8" font-weight="bold" stroke="#111" stroke-width="0.3">South Gharib</text>
<text x="163.6" y="143.8" text-anchor="middle" font-size="11.8" font-weight="bold" stroke="#111" stroke-width="0.3">Belayim</text>
<text x="163.6" y="162.2" text-anchor="middle" font-size="11.8" font-weight="bold" stroke="#111" stroke-width="0.3">Kareem</text>
<text x="163.6" y="183.9" text-anchor="middle" font-size="11.8" font-weight="bold" stroke="#111" stroke-width="0.3">Rudeis</text>
<text x="164.2" y="211" text-anchor="middle" font-size="9.5" font-weight="bold" stroke="#111" stroke-width="0.3">Nukhul/Abu Zenima</text>
<text x="163.6" y="239.2" text-anchor="middle" font-size="11.8" font-weight="bold" stroke="#111" stroke-width="0.3">Tayiba</text>
<text x="163.6" y="277.5" text-anchor="middle" font-size="11.8" font-weight="bold" stroke="#111" stroke-width="0.3">Mokattam</text>
<text x="164.6" y="314.8" text-anchor="middle" font-size="11.2" font-weight="bold" stroke="#111" stroke-width="0.3">Thebes/Waseiyit</text>
<text x="163.6" y="346.2" text-anchor="middle" font-size="11.8" font-weight="bold" stroke="#111" stroke-width="0.3">Esna</text>
<text x="163.6" y="365.6" text-anchor="middle" font-size="11.8" font-weight="bold" stroke="#111" stroke-width="0.3">Sud</text>
<text x="163.6" y="377.5" text-anchor="middle" font-size="11.8" font-weight="bold" stroke="#111" stroke-width="0.3">Duwi/Thelmet</text>
<text x="163.6" y="396.4" text-anchor="middle" font-size="11.8" font-weight="bold" stroke="#111" stroke-width="0.3">Matulla</text>
<text x="163.6" y="414.6" text-anchor="middle" font-size="11.8" font-weight="bold" stroke="#111" stroke-width="0.3">Wata</text>
<text x="163.6" y="433" text-anchor="middle" font-size="11.8" font-weight="bold" stroke="#111" stroke-width="0.3">Raha</text>
<text x="163.6" y="492.5" text-anchor="middle" font-size="11.8" font-weight="bold" stroke="#111" stroke-width="0.3">Malha</text>
<text x="163.6" y="543.6" text-anchor="middle" font-size="11.8" font-weight="bold" stroke="#111" stroke-width="0.3">Qiseib</text>
<text x="163.6" y="567.6" text-anchor="middle" font-size="11.8" font-weight="bold" stroke="#111" stroke-width="0.3">Volcanics</text>
<text x="163.6" y="592.3" text-anchor="middle" font-size="9.3" font-weight="bold" stroke="#111" stroke-width="0.3">Abu Darag/Ahmeir/</text>
<text x="163.6" y="601.4" text-anchor="middle" font-size="9.3" font-weight="bold" stroke="#111" stroke-width="0.3">Rod el Hamal</text>
<text x="163.6" y="620" text-anchor="middle" font-size="11.8" font-weight="bold" stroke="#111" stroke-width="0.3">Abu Thora</text>
<text x="163.6" y="646" text-anchor="middle" font-size="11.8" font-weight="bold" stroke="#111" stroke-width="0.3">Abu Durba/</text>
<text x="163.6" y="657.9" text-anchor="middle" font-size="11.8" font-weight="bold" stroke="#111" stroke-width="0.3">Um Bogma</text>
<text x="163.6" y="698.6" text-anchor="middle" font-size="11.8" font-weight="bold" stroke="#111" stroke-width="0.3">Naqus</text>
<text x="163.6" y="723" text-anchor="middle" font-size="11.8" font-weight="bold" stroke="#111" stroke-width="0.3">Araba</text>
<text x="106" y="757.4" text-anchor="middle" font-size="11" font-weight="bold" stroke="#111" stroke-width="0.3">Arabian–Nubian Shield</text>
<text x="342.2" y="77.4" text-anchor="middle" font-size="9.5" font-weight="bold" stroke="#111" stroke-width="0.3">Late</text>
<text x="342.2" y="88.6" text-anchor="middle" font-size="9.5" font-weight="bold" stroke="#111" stroke-width="0.3">Rift</text>
<text x="393.2" y="82.9" text-anchor="middle" font-size="10.95" font-weight="bold" stroke="#111" stroke-width="0.3">Post-Miocene</text>
<text transform="translate(346.3 145) rotate(-90)" text-anchor="middle" font-size="12.4" font-weight="bold" stroke="#111" stroke-width="0.3">Syn-Rift</text>
<text x="393" y="124.4" text-anchor="middle" font-size="10.95" font-weight="bold" stroke="#111" stroke-width="0.3">Evaporite</text>
<text x="393.2" y="178.5" text-anchor="middle" font-size="10.95" font-weight="bold" stroke="#111" stroke-width="0.3">Syn-Rift</text>
<text x="393.2" y="191.4" text-anchor="middle" font-size="10.95" font-weight="bold" stroke="#111" stroke-width="0.3">Silici-Clastics</text>
<text transform="translate(348.2 443.5) rotate(-90)" text-anchor="middle" font-size="15.8" font-weight="bold" stroke="#111" stroke-width="0.3">Pre-Rift</text>
<text x="393.8" y="313" text-anchor="middle" font-size="10.95" font-weight="bold" stroke="#111" stroke-width="0.3">“Peri-</text>
<text x="393.8" y="326.1" text-anchor="middle" font-size="10.95" font-weight="bold" stroke="#111" stroke-width="0.3">Neotethyan”</text>
<text x="393.8" y="351.6" text-anchor="middle" font-size="10.95" font-weight="bold" stroke="#111" stroke-width="0.3">Marine Strata</text>
<text x="393.8" y="461.4" text-anchor="middle" font-size="10.95" font-weight="bold" stroke="#111" stroke-width="0.3">Lower</text>
<text x="393.8" y="474.2" text-anchor="middle" font-size="10.95" font-weight="bold" stroke="#111" stroke-width="0.3">Mesozoic</text>
<text x="393.8" y="487" text-anchor="middle" font-size="10.95" font-weight="bold" stroke="#111" stroke-width="0.3">“Nubia</text>
<text x="393.8" y="499.8" text-anchor="middle" font-size="10.95" font-weight="bold" stroke="#111" stroke-width="0.3">sandstone</text>
<text x="393.8" y="512.6" text-anchor="middle" font-size="10.95" font-weight="bold" stroke="#111" stroke-width="0.3">facies”</text>
<text x="393.8" y="557.7" text-anchor="middle" font-size="10.95" font-weight="bold" stroke="#111" stroke-width="0.3">Neotethyan</text>
<text x="393.8" y="570.3" text-anchor="middle" font-size="10.95" font-weight="bold" stroke="#111" stroke-width="0.3">Rifting</text>
<text x="393.8" y="612.8" text-anchor="middle" font-size="10.95" font-weight="bold" stroke="#111" stroke-width="0.3">“Peri-</text>
<text x="393.8" y="625.3" text-anchor="middle" font-size="10.95" font-weight="bold" stroke="#111" stroke-width="0.3">Paleotethyan”</text>
<text x="393.8" y="650.8" text-anchor="middle" font-size="10.95" font-weight="bold" stroke="#111" stroke-width="0.3">Marine Strata</text>
<text x="393.8" y="663.9" text-anchor="middle" font-size="10.95" font-weight="bold" stroke="#111" stroke-width="0.3">and</text>
<text x="393.8" y="677" text-anchor="middle" font-size="10.95" font-weight="bold" stroke="#111" stroke-width="0.3">Paleozoic</text>
<text x="393.8" y="690" text-anchor="middle" font-size="10.95" font-weight="bold" stroke="#111" stroke-width="0.3">“Nubia</text>
<text x="393.8" y="703" text-anchor="middle" font-size="10.95" font-weight="bold" stroke="#111" stroke-width="0.3">sandstone”</text>
<text x="393.8" y="716" text-anchor="middle" font-size="10.95" font-weight="bold" stroke="#111" stroke-width="0.3">facies</text>
<text x="394.1" y="757" text-anchor="middle" font-size="10.95" font-weight="bold" stroke="#111" stroke-width="0.3">Pan-African</text>
<rect x="439.2" y="454.8" width="23" height="13.2" fill="#fff"/>
<g clip-path="url(#lg0)"><path d="M445.65 461.75L447 458.74999999999994L448.35 461.75Z" fill="#000"/><path d="M454.25 465.15000000000003L455.6 462.15L456.95000000000005 465.15000000000003Z" fill="#000"/></g>
<rect x="439.2" y="454.8" width="23" height="13.2" fill="none" stroke="#222" stroke-width="0.9"/>
<text x="474.5" y="464.7" text-anchor="start" font-size="10.75" font-weight="normal">Chert</text>
<rect x="439.2" y="477.2" width="23" height="13.2" fill="#fff"/>
<g clip-path="url(#lg1)"><ellipse cx="450.9" cy="483.8" rx="3.7" ry="1.5" fill="#000"/></g>
<rect x="439.2" y="477.2" width="23" height="13.2" fill="none" stroke="#222" stroke-width="0.9"/>
<text x="474.5" y="489.0" text-anchor="start" font-size="10.75" font-weight="normal">Phosphate</text>
<rect x="439.2" y="501.4" width="23" height="13.2" fill="#D650B4"/>
<g clip-path="url(#lg2)"><path d="M441.9 506.4h5.2M444.5 503.79999999999995v5.2M448.4 509.4h5.2M451 506.79999999999995v5.2M454.9 506.4h5.2M457.5 503.79999999999995v5.2M445.4 513.9h5.2M448 511.29999999999995v5.2M452.4 502.4h5.2M455 499.79999999999995v5.2" stroke="#8a3a78" stroke-width="0.7"/></g>
<rect x="439.2" y="501.4" width="23" height="13.2" fill="none" stroke="#222" stroke-width="0.9"/>
<text x="474.5" y="513.3" text-anchor="start" font-size="10.75" font-weight="normal">Halite</text>
<rect x="439.2" y="526.1" width="23" height="13.2" fill="#D650B4"/>
<g clip-path="url(#lg3)"><path d="M440.6 532.8L443.8 527.6L447.0 532.8M447.7 532.8L450.9 527.6L454.1 532.8M454.6 532.8L457.8 527.6L461.0 532.8" stroke="#1a0a16" stroke-width="0.8" fill="none"/><path d="M437.3 538.3L440.5 533.1L443.7 538.3M444.2 538.3L447.4 533.1L450.6 538.3M451.3 538.3L454.5 533.1L457.7 538.3M457.8 538.3L461.0 533.1L464.2 538.3" stroke="#1a0a16" stroke-width="0.8" fill="none"/></g>
<rect x="439.2" y="526.1" width="23" height="13.2" fill="none" stroke="#222" stroke-width="0.9"/>
<text x="474.5" y="537.6" text-anchor="start" font-size="10.75" font-weight="normal">Anhydrite</text>
<rect x="439.2" y="550.4" width="23" height="13.2" fill="#1668C4"/>
<g clip-path="url(#lg4)"><path d="M439.2 555.0H462.2M439.2 560.0H462.2M445 550.4v4.6M455.5 550.4v4.6M450.5 555.0v5M460 555.0v5M446 560.0v4M455.5 560.0v4" stroke="#06122a" stroke-width="0.9" fill="none"/></g>
<rect x="439.2" y="550.4" width="23" height="13.2" fill="none" stroke="#222" stroke-width="0.9"/>
<text x="474.5" y="561.9" text-anchor="start" font-size="10.75" font-weight="normal">Limestone</text>
<rect x="439.2" y="574.9" width="23" height="13.2" fill="#1668C4"/>
<g clip-path="url(#lg5)"><path d="M439.2 580.5H462.2M439.2 582.5H462.2M441.2 580.5l1.8 -5.6M444.3 580.5l1.8 -5.6M447.4 580.5l1.8 -5.6M450.5 580.5l1.8 -5.6M453.6 580.5l1.8 -5.6M456.7 580.5l1.8 -5.6M459.8 580.5l1.8 -5.6M462.9 580.5l1.8 -5.6M442.2 588.1l1.8 -5.6M447.2 588.1l1.8 -5.6M452.2 588.1l1.8 -5.6M457.2 588.1l1.8 -5.6M462.2 588.1l1.8 -5.6" stroke="#06122a" stroke-width="0.9" fill="none"/></g>
<rect x="439.2" y="574.9" width="23" height="13.2" fill="none" stroke="#222" stroke-width="0.9"/>
<text x="474.5" y="586.5" text-anchor="start" font-size="10.75" font-weight="normal">Dolostone</text>
<rect x="439.2" y="599.4" width="23" height="13.2" fill="#1668C4"/>
<g clip-path="url(#lg6)"><path d="M439.2 605.0H462.2M449.3 599.4v5.6M446 605.0v8M458.6 605.0v8M460.3 605.0v8" stroke="#06122a" stroke-width="0.9" fill="none"/></g>
<rect x="439.2" y="599.4" width="23" height="13.2" fill="none" stroke="#222" stroke-width="0.9"/>
<text x="474.5" y="610.8" text-anchor="start" font-size="10.75" font-weight="normal">Chalk</text>
<rect x="439.2" y="623.5" width="23" height="13.2" fill="#6FD45E"/>
<g clip-path="url(#lg7)"><path d="M436.2 626.1h4.4M443.0 626.1h4.4M449.8 626.1h4.4M456.6 626.1h4.4M439.6 630.1h4.4M446.4 630.1h4.4M453.2 630.1h4.4M460.0 630.1h4.4M436.2 634.1h4.4M443.0 634.1h4.4M449.8 634.1h4.4M456.6 634.1h4.4" stroke="#2f8a2a" stroke-width="1.1"/></g>
<rect x="439.2" y="623.5" width="23" height="13.2" fill="none" stroke="#222" stroke-width="0.9"/>
<text x="474.5" y="634.8" text-anchor="start" font-size="10.75" font-weight="normal">Shale</text>
<rect x="439.2" y="648.2" width="23" height="13.2" fill="url(#sand)"/>
<rect x="439.2" y="648.2" width="23" height="13.2" fill="none" stroke="#222" stroke-width="0.9"/>
<text x="474.5" y="659.6999999999999" text-anchor="start" font-size="10.75" font-weight="normal">Sandstone</text>
<rect x="439.2" y="673.4" width="23" height="13.2" fill="url(#sand)"/>
<g clip-path="url(#lg9)"><circle cx="446" cy="676.8" r="1.0" fill="#fff"/><circle cx="451" cy="678.1999999999999" r="1.0" fill="#fff"/><circle cx="457.3" cy="676.8" r="1.0" fill="#fff"/><circle cx="447" cy="682.0" r="1.0" fill="#fff"/><circle cx="453.5" cy="683.0" r="1.0" fill="#fff"/><circle cx="458.8" cy="679.8" r="1.0" fill="#fff"/></g>
<rect x="439.2" y="673.4" width="23" height="13.2" fill="none" stroke="#222" stroke-width="0.9"/>
<text x="474.5" y="683.6999999999999" text-anchor="start" font-size="10.75" font-weight="normal">Conglomerate</text>
<rect x="439.2" y="698.0" width="23" height="13.2" fill="#F91C2B"/>
<rect x="439.2" y="698.0" width="23" height="13.2" fill="none" stroke="#222" stroke-width="0.9"/>
<text x="474.5" y="708.0" text-anchor="start" font-size="10.75" font-weight="normal">Basalt</text>
<rect x="439.2" y="722.7" width="23" height="13.2" fill="url(#gran)"/>
<rect x="439.2" y="722.7" width="23" height="13.2" fill="none" stroke="#222" stroke-width="0.9"/>
<text x="474.5" y="732.1999999999999" text-anchor="start" font-size="10.75" font-weight="normal">Granite</text>
<rect x="439.2" y="747.1" width="23" height="13.2" fill="#C07A3A"/>
<g clip-path="url(#lg12)"><path d="M439.2 748.6q2.9 -2.2 5.75 0t5.75 0t5.75 0t5.75 0M439.2 751.5q2.9 -2.2 5.75 0t5.75 0t5.75 0t5.75 0M439.2 754.4q2.9 -2.2 5.75 0t5.75 0t5.75 0t5.75 0M439.2 757.3q2.9 -2.2 5.75 0t5.75 0t5.75 0t5.75 0M439.2 760.2q2.9 -2.2 5.75 0t5.75 0t5.75 0t5.75 0" stroke="#241000" stroke-width="1" fill="none"/></g>
<rect x="439.2" y="747.1" width="23" height="13.2" fill="none" stroke="#222" stroke-width="0.9"/>
<text x="474.5" y="756.3" text-anchor="start" font-size="10.75" font-weight="normal">Metamorphic</text>
</svg>
</body></html>
